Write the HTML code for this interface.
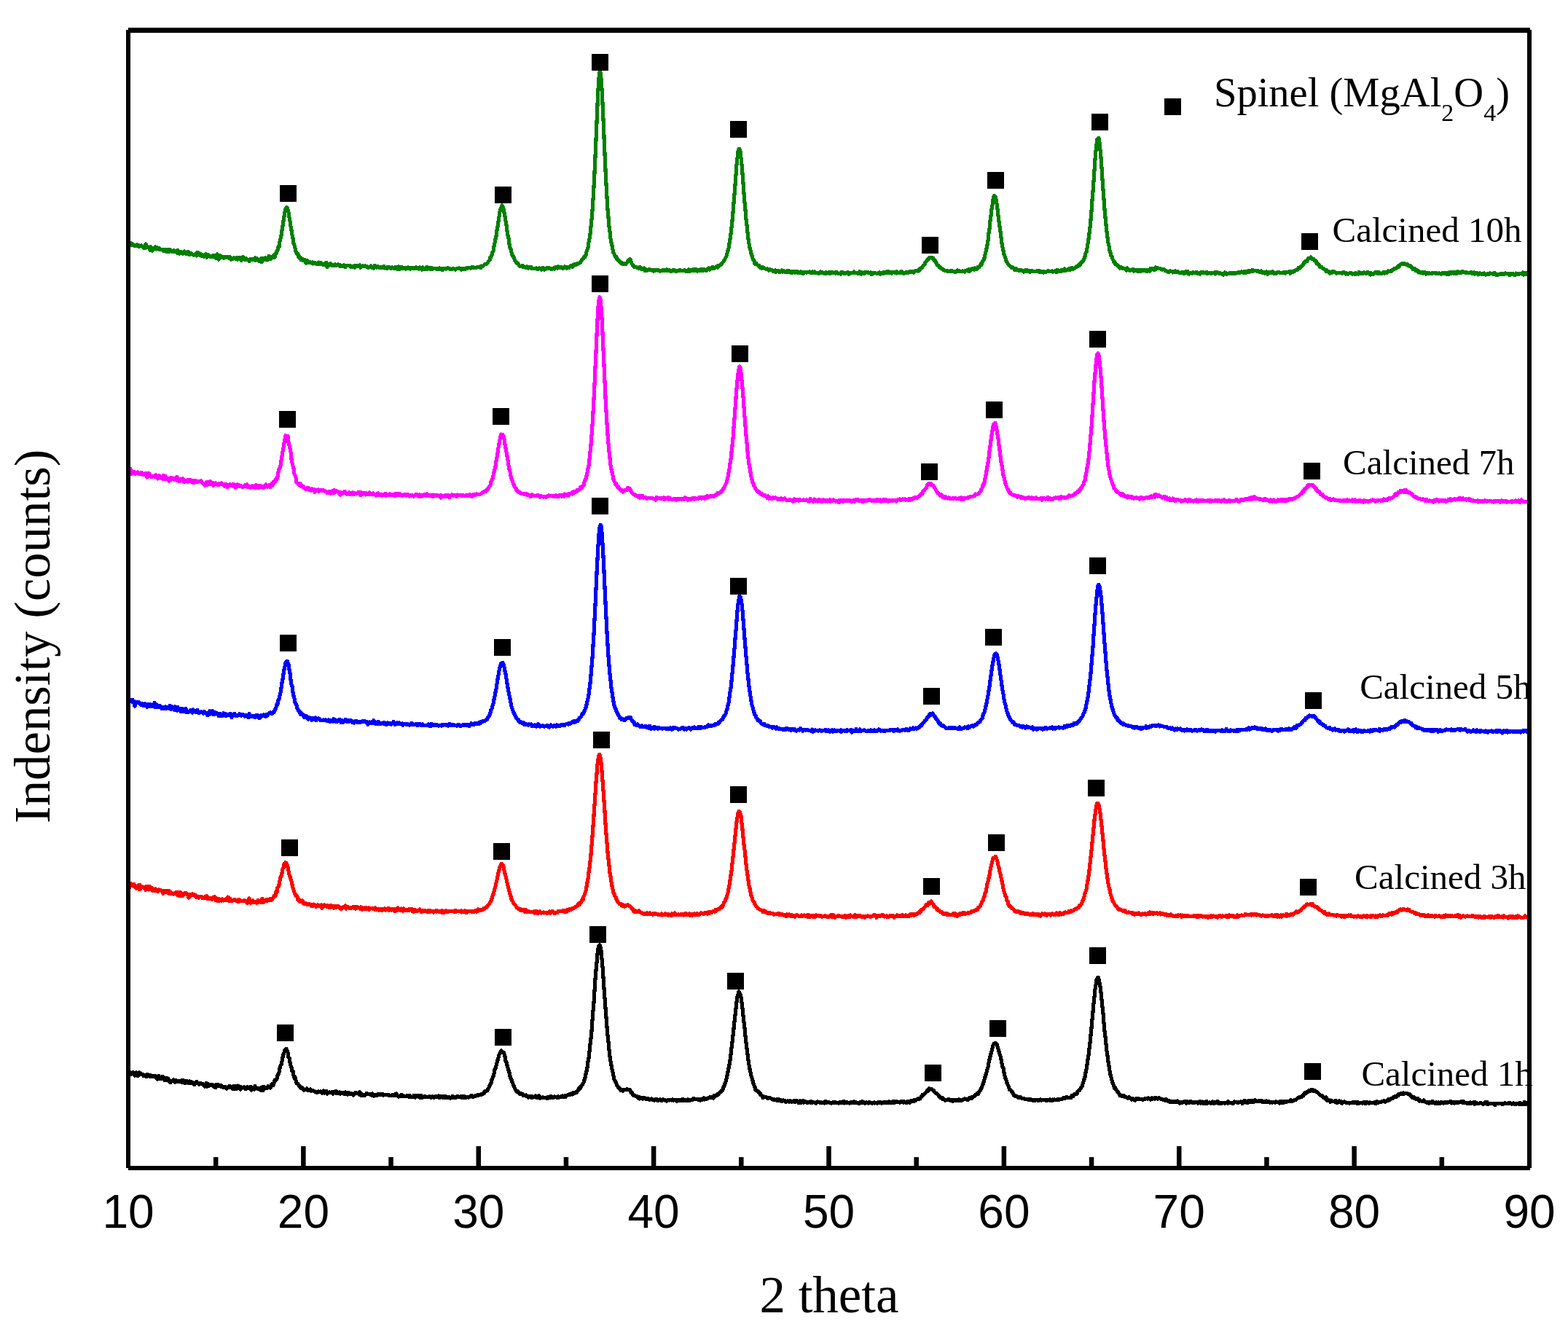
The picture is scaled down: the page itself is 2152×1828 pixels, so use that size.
<!DOCTYPE html><html><head><meta charset="utf-8"><title>XRD patterns</title><style>html,body{margin:0;padding:0;background:#fff;width:2152px;height:1828px;overflow:hidden;}svg{display:block;}.tn{font-family:"Liberation Serif","Times New Roman",serif;fill:#000;}.ar{font-family:"Liberation Sans",Arial,sans-serif;fill:#000;}</style></head><body>
<svg width="2152" height="1828" viewBox="0 0 2152 1828">
<rect width="2152" height="1828" fill="#fff"/>
<path d="M176.0 335.2L177.0 336.2L178.0 335.6L179.0 333.2L180.0 336.9L181.0 336.4L182.0 335.0L183.0 337.0L184.0 336.9L185.0 336.9L186.0 336.7L187.0 337.7L188.0 335.9L189.0 337.0L190.0 336.6L191.0 338.6L192.0 337.9L193.0 337.5L194.0 336.9L195.0 337.9L196.0 338.5L197.0 338.3L198.0 340.9L199.0 340.7L200.0 334.9L201.0 336.4L202.0 339.3L203.0 339.1L204.0 340.3L205.0 340.4L206.0 343.6L207.0 338.7L208.0 340.0L209.0 344.0L210.0 342.0L211.0 342.1L212.0 340.5L213.0 338.8L214.0 341.9L215.0 341.9L216.0 340.0L217.0 341.0L218.0 342.1L219.0 340.9L220.0 342.4L221.0 342.8L222.0 342.9L223.0 342.2L224.0 344.1L225.0 344.7L226.0 344.0L227.0 342.3L228.0 344.9L229.0 343.1L230.0 345.4L231.0 342.6L232.0 345.8L233.0 344.5L234.0 342.7L235.0 344.3L236.0 345.0L237.0 345.5L238.0 343.7L239.0 343.7L240.0 345.8L241.0 344.9L242.0 346.1L243.0 347.1L244.0 343.5L245.0 346.6L246.0 348.2L247.0 346.0L248.0 345.3L249.0 347.8L250.0 347.2L251.0 348.3L252.0 346.6L253.0 345.0L254.0 347.2L255.0 346.8L256.0 348.8L257.0 348.0L258.0 345.4L259.0 346.2L260.0 349.4L261.0 349.2L262.0 347.4L263.0 348.5L264.0 349.3L265.0 349.4L266.0 350.1L267.0 349.3L268.0 348.9L269.0 348.8L270.0 350.9L271.0 346.1L272.0 349.4L273.0 349.7L274.0 347.7L275.0 350.4L276.0 349.1L277.0 351.4L278.0 350.1L279.0 351.3L280.0 352.2L281.0 351.1L282.0 349.4L283.0 348.6L284.0 353.4L285.0 350.9L286.0 350.1L287.0 351.4L288.0 351.1L289.0 352.7L290.0 351.6L291.0 351.7L292.0 350.7L293.0 352.5L294.0 350.5L295.0 353.0L296.0 354.3L297.0 350.1L298.0 348.9L299.0 353.4L300.0 356.2L301.0 351.3L302.0 351.0L303.0 353.7L304.0 351.8L305.0 352.4L306.0 352.7L307.0 354.0L308.0 352.8L309.0 353.8L310.0 353.3L311.0 352.5L312.0 353.3L313.0 352.5L314.0 353.9L315.0 352.4L316.0 352.6L317.0 356.2L318.0 354.2L319.0 354.3L320.0 355.1L321.0 353.9L322.0 354.3L323.0 355.2L324.0 355.1L325.0 353.2L326.0 356.0L327.0 354.2L328.0 353.6L329.0 353.9L330.0 354.7L331.0 357.5L332.0 353.7L333.0 355.6L334.0 352.6L335.0 355.5L336.0 356.8L337.0 355.3L338.0 354.9L339.0 356.1L340.0 356.8L341.0 356.8L342.0 358.5L343.0 356.2L344.0 355.2L345.0 355.9L346.0 356.0L347.0 356.3L348.0 356.1L349.0 356.4L350.0 354.0L351.0 357.3L352.0 355.5L353.0 354.7L354.0 357.1L355.0 358.0L356.0 356.9L357.0 356.4L358.0 355.0L359.0 359.9L360.0 357.2L361.0 354.6L362.0 354.9L363.0 356.0L364.0 353.8L365.0 355.9L366.0 354.9L367.0 356.9L368.0 356.4L369.0 351.4L370.0 354.7L371.0 352.3L372.0 355.4L373.0 353.7L374.0 353.6L375.0 350.9L376.0 353.8L377.0 353.0L378.0 347.8L379.0 348.0L380.0 344.7L381.0 343.1L382.0 338.7L383.0 339.1L384.0 331.5L385.0 327.6L386.0 323.2L387.0 315.8L388.0 310.0L389.0 303.0L390.0 297.3L391.0 290.4L392.0 287.1L393.0 285.0L394.0 284.9L395.0 287.6L396.0 291.5L397.0 298.4L398.0 303.5L399.0 310.3L400.0 316.2L401.0 322.5L402.0 327.1L403.0 334.2L404.0 336.5L405.0 340.6L406.0 345.1L407.0 347.7L408.0 348.9L409.0 348.6L410.0 353.0L411.0 354.0L412.0 353.0L413.0 356.4L414.0 355.4L415.0 355.4L416.0 357.4L417.0 357.5L418.0 358.4L419.0 356.6L420.0 361.0L421.0 358.5L422.0 357.6L423.0 360.4L424.0 359.5L425.0 360.6L426.0 360.0L427.0 360.5L428.0 361.0L429.0 360.1L430.0 361.9L431.0 360.7L432.0 360.4L433.0 361.6L434.0 362.2L435.0 361.5L436.0 360.9L437.0 362.8L438.0 360.1L439.0 361.1L440.0 362.4L441.0 360.9L442.0 362.6L443.0 362.6L444.0 363.8L445.0 361.8L446.0 362.2L447.0 363.4L448.0 360.3L449.0 366.7L450.0 362.5L451.0 362.5L452.0 364.4L453.0 363.5L454.0 361.6L455.0 364.4L456.0 364.7L457.0 363.3L458.0 363.5L459.0 364.5L460.0 363.0L461.0 364.5L462.0 364.3L463.0 363.4L464.0 362.7L465.0 364.1L466.0 363.4L467.0 365.5L468.0 364.6L469.0 365.4L470.0 364.7L471.0 364.9L472.0 363.9L473.0 365.5L474.0 366.7L475.0 364.5L476.0 364.3L477.0 364.8L478.0 364.5L479.0 364.3L480.0 365.3L481.0 364.9L482.0 366.8L483.0 365.3L484.0 365.7L485.0 366.4L486.0 365.1L487.0 367.0L488.0 364.8L489.0 364.7L490.0 365.2L491.0 365.5L492.0 364.2L493.0 365.7L494.0 364.0L495.0 367.3L496.0 365.8L497.0 365.2L498.0 365.0L499.0 365.6L500.0 365.8L501.0 365.0L502.0 365.2L503.0 366.0L504.0 365.7L505.0 367.2L506.0 367.4L507.0 366.3L508.0 366.8L509.0 365.0L510.0 367.1L511.0 366.4L512.0 367.0L513.0 368.2L514.0 364.3L515.0 366.9L516.0 365.5L517.0 367.3L518.0 365.4L519.0 366.3L520.0 367.0L521.0 367.4L522.0 366.9L523.0 366.1L524.0 366.4L525.0 367.8L526.0 367.0L527.0 365.4L528.0 367.9L529.0 367.5L530.0 368.0L531.0 366.8L532.0 368.0L533.0 366.2L534.0 367.8L535.0 366.8L536.0 368.0L537.0 368.3L538.0 366.7L539.0 367.4L540.0 367.5L541.0 368.6L542.0 368.2L543.0 366.4L544.0 368.0L545.0 368.3L546.0 369.6L547.0 366.0L548.0 367.2L549.0 368.9L550.0 366.4L551.0 366.6L552.0 368.2L553.0 368.7L554.0 367.2L555.0 368.3L556.0 368.0L557.0 369.3L558.0 367.9L559.0 368.8L560.0 367.1L561.0 367.8L562.0 367.9L563.0 369.1L564.0 368.6L565.0 367.4L566.0 368.7L567.0 368.8L568.0 368.0L569.0 367.9L570.0 368.0L571.0 366.7L572.0 368.4L573.0 368.5L574.0 367.5L575.0 368.9L576.0 367.1L577.0 367.8L578.0 367.9L579.0 370.1L580.0 367.0L581.0 368.9L582.0 369.2L583.0 368.8L584.0 369.5L585.0 367.6L586.0 366.5L587.0 369.1L588.0 367.5L589.0 368.2L590.0 367.5L591.0 369.4L592.0 369.3L593.0 367.9L594.0 369.3L595.0 368.7L596.0 368.5L597.0 368.7L598.0 368.4L599.0 369.1L600.0 368.9L601.0 368.3L602.0 369.5L603.0 368.1L604.0 368.9L605.0 369.0L606.0 369.9L607.0 368.3L608.0 370.1L609.0 368.8L610.0 368.5L611.0 368.1L612.0 369.2L613.0 368.7L614.0 367.8L615.0 367.8L616.0 368.2L617.0 368.1L618.0 369.6L619.0 369.8L620.0 369.4L621.0 368.9L622.0 368.3L623.0 368.7L624.0 369.3L625.0 370.3L626.0 369.3L627.0 368.3L628.0 368.6L629.0 368.1L630.0 367.9L631.0 368.3L632.0 368.6L633.0 369.9L634.0 368.4L635.0 369.4L636.0 369.7L637.0 368.3L638.0 369.5L639.0 368.7L640.0 367.8L641.0 368.3L642.0 368.0L643.0 367.8L644.0 367.7L645.0 367.9L646.0 368.1L647.0 367.0L648.0 367.5L649.0 366.3L650.0 367.5L651.0 367.7L652.0 367.2L653.0 367.1L654.0 367.2L655.0 366.1L656.0 366.2L657.0 366.6L658.0 366.7L659.0 366.0L660.0 367.4L661.0 365.1L662.0 365.6L663.0 365.4L664.0 363.9L665.0 362.9L666.0 362.1L667.0 362.4L668.0 362.4L669.0 360.8L670.0 359.6L671.0 357.9L672.0 357.0L673.0 353.1L674.0 352.7L675.0 349.9L676.0 345.7L677.0 344.7L678.0 337.9L679.0 333.4L680.0 328.0L681.0 323.9L682.0 316.2L683.0 310.8L684.0 304.2L685.0 297.6L686.0 290.7L687.0 286.7L688.0 285.4L689.0 282.0L690.0 283.3L691.0 286.6L692.0 291.7L693.0 296.9L694.0 303.5L695.0 308.8L696.0 316.8L697.0 322.8L698.0 327.1L699.0 334.8L700.0 340.2L701.0 342.1L702.0 346.4L703.0 350.6L704.0 351.2L705.0 353.1L706.0 355.6L707.0 357.7L708.0 359.1L709.0 361.1L710.0 361.8L711.0 361.5L712.0 363.5L713.0 365.1L714.0 365.1L715.0 365.4L716.0 365.0L717.0 366.1L718.0 364.9L719.0 366.5L720.0 366.1L721.0 367.3L722.0 367.0L723.0 366.0L724.0 367.1L725.0 368.1L726.0 366.5L727.0 367.0L728.0 367.0L729.0 366.6L730.0 368.5L731.0 368.9L732.0 368.6L733.0 368.2L734.0 368.1L735.0 368.4L736.0 367.7L737.0 369.0L738.0 369.1L739.0 369.1L740.0 368.0L741.0 368.5L742.0 368.4L743.0 369.9L744.0 368.7L745.0 367.2L746.0 368.9L747.0 370.0L748.0 369.1L749.0 369.3L750.0 368.6L751.0 367.1L752.0 367.2L753.0 367.6L754.0 368.5L755.0 368.8L756.0 369.0L757.0 368.2L758.0 369.2L759.0 368.2L760.0 367.9L761.0 369.0L762.0 367.6L763.0 366.2L764.0 367.4L765.0 368.2L766.0 365.8L767.0 367.7L768.0 367.7L769.0 366.8L770.0 366.6L771.0 367.3L772.0 367.1L773.0 368.4L774.0 367.6L775.0 366.0L776.0 366.4L777.0 367.4L778.0 368.1L779.0 366.8L780.0 366.5L781.0 367.5L782.0 365.8L783.0 365.4L784.0 364.3L785.0 364.7L786.0 366.4L787.0 363.4L788.0 364.1L789.0 362.6L790.0 363.3L791.0 363.4L792.0 362.0L793.0 362.2L794.0 361.6L795.0 360.7L796.0 360.9L797.0 359.3L798.0 357.6L799.0 356.2L800.0 354.9L801.0 354.5L802.0 352.3L803.0 352.7L804.0 349.9L805.0 345.7L806.0 342.4L807.0 340.1L808.0 332.6L809.0 327.8L810.0 321.7L811.0 311.4L812.0 301.1L813.0 288.4L814.0 274.1L815.0 256.3L816.0 236.8L817.0 215.2L818.0 191.4L819.0 168.3L820.0 143.8L821.0 123.0L822.0 107.4L823.0 99.0L824.0 99.4L825.0 108.3L826.0 122.2L827.0 141.3L828.0 163.6L829.0 187.8L830.0 211.3L831.0 233.1L832.0 252.5L833.0 271.0L834.0 287.5L835.0 298.2L836.0 310.6L837.0 318.3L838.0 327.5L839.0 332.9L840.0 336.8L841.0 342.5L842.0 347.1L843.0 348.5L844.0 351.6L845.0 352.5L846.0 352.6L847.0 356.0L848.0 356.5L849.0 356.8L850.0 359.4L851.0 359.9L852.0 360.0L853.0 361.7L854.0 360.9L855.0 362.4L856.0 361.5L857.0 362.6L858.0 361.2L859.0 362.6L860.0 360.8L861.0 360.4L862.0 357.4L863.0 356.8L864.0 357.6L865.0 355.7L866.0 358.4L867.0 361.7L868.0 363.1L869.0 365.0L870.0 365.2L871.0 366.8L872.0 366.5L873.0 366.5L874.0 366.6L875.0 367.8L876.0 368.0L877.0 368.2L878.0 366.2L879.0 367.5L880.0 368.8L881.0 369.5L882.0 369.0L883.0 368.9L884.0 368.0L885.0 371.3L886.0 369.1L887.0 371.3L888.0 371.3L889.0 370.4L890.0 369.8L891.0 370.4L892.0 369.6L893.0 370.7L894.0 370.6L895.0 371.0L896.0 371.4L897.0 372.0L898.0 370.5L899.0 371.6L900.0 370.3L901.0 370.3L902.0 370.5L903.0 370.3L904.0 371.8L905.0 371.8L906.0 372.1L907.0 371.2L908.0 371.4L909.0 370.8L910.0 370.4L911.0 371.6L912.0 371.5L913.0 370.5L914.0 371.8L915.0 370.1L916.0 371.3L917.0 371.0L918.0 371.1L919.0 370.7L920.0 372.2L921.0 371.9L922.0 372.4L923.0 371.6L924.0 370.6L925.0 371.3L926.0 370.7L927.0 371.9L928.0 372.5L929.0 371.8L930.0 371.1L931.0 371.3L932.0 371.8L933.0 370.5L934.0 371.7L935.0 371.7L936.0 371.2L937.0 371.3L938.0 371.7L939.0 370.9L940.0 370.9L941.0 372.1L942.0 371.7L943.0 372.8L944.0 370.7L945.0 370.1L946.0 372.2L947.0 372.1L948.0 370.8L949.0 370.3L950.0 371.3L951.0 370.0L952.0 371.0L953.0 369.6L954.0 371.0L955.0 369.5L956.0 370.9L957.0 372.2L958.0 370.8L959.0 371.5L960.0 370.3L961.0 370.1L962.0 369.5L963.0 371.4L964.0 370.5L965.0 371.6L966.0 369.4L967.0 370.0L968.0 370.1L969.0 371.0L970.0 371.2L971.0 369.2L972.0 368.6L973.0 368.0L974.0 370.1L975.0 368.9L976.0 368.2L977.0 368.4L978.0 366.3L979.0 366.7L980.0 368.4L981.0 367.6L982.0 367.1L983.0 365.8L984.0 366.6L985.0 367.0L986.0 364.3L987.0 364.6L988.0 363.6L989.0 363.5L990.0 362.4L991.0 361.4L992.0 359.7L993.0 359.1L994.0 357.2L995.0 355.7L996.0 353.7L997.0 351.7L998.0 347.6L999.0 344.1L1000.0 340.7L1001.0 334.4L1002.0 328.0L1003.0 321.4L1004.0 312.4L1005.0 302.5L1006.0 291.6L1007.0 278.5L1008.0 266.8L1009.0 254.1L1010.0 240.2L1011.0 226.2L1012.0 216.9L1013.0 208.2L1014.0 204.4L1015.0 204.5L1016.0 207.3L1017.0 216.6L1018.0 225.8L1019.0 238.6L1020.0 251.6L1021.0 265.4L1022.0 278.3L1023.0 288.4L1024.0 300.7L1025.0 309.1L1026.0 319.2L1027.0 327.7L1028.0 334.4L1029.0 340.2L1030.0 343.6L1031.0 348.0L1032.0 351.1L1033.0 354.6L1034.0 357.1L1035.0 357.5L1036.0 362.2L1037.0 360.7L1038.0 361.5L1039.0 363.3L1040.0 364.3L1041.0 364.9L1042.0 364.6L1043.0 366.9L1044.0 366.3L1045.0 368.0L1046.0 368.3L1047.0 366.7L1048.0 367.3L1049.0 367.7L1050.0 368.9L1051.0 369.1L1052.0 369.5L1053.0 369.0L1054.0 370.2L1055.0 371.1L1056.0 369.3L1057.0 370.3L1058.0 370.9L1059.0 370.8L1060.0 370.9L1061.0 372.5L1062.0 372.3L1063.0 372.1L1064.0 371.0L1065.0 373.4L1066.0 372.1L1067.0 371.5L1068.0 371.8L1069.0 371.8L1070.0 373.8L1071.0 372.5L1072.0 372.5L1073.0 370.9L1074.0 373.1L1075.0 371.8L1076.0 371.9L1077.0 373.2L1078.0 372.2L1079.0 373.5L1080.0 373.8L1081.0 371.7L1082.0 373.0L1083.0 372.0L1084.0 373.1L1085.0 373.9L1086.0 372.3L1087.0 374.7L1088.0 373.1L1089.0 372.5L1090.0 373.4L1091.0 374.1L1092.0 372.5L1093.0 373.6L1094.0 372.6L1095.0 374.5L1096.0 373.8L1097.0 373.4L1098.0 374.5L1099.0 372.8L1100.0 373.5L1101.0 375.2L1102.0 373.8L1103.0 374.9L1104.0 374.0L1105.0 373.4L1106.0 373.8L1107.0 374.0L1108.0 373.7L1109.0 373.4L1110.0 373.5L1111.0 372.9L1112.0 374.2L1113.0 374.4L1114.0 374.7L1115.0 372.8L1116.0 374.8L1117.0 374.2L1118.0 373.1L1119.0 374.3L1120.0 374.8L1121.0 374.6L1122.0 374.8L1123.0 375.0L1124.0 375.0L1125.0 374.3L1126.0 372.8L1127.0 373.8L1128.0 374.6L1129.0 374.0L1130.0 374.9L1131.0 375.0L1132.0 374.4L1133.0 375.8L1134.0 373.7L1135.0 375.1L1136.0 374.1L1137.0 373.9L1138.0 374.9L1139.0 374.0L1140.0 375.1L1141.0 373.6L1142.0 374.5L1143.0 373.9L1144.0 374.3L1145.0 374.2L1146.0 373.7L1147.0 375.0L1148.0 373.6L1149.0 373.8L1150.0 375.2L1151.0 375.3L1152.0 375.1L1153.0 374.8L1154.0 376.3L1155.0 373.7L1156.0 374.0L1157.0 373.9L1158.0 375.3L1159.0 374.8L1160.0 375.5L1161.0 375.4L1162.0 374.5L1163.0 374.0L1164.0 373.9L1165.0 376.3L1166.0 375.4L1167.0 375.1L1168.0 374.4L1169.0 374.5L1170.0 374.4L1171.0 374.4L1172.0 372.9L1173.0 374.6L1174.0 374.4L1175.0 374.9L1176.0 374.8L1177.0 375.3L1178.0 374.7L1179.0 375.3L1180.0 372.7L1181.0 373.8L1182.0 376.0L1183.0 373.8L1184.0 374.5L1185.0 375.2L1186.0 374.0L1187.0 375.2L1188.0 373.6L1189.0 373.2L1190.0 373.7L1191.0 373.4L1192.0 374.6L1193.0 374.4L1194.0 374.9L1195.0 373.9L1196.0 376.5L1197.0 374.6L1198.0 374.6L1199.0 375.0L1200.0 374.4L1201.0 374.1L1202.0 374.7L1203.0 375.3L1204.0 375.1L1205.0 375.3L1206.0 374.2L1207.0 374.0L1208.0 376.1L1209.0 374.4L1210.0 374.9L1211.0 375.1L1212.0 375.6L1213.0 373.5L1214.0 374.2L1215.0 374.2L1216.0 374.3L1217.0 372.7L1218.0 374.4L1219.0 372.3L1220.0 374.7L1221.0 374.8L1222.0 374.9L1223.0 373.5L1224.0 375.1L1225.0 373.7L1226.0 373.4L1227.0 373.6L1228.0 373.7L1229.0 374.4L1230.0 374.9L1231.0 372.7L1232.0 373.8L1233.0 374.9L1234.0 374.3L1235.0 374.5L1236.0 373.0L1237.0 374.8L1238.0 372.8L1239.0 374.1L1240.0 375.0L1241.0 375.3L1242.0 374.2L1243.0 374.4L1244.0 373.3L1245.0 373.3L1246.0 374.5L1247.0 373.5L1248.0 373.3L1249.0 372.3L1250.0 373.3L1251.0 373.6L1252.0 372.4L1253.0 372.5L1254.0 373.9L1255.0 372.6L1256.0 372.0L1257.0 371.1L1258.0 371.2L1259.0 371.1L1260.0 371.9L1261.0 369.9L1262.0 371.1L1263.0 368.4L1264.0 368.0L1265.0 368.0L1266.0 366.2L1267.0 364.6L1268.0 363.8L1269.0 362.9L1270.0 359.8L1271.0 359.4L1272.0 358.0L1273.0 356.4L1274.0 355.9L1275.0 353.9L1276.0 353.2L1277.0 353.1L1278.0 353.6L1279.0 353.2L1280.0 355.2L1281.0 354.4L1282.0 357.3L1283.0 357.1L1284.0 359.0L1285.0 360.9L1286.0 363.6L1287.0 364.0L1288.0 364.3L1289.0 366.7L1290.0 366.6L1291.0 367.0L1292.0 368.8L1293.0 369.2L1294.0 370.4L1295.0 369.8L1296.0 370.9L1297.0 371.4L1298.0 371.4L1299.0 371.4L1300.0 371.1L1301.0 372.5L1302.0 372.1L1303.0 372.4L1304.0 371.9L1305.0 372.2L1306.0 371.5L1307.0 372.4L1308.0 372.9L1309.0 372.5L1310.0 373.0L1311.0 372.6L1312.0 373.4L1313.0 372.2L1314.0 371.1L1315.0 372.7L1316.0 372.2L1317.0 371.6L1318.0 372.7L1319.0 372.4L1320.0 372.5L1321.0 371.8L1322.0 372.1L1323.0 372.1L1324.0 373.1L1325.0 371.2L1326.0 371.6L1327.0 371.8L1328.0 370.1L1329.0 370.0L1330.0 372.7L1331.0 369.5L1332.0 371.1L1333.0 369.8L1334.0 369.6L1335.0 368.5L1336.0 369.0L1337.0 370.0L1338.0 368.0L1339.0 369.1L1340.0 368.4L1341.0 369.2L1342.0 366.7L1343.0 367.4L1344.0 366.3L1345.0 364.5L1346.0 362.4L1347.0 363.5L1348.0 359.7L1349.0 358.4L1350.0 357.0L1351.0 354.3L1352.0 349.4L1353.0 345.8L1354.0 340.8L1355.0 336.1L1356.0 330.6L1357.0 320.0L1358.0 314.0L1359.0 302.7L1360.0 296.1L1361.0 286.8L1362.0 281.6L1363.0 274.2L1364.0 269.7L1365.0 268.6L1366.0 269.8L1367.0 274.0L1368.0 279.4L1369.0 287.1L1370.0 295.8L1371.0 303.6L1372.0 310.6L1373.0 318.3L1374.0 326.3L1375.0 334.4L1376.0 339.2L1377.0 344.0L1378.0 348.9L1379.0 351.4L1380.0 354.6L1381.0 358.4L1382.0 359.8L1383.0 361.4L1384.0 363.4L1385.0 363.9L1386.0 364.8L1387.0 365.7L1388.0 367.2L1389.0 367.4L1390.0 367.0L1391.0 368.1L1392.0 369.2L1393.0 370.5L1394.0 368.6L1395.0 370.0L1396.0 369.8L1397.0 370.8L1398.0 370.8L1399.0 371.7L1400.0 371.2L1401.0 370.6L1402.0 370.7L1403.0 371.6L1404.0 371.7L1405.0 373.3L1406.0 372.9L1407.0 370.8L1408.0 372.1L1409.0 370.9L1410.0 370.7L1411.0 372.6L1412.0 372.5L1413.0 371.4L1414.0 373.4L1415.0 371.5L1416.0 371.4L1417.0 372.8L1418.0 372.5L1419.0 372.3L1420.0 372.4L1421.0 372.6L1422.0 372.4L1423.0 372.4L1424.0 371.1L1425.0 371.5L1426.0 373.0L1427.0 372.0L1428.0 373.0L1429.0 373.5L1430.0 372.3L1431.0 372.8L1432.0 374.1L1433.0 373.1L1434.0 373.9L1435.0 373.7L1436.0 373.1L1437.0 372.4L1438.0 371.8L1439.0 371.6L1440.0 372.7L1441.0 372.7L1442.0 372.2L1443.0 372.9L1444.0 371.8L1445.0 373.0L1446.0 372.2L1447.0 372.1L1448.0 372.0L1449.0 371.9L1450.0 373.8L1451.0 370.6L1452.0 371.9L1453.0 372.6L1454.0 372.1L1455.0 371.3L1456.0 372.7L1457.0 370.5L1458.0 370.2L1459.0 371.5L1460.0 369.8L1461.0 369.0L1462.0 371.3L1463.0 371.0L1464.0 370.8L1465.0 369.7L1466.0 370.0L1467.0 369.0L1468.0 370.8L1469.0 369.8L1470.0 369.5L1471.0 367.2L1472.0 368.9L1473.0 369.1L1474.0 368.5L1475.0 367.8L1476.0 366.7L1477.0 366.0L1478.0 366.2L1479.0 365.4L1480.0 364.6L1481.0 363.5L1482.0 364.1L1483.0 361.0L1484.0 360.8L1485.0 359.1L1486.0 358.8L1487.0 357.3L1488.0 355.0L1489.0 352.1L1490.0 347.4L1491.0 346.2L1492.0 340.5L1493.0 334.6L1494.0 328.3L1495.0 320.3L1496.0 312.0L1497.0 301.6L1498.0 289.4L1499.0 274.9L1500.0 262.7L1501.0 248.4L1502.0 233.6L1503.0 218.9L1504.0 207.0L1505.0 197.7L1506.0 190.6L1507.0 190.1L1508.0 189.7L1509.0 196.1L1510.0 205.5L1511.0 215.9L1512.0 230.2L1513.0 246.1L1514.0 260.4L1515.0 273.4L1516.0 287.6L1517.0 298.4L1518.0 308.4L1519.0 318.1L1520.0 325.8L1521.0 333.3L1522.0 337.3L1523.0 344.0L1524.0 346.9L1525.0 351.2L1526.0 352.1L1527.0 355.3L1528.0 357.6L1529.0 359.8L1530.0 359.6L1531.0 362.9L1532.0 363.0L1533.0 363.2L1534.0 365.3L1535.0 365.1L1536.0 366.5L1537.0 368.0L1538.0 367.3L1539.0 366.8L1540.0 367.3L1541.0 368.5L1542.0 368.6L1543.0 368.1L1544.0 368.5L1545.0 369.8L1546.0 371.3L1547.0 367.8L1548.0 370.6L1549.0 370.1L1550.0 371.0L1551.0 371.2L1552.0 370.8L1553.0 370.1L1554.0 370.0L1555.0 369.7L1556.0 372.2L1557.0 371.2L1558.0 371.0L1559.0 371.3L1560.0 370.6L1561.0 371.9L1562.0 372.7L1563.0 372.6L1564.0 370.6L1565.0 372.8L1566.0 371.1L1567.0 370.3L1568.0 370.7L1569.0 370.9L1570.0 371.5L1571.0 370.6L1572.0 370.1L1573.0 370.9L1574.0 372.4L1575.0 370.2L1576.0 370.8L1577.0 370.3L1578.0 372.0L1579.0 368.3L1580.0 370.3L1581.0 368.2L1582.0 368.4L1583.0 368.6L1584.0 370.8L1585.0 367.7L1586.0 366.7L1587.0 369.0L1588.0 367.4L1589.0 367.9L1590.0 368.2L1591.0 368.5L1592.0 368.5L1593.0 369.1L1594.0 369.5L1595.0 370.2L1596.0 369.6L1597.0 369.7L1598.0 369.8L1599.0 371.4L1600.0 371.2L1601.0 372.0L1602.0 372.2L1603.0 373.3L1604.0 372.5L1605.0 373.1L1606.0 371.8L1607.0 372.1L1608.0 372.8L1609.0 372.3L1610.0 373.9L1611.0 372.5L1612.0 373.6L1613.0 371.8L1614.0 372.9L1615.0 373.6L1616.0 373.7L1617.0 372.6L1618.0 374.1L1619.0 374.8L1620.0 374.6L1621.0 373.7L1622.0 373.7L1623.0 373.3L1624.0 374.7L1625.0 375.4L1626.0 373.9L1627.0 373.1L1628.0 374.5L1629.0 374.9L1630.0 372.4L1631.0 374.6L1632.0 376.1L1633.0 375.1L1634.0 374.9L1635.0 374.8L1636.0 375.3L1637.0 373.9L1638.0 374.0L1639.0 374.9L1640.0 374.1L1641.0 374.8L1642.0 373.2L1643.0 375.2L1644.0 375.3L1645.0 374.7L1646.0 374.8L1647.0 375.9L1648.0 373.9L1649.0 374.1L1650.0 373.9L1651.0 374.4L1652.0 374.0L1653.0 374.8L1654.0 374.3L1655.0 373.7L1656.0 373.6L1657.0 375.7L1658.0 374.8L1659.0 374.7L1660.0 374.9L1661.0 374.8L1662.0 375.4L1663.0 375.3L1664.0 374.4L1665.0 374.2L1666.0 374.1L1667.0 373.9L1668.0 375.9L1669.0 374.2L1670.0 373.4L1671.0 374.3L1672.0 374.3L1673.0 375.1L1674.0 374.2L1675.0 375.3L1676.0 375.2L1677.0 375.8L1678.0 376.5L1679.0 377.0L1680.0 375.9L1681.0 374.0L1682.0 374.6L1683.0 375.1L1684.0 376.4L1685.0 375.4L1686.0 375.8L1687.0 374.7L1688.0 375.3L1689.0 375.4L1690.0 374.5L1691.0 375.4L1692.0 375.6L1693.0 374.6L1694.0 375.5L1695.0 375.9L1696.0 374.7L1697.0 374.6L1698.0 374.3L1699.0 374.0L1700.0 374.5L1701.0 374.0L1702.0 374.0L1703.0 373.5L1704.0 372.8L1705.0 373.1L1706.0 373.9L1707.0 372.7L1708.0 372.9L1709.0 374.4L1710.0 373.8L1711.0 372.3L1712.0 373.0L1713.0 371.9L1714.0 373.4L1715.0 371.6L1716.0 371.9L1717.0 372.7L1718.0 371.0L1719.0 372.5L1720.0 370.9L1721.0 371.7L1722.0 371.4L1723.0 371.6L1724.0 371.9L1725.0 371.9L1726.0 371.4L1727.0 373.0L1728.0 373.0L1729.0 373.7L1730.0 373.9L1731.0 372.1L1732.0 374.2L1733.0 374.4L1734.0 373.2L1735.0 374.5L1736.0 375.0L1737.0 373.6L1738.0 373.0L1739.0 373.9L1740.0 376.3L1741.0 374.5L1742.0 373.4L1743.0 374.2L1744.0 373.7L1745.0 374.2L1746.0 374.6L1747.0 372.6L1748.0 374.8L1749.0 375.6L1750.0 374.4L1751.0 374.2L1752.0 375.3L1753.0 373.6L1754.0 373.6L1755.0 373.4L1756.0 374.3L1757.0 374.7L1758.0 374.3L1759.0 374.8L1760.0 374.9L1761.0 374.6L1762.0 373.6L1763.0 374.0L1764.0 375.0L1765.0 373.2L1766.0 373.8L1767.0 373.5L1768.0 373.6L1769.0 372.8L1770.0 372.5L1771.0 375.3L1772.0 373.9L1773.0 372.4L1774.0 372.7L1775.0 373.0L1776.0 371.9L1777.0 372.3L1778.0 371.0L1779.0 370.8L1780.0 370.5L1781.0 369.6L1782.0 367.5L1783.0 368.6L1784.0 368.0L1785.0 367.3L1786.0 365.3L1787.0 365.2L1788.0 364.1L1789.0 361.4L1790.0 359.9L1791.0 360.7L1792.0 358.4L1793.0 358.7L1794.0 358.5L1795.0 355.5L1796.0 354.6L1797.0 354.5L1798.0 354.6L1799.0 353.1L1800.0 355.1L1801.0 355.2L1802.0 355.5L1803.0 355.4L1804.0 357.4L1805.0 358.4L1806.0 358.0L1807.0 361.6L1808.0 361.0L1809.0 362.7L1810.0 363.2L1811.0 365.0L1812.0 366.6L1813.0 366.1L1814.0 366.4L1815.0 368.1L1816.0 368.2L1817.0 369.3L1818.0 370.3L1819.0 370.9L1820.0 372.4L1821.0 371.1L1822.0 372.5L1823.0 372.1L1824.0 373.8L1825.0 375.0L1826.0 373.5L1827.0 374.7L1828.0 373.2L1829.0 372.6L1830.0 373.0L1831.0 372.9L1832.0 373.4L1833.0 374.1L1834.0 375.2L1835.0 374.9L1836.0 374.8L1837.0 374.2L1838.0 374.1L1839.0 374.7L1840.0 374.8L1841.0 374.9L1842.0 375.1L1843.0 374.7L1844.0 373.4L1845.0 374.1L1846.0 374.3L1847.0 376.2L1848.0 374.7L1849.0 375.5L1850.0 376.1L1851.0 375.3L1852.0 374.8L1853.0 374.9L1854.0 374.4L1855.0 375.4L1856.0 376.0L1857.0 375.6L1858.0 375.8L1859.0 375.7L1860.0 376.7L1861.0 374.7L1862.0 375.3L1863.0 375.7L1864.0 376.2L1865.0 373.4L1866.0 374.8L1867.0 375.1L1868.0 374.5L1869.0 375.9L1870.0 375.4L1871.0 374.9L1872.0 374.0L1873.0 374.2L1874.0 374.5L1875.0 375.5L1876.0 374.3L1877.0 373.6L1878.0 374.1L1879.0 374.7L1880.0 376.4L1881.0 377.0L1882.0 374.7L1883.0 375.8L1884.0 376.1L1885.0 376.0L1886.0 374.9L1887.0 374.0L1888.0 374.6L1889.0 373.5L1890.0 375.0L1891.0 375.4L1892.0 373.4L1893.0 374.7L1894.0 374.9L1895.0 375.5L1896.0 375.5L1897.0 375.0L1898.0 373.8L1899.0 373.9L1900.0 374.9L1901.0 373.4L1902.0 373.7L1903.0 374.7L1904.0 373.4L1905.0 372.0L1906.0 372.5L1907.0 372.9L1908.0 371.9L1909.0 372.5L1910.0 372.2L1911.0 370.3L1912.0 369.9L1913.0 369.6L1914.0 368.2L1915.0 368.7L1916.0 367.6L1917.0 367.6L1918.0 365.9L1919.0 364.9L1920.0 366.3L1921.0 363.6L1922.0 363.1L1923.0 362.5L1924.0 362.4L1925.0 361.6L1926.0 362.0L1927.0 361.5L1928.0 361.8L1929.0 362.5L1930.0 363.1L1931.0 363.4L1932.0 363.0L1933.0 364.4L1934.0 364.7L1935.0 365.4L1936.0 364.8L1937.0 367.3L1938.0 367.4L1939.0 369.5L1940.0 369.3L1941.0 368.6L1942.0 369.0L1943.0 371.5L1944.0 370.4L1945.0 372.1L1946.0 371.7L1947.0 373.9L1948.0 372.7L1949.0 374.1L1950.0 374.2L1951.0 373.1L1952.0 373.5L1953.0 375.0L1954.0 374.1L1955.0 373.6L1956.0 375.2L1957.0 376.4L1958.0 374.5L1959.0 375.7L1960.0 374.6L1961.0 375.8L1962.0 374.7L1963.0 375.9L1964.0 375.4L1965.0 374.9L1966.0 375.2L1967.0 374.7L1968.0 374.3L1969.0 374.4L1970.0 375.2L1971.0 374.4L1972.0 375.6L1973.0 375.7L1974.0 375.6L1975.0 374.9L1976.0 375.3L1977.0 375.3L1978.0 376.3L1979.0 374.7L1980.0 375.0L1981.0 375.1L1982.0 375.1L1983.0 374.6L1984.0 374.7L1985.0 375.9L1986.0 374.6L1987.0 375.7L1988.0 376.5L1989.0 375.9L1990.0 373.5L1991.0 375.3L1992.0 375.0L1993.0 375.0L1994.0 373.2L1995.0 374.9L1996.0 373.4L1997.0 375.1L1998.0 374.8L1999.0 375.8L2000.0 373.5L2001.0 372.6L2002.0 374.4L2003.0 374.2L2004.0 373.3L2005.0 374.6L2006.0 374.1L2007.0 372.6L2008.0 373.4L2009.0 373.4L2010.0 373.7L2011.0 374.1L2012.0 373.5L2013.0 374.0L2014.0 374.7L2015.0 374.4L2016.0 374.3L2017.0 374.4L2018.0 374.7L2019.0 373.4L2020.0 375.1L2021.0 374.3L2022.0 375.2L2023.0 374.1L2024.0 376.0L2025.0 375.6L2026.0 374.4L2027.0 375.7L2028.0 375.0L2029.0 376.9L2030.0 376.0L2031.0 375.1L2032.0 375.9L2033.0 375.7L2034.0 376.6L2035.0 376.0L2036.0 376.2L2037.0 375.0L2038.0 376.4L2039.0 377.4L2040.0 376.3L2041.0 375.8L2042.0 376.0L2043.0 375.2L2044.0 376.0L2045.0 375.1L2046.0 375.9L2047.0 375.6L2048.0 375.3L2049.0 376.4L2050.0 374.8L2051.0 375.9L2052.0 374.9L2053.0 377.3L2054.0 377.4L2055.0 376.6L2056.0 377.4L2057.0 376.4L2058.0 376.4L2059.0 375.7L2060.0 375.3L2061.0 376.1L2062.0 375.6L2063.0 375.7L2064.0 376.5L2065.0 375.9L2066.0 374.8L2067.0 375.8L2068.0 375.4L2069.0 375.8L2070.0 375.2L2071.0 376.9L2072.0 377.4L2073.0 375.2L2074.0 376.5L2075.0 376.5L2076.0 375.2L2077.0 376.1L2078.0 377.1L2079.0 376.7L2080.0 377.2L2081.0 375.1L2082.0 375.5L2083.0 376.2L2084.0 376.3L2085.0 376.0L2086.0 375.7L2087.0 375.7L2088.0 375.6L2089.0 376.4L2090.0 374.0L2091.0 377.2L2092.0 375.6L2093.0 375.0L2094.0 376.4L2095.0 375.0L2096.0 376.3L2097.0 375.7L2098.0 376.5L2099.0 376.6" fill="none" stroke="#008000" stroke-width="5.2" stroke-linejoin="round" shape-rendering="crispEdges"/>
<path d="M176.0 647.2L177.0 646.2L178.0 646.6L179.0 643.5L180.0 650.5L181.0 649.7L182.0 647.5L183.0 649.4L184.0 648.8L185.0 647.7L186.0 650.3L187.0 648.5L188.0 648.6L189.0 648.1L190.0 650.2L191.0 649.5L192.0 650.8L193.0 649.1L194.0 650.4L195.0 649.0L196.0 651.9L197.0 651.1L198.0 651.5L199.0 651.8L200.0 649.7L201.0 652.7L202.0 654.9L203.0 649.2L204.0 649.2L205.0 649.8L206.0 653.7L207.0 652.7L208.0 654.4L209.0 654.0L210.0 653.3L211.0 653.6L212.0 653.0L213.0 654.8L214.0 651.8L215.0 653.1L216.0 654.3L217.0 656.9L218.0 653.1L219.0 652.7L220.0 653.7L221.0 656.2L222.0 654.5L223.0 657.1L224.0 652.3L225.0 657.1L226.0 657.1L227.0 653.4L228.0 656.0L229.0 657.8L230.0 656.2L231.0 657.7L232.0 660.0L233.0 656.9L234.0 656.2L235.0 655.6L236.0 657.9L237.0 656.8L238.0 656.9L239.0 657.2L240.0 658.5L241.0 656.0L242.0 655.4L243.0 654.2L244.0 659.8L245.0 658.3L246.0 660.6L247.0 658.4L248.0 657.4L249.0 659.4L250.0 658.7L251.0 657.1L252.0 657.8L253.0 661.9L254.0 659.9L255.0 660.1L256.0 659.2L257.0 658.7L258.0 661.2L259.0 659.8L260.0 659.0L261.0 660.0L262.0 659.0L263.0 660.8L264.0 662.3L265.0 659.5L266.0 662.9L267.0 660.0L268.0 661.3L269.0 660.0L270.0 661.0L271.0 661.5L272.0 660.9L273.0 660.6L274.0 660.8L275.0 660.7L276.0 659.7L277.0 661.7L278.0 662.8L279.0 663.7L280.0 663.4L281.0 666.1L282.0 663.1L283.0 662.1L284.0 665.6L285.0 661.5L286.0 664.5L287.0 661.9L288.0 663.9L289.0 660.6L290.0 664.8L291.0 663.4L292.0 662.4L293.0 666.3L294.0 665.1L295.0 664.1L296.0 663.1L297.0 664.2L298.0 664.2L299.0 665.5L300.0 665.7L301.0 663.7L302.0 664.0L303.0 664.1L304.0 663.1L305.0 664.2L306.0 665.0L307.0 666.2L308.0 667.2L309.0 664.3L310.0 666.3L311.0 665.0L312.0 668.6L313.0 665.7L314.0 666.6L315.0 664.7L316.0 665.0L317.0 666.4L318.0 665.7L319.0 666.8L320.0 664.3L321.0 667.4L322.0 665.3L323.0 669.0L324.0 666.3L325.0 668.3L326.0 665.0L327.0 667.5L328.0 665.8L329.0 666.4L330.0 667.2L331.0 666.8L332.0 667.7L333.0 668.4L334.0 668.3L335.0 667.4L336.0 665.7L337.0 666.5L338.0 667.4L339.0 664.9L340.0 668.8L341.0 667.5L342.0 667.5L343.0 669.2L344.0 668.9L345.0 668.3L346.0 666.7L347.0 668.5L348.0 668.5L349.0 666.9L350.0 669.5L351.0 668.8L352.0 665.6L353.0 668.3L354.0 666.5L355.0 669.6L356.0 669.2L357.0 666.6L358.0 666.9L359.0 668.1L360.0 667.6L361.0 669.8L362.0 668.7L363.0 667.3L364.0 668.3L365.0 664.8L366.0 667.7L367.0 668.2L368.0 666.6L369.0 665.7L370.0 667.0L371.0 668.4L372.0 665.8L373.0 663.6L374.0 666.2L375.0 661.2L376.0 663.3L377.0 660.7L378.0 661.2L379.0 657.2L380.0 657.8L381.0 653.9L382.0 648.2L383.0 644.2L384.0 642.0L385.0 639.1L386.0 632.2L387.0 626.2L388.0 619.6L389.0 614.5L390.0 608.1L391.0 602.9L392.0 597.6L393.0 598.6L394.0 599.2L395.0 598.5L396.0 607.2L397.0 610.8L398.0 615.6L399.0 620.3L400.0 629.7L401.0 635.5L402.0 639.5L403.0 642.9L404.0 650.6L405.0 652.2L406.0 655.4L407.0 662.0L408.0 663.3L409.0 663.7L410.0 663.5L411.0 666.0L412.0 663.5L413.0 667.2L414.0 666.9L415.0 666.9L416.0 667.1L417.0 670.0L418.0 669.9L419.0 670.4L420.0 671.6L421.0 669.9L422.0 669.7L423.0 669.3L424.0 671.3L425.0 672.8L426.0 671.9L427.0 673.0L428.0 671.1L429.0 672.1L430.0 671.9L431.0 671.5L432.0 675.3L433.0 674.3L434.0 672.5L435.0 672.6L436.0 673.6L437.0 672.1L438.0 674.4L439.0 672.5L440.0 673.7L441.0 673.0L442.0 673.7L443.0 672.9L444.0 672.7L445.0 673.5L446.0 673.9L447.0 674.4L448.0 674.9L449.0 676.6L450.0 675.9L451.0 674.8L452.0 675.9L453.0 674.4L454.0 676.9L455.0 676.0L456.0 673.9L457.0 676.3L458.0 676.5L459.0 672.6L460.0 674.8L461.0 675.2L462.0 673.7L463.0 674.7L464.0 674.9L465.0 676.5L466.0 676.4L467.0 679.0L468.0 675.7L469.0 677.5L470.0 676.3L471.0 676.6L472.0 675.1L473.0 674.3L474.0 675.6L475.0 677.3L476.0 678.3L477.0 677.3L478.0 677.2L479.0 675.8L480.0 678.4L481.0 678.2L482.0 676.3L483.0 676.8L484.0 675.9L485.0 678.5L486.0 677.5L487.0 677.0L488.0 677.6L489.0 677.6L490.0 676.8L491.0 676.0L492.0 676.0L493.0 675.5L494.0 677.9L495.0 679.7L496.0 675.7L497.0 677.7L498.0 678.0L499.0 676.6L500.0 677.8L501.0 676.5L502.0 678.9L503.0 677.1L504.0 677.9L505.0 678.5L506.0 677.4L507.0 676.1L508.0 677.4L509.0 678.8L510.0 677.9L511.0 678.3L512.0 677.0L513.0 678.3L514.0 678.9L515.0 678.2L516.0 680.1L517.0 678.1L518.0 677.3L519.0 676.7L520.0 679.5L521.0 678.4L522.0 679.4L523.0 678.9L524.0 680.1L525.0 679.8L526.0 678.2L527.0 678.9L528.0 679.7L529.0 677.5L530.0 680.1L531.0 679.9L532.0 679.7L533.0 678.6L534.0 679.1L535.0 677.8L536.0 679.0L537.0 678.4L538.0 679.0L539.0 678.5L540.0 679.3L541.0 680.2L542.0 677.8L543.0 680.0L544.0 677.2L545.0 677.1L546.0 679.1L547.0 679.2L548.0 679.7L549.0 677.7L550.0 679.3L551.0 679.5L552.0 680.5L553.0 679.3L554.0 679.9L555.0 678.5L556.0 679.3L557.0 679.1L558.0 680.2L559.0 678.6L560.0 678.8L561.0 680.1L562.0 681.3L563.0 680.0L564.0 680.0L565.0 679.4L566.0 680.7L567.0 680.2L568.0 681.3L569.0 680.1L570.0 679.0L571.0 679.3L572.0 679.0L573.0 678.8L574.0 681.0L575.0 680.7L576.0 678.9L577.0 681.6L578.0 680.2L579.0 679.2L580.0 680.4L581.0 680.0L582.0 679.4L583.0 678.4L584.0 680.2L585.0 680.4L586.0 677.9L587.0 680.7L588.0 680.7L589.0 679.8L590.0 680.3L591.0 680.0L592.0 679.5L593.0 680.0L594.0 681.5L595.0 679.1L596.0 680.5L597.0 680.5L598.0 679.8L599.0 680.0L600.0 679.2L601.0 679.7L602.0 680.4L603.0 680.7L604.0 679.7L605.0 683.0L606.0 680.0L607.0 680.6L608.0 680.3L609.0 680.1L610.0 681.5L611.0 680.1L612.0 681.6L613.0 681.4L614.0 679.6L615.0 681.3L616.0 680.0L617.0 682.7L618.0 680.2L619.0 679.7L620.0 678.9L621.0 679.4L622.0 680.0L623.0 679.7L624.0 679.5L625.0 679.9L626.0 680.3L627.0 681.6L628.0 679.1L629.0 679.9L630.0 679.6L631.0 679.2L632.0 679.3L633.0 679.6L634.0 680.8L635.0 680.1L636.0 679.8L637.0 680.6L638.0 680.3L639.0 679.9L640.0 680.3L641.0 679.3L642.0 680.4L643.0 680.2L644.0 679.4L645.0 678.8L646.0 680.8L647.0 679.6L648.0 681.7L649.0 678.8L650.0 679.8L651.0 678.7L652.0 679.1L653.0 679.4L654.0 678.0L655.0 678.4L656.0 678.4L657.0 678.1L658.0 678.2L659.0 678.3L660.0 677.8L661.0 677.1L662.0 676.3L663.0 675.3L664.0 675.1L665.0 674.7L666.0 674.9L667.0 673.4L668.0 671.9L669.0 672.2L670.0 669.9L671.0 668.5L672.0 667.2L673.0 665.6L674.0 661.0L675.0 659.2L676.0 656.9L677.0 652.8L678.0 648.2L679.0 643.7L680.0 639.9L681.0 632.9L682.0 627.7L683.0 621.6L684.0 614.5L685.0 609.3L686.0 603.5L687.0 599.2L688.0 596.1L689.0 596.7L690.0 596.5L691.0 598.9L692.0 602.5L693.0 609.8L694.0 614.8L695.0 620.3L696.0 626.1L697.0 631.5L698.0 638.6L699.0 643.9L700.0 647.4L701.0 653.7L702.0 657.2L703.0 659.2L704.0 662.4L705.0 665.0L706.0 667.6L707.0 669.2L708.0 669.6L709.0 673.2L710.0 673.4L711.0 675.0L712.0 675.8L713.0 675.4L714.0 676.4L715.0 677.2L716.0 677.6L717.0 677.3L718.0 677.3L719.0 678.2L720.0 677.8L721.0 678.3L722.0 677.4L723.0 679.2L724.0 678.5L725.0 679.1L726.0 679.6L727.0 680.0L728.0 681.4L729.0 680.2L730.0 679.1L731.0 680.4L732.0 680.0L733.0 680.8L734.0 680.1L735.0 680.1L736.0 680.4L737.0 680.3L738.0 679.5L739.0 680.4L740.0 681.0L741.0 681.9L742.0 680.8L743.0 680.8L744.0 681.5L745.0 681.5L746.0 682.4L747.0 681.6L748.0 681.2L749.0 682.2L750.0 682.3L751.0 680.8L752.0 681.3L753.0 679.9L754.0 680.9L755.0 680.5L756.0 680.9L757.0 680.7L758.0 680.9L759.0 680.9L760.0 681.3L761.0 681.1L762.0 680.4L763.0 679.8L764.0 681.7L765.0 681.7L766.0 680.3L767.0 680.9L768.0 679.3L769.0 679.1L770.0 680.0L771.0 681.2L772.0 679.2L773.0 679.2L774.0 680.9L775.0 678.1L776.0 679.9L777.0 679.6L778.0 678.8L779.0 678.9L780.0 680.5L781.0 677.5L782.0 677.8L783.0 677.6L784.0 676.9L785.0 676.1L786.0 677.9L787.0 676.5L788.0 674.6L789.0 674.9L790.0 675.2L791.0 674.7L792.0 672.7L793.0 673.0L794.0 672.5L795.0 671.8L796.0 670.9L797.0 668.2L798.0 669.8L799.0 667.3L800.0 667.0L801.0 666.0L802.0 661.7L803.0 658.6L804.0 657.3L805.0 653.1L806.0 648.7L807.0 643.2L808.0 639.1L809.0 630.1L810.0 620.4L811.0 610.5L812.0 597.3L813.0 583.6L814.0 566.4L815.0 547.0L816.0 527.5L817.0 504.3L818.0 482.4L819.0 460.3L820.0 438.6L821.0 421.7L822.0 411.3L823.0 407.7L824.0 410.4L825.0 420.8L826.0 436.7L827.0 457.0L828.0 479.4L829.0 501.2L830.0 523.7L831.0 545.1L832.0 563.7L833.0 581.4L834.0 596.7L835.0 609.2L836.0 619.8L837.0 628.9L838.0 638.4L839.0 644.1L840.0 647.8L841.0 652.3L842.0 657.9L843.0 660.6L844.0 662.0L845.0 664.9L846.0 664.7L847.0 667.3L848.0 669.2L849.0 668.4L850.0 670.2L851.0 672.2L852.0 673.2L853.0 672.5L854.0 673.7L855.0 675.0L856.0 673.6L857.0 672.7L858.0 673.2L859.0 672.2L860.0 672.6L861.0 670.7L862.0 669.4L863.0 671.8L864.0 670.3L865.0 672.3L866.0 674.0L867.0 675.7L868.0 676.7L869.0 678.2L870.0 678.7L871.0 678.4L872.0 679.9L873.0 680.4L874.0 680.7L875.0 681.3L876.0 681.0L877.0 682.6L878.0 683.0L879.0 680.4L880.0 682.2L881.0 681.8L882.0 680.6L883.0 683.0L884.0 682.3L885.0 682.6L886.0 682.5L887.0 683.9L888.0 684.1L889.0 683.5L890.0 683.9L891.0 683.4L892.0 683.7L893.0 683.1L894.0 683.7L895.0 683.2L896.0 684.1L897.0 684.5L898.0 684.2L899.0 684.9L900.0 686.1L901.0 682.5L902.0 684.2L903.0 683.8L904.0 683.9L905.0 683.3L906.0 684.4L907.0 684.2L908.0 683.9L909.0 684.3L910.0 684.0L911.0 682.8L912.0 685.3L913.0 684.3L914.0 683.9L915.0 684.8L916.0 684.1L917.0 683.0L918.0 685.3L919.0 683.4L920.0 684.5L921.0 684.8L922.0 685.8L923.0 685.6L924.0 684.9L925.0 684.2L926.0 684.5L927.0 685.6L928.0 686.1L929.0 685.2L930.0 684.3L931.0 685.6L932.0 684.5L933.0 684.5L934.0 684.6L935.0 685.2L936.0 685.0L937.0 685.5L938.0 685.7L939.0 685.1L940.0 683.0L941.0 683.4L942.0 684.8L943.0 684.6L944.0 686.2L945.0 684.6L946.0 684.5L947.0 685.2L948.0 685.3L949.0 684.3L950.0 684.8L951.0 683.5L952.0 683.6L953.0 685.2L954.0 683.2L955.0 684.9L956.0 684.6L957.0 684.6L958.0 684.6L959.0 684.3L960.0 682.2L961.0 683.0L962.0 683.2L963.0 684.2L964.0 682.6L965.0 682.8L966.0 682.9L967.0 684.0L968.0 681.8L969.0 681.7L970.0 683.1L971.0 680.8L972.0 682.5L973.0 681.7L974.0 680.7L975.0 681.3L976.0 680.6L977.0 681.2L978.0 681.1L979.0 681.6L980.0 680.1L981.0 679.9L982.0 678.9L983.0 678.9L984.0 679.2L985.0 676.5L986.0 677.8L987.0 676.3L988.0 676.0L989.0 675.4L990.0 674.9L991.0 673.3L992.0 671.6L993.0 670.8L994.0 668.9L995.0 666.7L996.0 664.7L997.0 662.4L998.0 658.5L999.0 654.5L1000.0 648.6L1001.0 643.8L1002.0 635.9L1003.0 630.1L1004.0 620.1L1005.0 611.7L1006.0 601.8L1007.0 587.0L1008.0 575.1L1009.0 560.7L1010.0 546.2L1011.0 532.8L1012.0 522.1L1013.0 513.4L1014.0 506.5L1015.0 502.9L1016.0 505.0L1017.0 511.3L1018.0 521.4L1019.0 531.9L1020.0 544.8L1021.0 559.1L1022.0 571.8L1023.0 585.1L1024.0 597.4L1025.0 607.6L1026.0 619.5L1027.0 628.5L1028.0 636.8L1029.0 642.0L1030.0 648.2L1031.0 654.4L1032.0 658.1L1033.0 662.4L1034.0 663.6L1035.0 666.9L1036.0 668.3L1037.0 670.8L1038.0 671.7L1039.0 673.7L1040.0 675.2L1041.0 675.9L1042.0 674.9L1043.0 677.7L1044.0 678.0L1045.0 677.5L1046.0 678.2L1047.0 679.4L1048.0 680.3L1049.0 679.9L1050.0 679.4L1051.0 681.2L1052.0 681.5L1053.0 683.5L1054.0 681.0L1055.0 684.1L1056.0 683.8L1057.0 682.9L1058.0 684.2L1059.0 683.2L1060.0 684.1L1061.0 682.9L1062.0 683.7L1063.0 683.1L1064.0 682.8L1065.0 683.9L1066.0 683.8L1067.0 684.8L1068.0 685.5L1069.0 684.5L1070.0 684.8L1071.0 685.0L1072.0 683.7L1073.0 685.2L1074.0 685.1L1075.0 685.2L1076.0 684.4L1077.0 683.9L1078.0 685.2L1079.0 685.7L1080.0 686.6L1081.0 686.5L1082.0 686.8L1083.0 686.0L1084.0 686.7L1085.0 685.7L1086.0 686.4L1087.0 686.6L1088.0 688.0L1089.0 686.2L1090.0 685.1L1091.0 687.2L1092.0 685.6L1093.0 686.2L1094.0 686.0L1095.0 685.6L1096.0 687.3L1097.0 686.8L1098.0 685.9L1099.0 686.5L1100.0 686.1L1101.0 686.9L1102.0 686.2L1103.0 685.9L1104.0 686.1L1105.0 686.2L1106.0 686.8L1107.0 685.9L1108.0 686.6L1109.0 687.0L1110.0 688.4L1111.0 687.3L1112.0 684.5L1113.0 686.4L1114.0 686.5L1115.0 687.0L1116.0 688.0L1117.0 687.4L1118.0 685.1L1119.0 687.1L1120.0 686.9L1121.0 687.2L1122.0 687.9L1123.0 686.1L1124.0 687.7L1125.0 685.7L1126.0 687.0L1127.0 687.2L1128.0 688.7L1129.0 686.4L1130.0 685.7L1131.0 687.5L1132.0 686.5L1133.0 688.2L1134.0 686.5L1135.0 686.4L1136.0 688.0L1137.0 687.1L1138.0 687.8L1139.0 686.0L1140.0 688.3L1141.0 686.6L1142.0 687.7L1143.0 686.3L1144.0 685.9L1145.0 686.9L1146.0 687.2L1147.0 688.3L1148.0 687.4L1149.0 687.7L1150.0 687.6L1151.0 689.5L1152.0 686.5L1153.0 688.1L1154.0 687.0L1155.0 687.3L1156.0 686.7L1157.0 688.0L1158.0 686.2L1159.0 686.2L1160.0 687.0L1161.0 686.3L1162.0 687.7L1163.0 687.8L1164.0 686.6L1165.0 687.7L1166.0 686.7L1167.0 687.1L1168.0 687.2L1169.0 688.6L1170.0 687.2L1171.0 686.5L1172.0 686.5L1173.0 688.0L1174.0 685.9L1175.0 686.8L1176.0 686.9L1177.0 685.3L1178.0 686.8L1179.0 687.9L1180.0 687.3L1181.0 686.5L1182.0 687.6L1183.0 687.5L1184.0 688.6L1185.0 686.6L1186.0 686.8L1187.0 687.1L1188.0 687.0L1189.0 687.2L1190.0 687.0L1191.0 686.6L1192.0 685.9L1193.0 686.7L1194.0 686.0L1195.0 686.3L1196.0 686.6L1197.0 687.4L1198.0 687.7L1199.0 686.3L1200.0 687.2L1201.0 687.6L1202.0 687.0L1203.0 685.8L1204.0 685.4L1205.0 687.6L1206.0 687.6L1207.0 687.2L1208.0 686.1L1209.0 688.0L1210.0 687.8L1211.0 686.9L1212.0 686.7L1213.0 685.4L1214.0 687.4L1215.0 685.6L1216.0 687.3L1217.0 687.4L1218.0 686.9L1219.0 688.0L1220.0 686.5L1221.0 687.2L1222.0 687.3L1223.0 686.9L1224.0 686.4L1225.0 687.6L1226.0 686.9L1227.0 686.4L1228.0 686.4L1229.0 686.6L1230.0 688.2L1231.0 686.6L1232.0 686.3L1233.0 685.6L1234.0 685.5L1235.0 684.9L1236.0 686.5L1237.0 686.3L1238.0 685.4L1239.0 685.0L1240.0 685.8L1241.0 685.6L1242.0 685.0L1243.0 686.1L1244.0 685.9L1245.0 685.7L1246.0 686.2L1247.0 685.1L1248.0 686.5L1249.0 684.6L1250.0 685.6L1251.0 685.5L1252.0 684.7L1253.0 684.9L1254.0 683.5L1255.0 683.0L1256.0 683.7L1257.0 682.9L1258.0 683.5L1259.0 682.6L1260.0 682.4L1261.0 681.5L1262.0 680.6L1263.0 679.7L1264.0 678.3L1265.0 677.1L1266.0 677.8L1267.0 673.6L1268.0 673.3L1269.0 672.7L1270.0 670.7L1271.0 669.9L1272.0 667.8L1273.0 665.2L1274.0 664.8L1275.0 663.3L1276.0 664.7L1277.0 665.1L1278.0 664.1L1279.0 665.6L1280.0 666.0L1281.0 666.5L1282.0 668.6L1283.0 669.3L1284.0 671.5L1285.0 673.6L1286.0 675.3L1287.0 677.0L1288.0 677.0L1289.0 678.5L1290.0 679.5L1291.0 680.5L1292.0 678.6L1293.0 680.8L1294.0 682.5L1295.0 681.5L1296.0 682.9L1297.0 683.7L1298.0 681.9L1299.0 683.4L1300.0 683.9L1301.0 683.9L1302.0 682.8L1303.0 684.3L1304.0 683.7L1305.0 684.8L1306.0 684.6L1307.0 683.9L1308.0 684.4L1309.0 683.8L1310.0 683.8L1311.0 683.1L1312.0 684.1L1313.0 684.9L1314.0 684.3L1315.0 684.2L1316.0 683.7L1317.0 683.7L1318.0 684.6L1319.0 682.9L1320.0 685.5L1321.0 683.8L1322.0 685.4L1323.0 684.5L1324.0 683.2L1325.0 683.9L1326.0 683.4L1327.0 683.4L1328.0 683.5L1329.0 682.3L1330.0 682.1L1331.0 682.0L1332.0 681.1L1333.0 681.7L1334.0 681.7L1335.0 681.4L1336.0 681.1L1337.0 680.2L1338.0 680.7L1339.0 678.1L1340.0 678.8L1341.0 678.2L1342.0 678.4L1343.0 677.4L1344.0 676.5L1345.0 674.7L1346.0 674.0L1347.0 670.9L1348.0 669.7L1349.0 665.6L1350.0 665.7L1351.0 662.2L1352.0 656.7L1353.0 651.9L1354.0 645.8L1355.0 640.3L1356.0 635.0L1357.0 627.7L1358.0 619.1L1359.0 611.9L1360.0 603.9L1361.0 597.3L1362.0 590.9L1363.0 585.1L1364.0 582.1L1365.0 580.9L1366.0 580.3L1367.0 585.1L1368.0 589.7L1369.0 596.5L1370.0 601.7L1371.0 611.3L1372.0 618.0L1373.0 626.2L1374.0 634.1L1375.0 638.7L1376.0 644.9L1377.0 651.9L1378.0 655.0L1379.0 659.2L1380.0 663.8L1381.0 666.2L1382.0 669.4L1383.0 671.2L1384.0 672.7L1385.0 674.9L1386.0 677.1L1387.0 676.4L1388.0 678.4L1389.0 678.9L1390.0 678.8L1391.0 679.7L1392.0 679.1L1393.0 679.8L1394.0 680.9L1395.0 681.0L1396.0 682.3L1397.0 680.6L1398.0 681.6L1399.0 681.6L1400.0 682.2L1401.0 683.4L1402.0 681.8L1403.0 683.5L1404.0 682.6L1405.0 682.9L1406.0 684.0L1407.0 683.2L1408.0 684.0L1409.0 683.7L1410.0 683.6L1411.0 683.5L1412.0 682.6L1413.0 683.4L1414.0 684.2L1415.0 684.2L1416.0 683.0L1417.0 684.9L1418.0 684.7L1419.0 683.3L1420.0 683.5L1421.0 684.7L1422.0 683.1L1423.0 683.8L1424.0 684.4L1425.0 684.3L1426.0 684.4L1427.0 684.8L1428.0 683.9L1429.0 684.1L1430.0 686.0L1431.0 683.4L1432.0 684.1L1433.0 684.5L1434.0 684.0L1435.0 685.3L1436.0 684.5L1437.0 684.9L1438.0 682.4L1439.0 685.2L1440.0 685.1L1441.0 683.7L1442.0 685.2L1443.0 684.4L1444.0 684.8L1445.0 685.4L1446.0 684.1L1447.0 683.2L1448.0 683.9L1449.0 682.8L1450.0 683.1L1451.0 683.1L1452.0 683.0L1453.0 684.3L1454.0 684.0L1455.0 682.6L1456.0 684.0L1457.0 681.7L1458.0 682.4L1459.0 682.6L1460.0 683.4L1461.0 682.9L1462.0 682.5L1463.0 683.0L1464.0 682.3L1465.0 682.6L1466.0 680.7L1467.0 679.8L1468.0 680.5L1469.0 681.1L1470.0 680.4L1471.0 680.5L1472.0 680.0L1473.0 679.4L1474.0 679.2L1475.0 677.5L1476.0 678.3L1477.0 676.1L1478.0 676.1L1479.0 674.4L1480.0 675.0L1481.0 672.5L1482.0 673.7L1483.0 670.4L1484.0 670.2L1485.0 668.2L1486.0 665.7L1487.0 665.0L1488.0 661.0L1489.0 659.1L1490.0 653.3L1491.0 648.7L1492.0 642.2L1493.0 637.4L1494.0 629.8L1495.0 620.3L1496.0 609.6L1497.0 597.3L1498.0 586.7L1499.0 571.4L1500.0 554.4L1501.0 540.2L1502.0 523.3L1503.0 512.5L1504.0 501.0L1505.0 491.9L1506.0 485.9L1507.0 484.7L1508.0 487.4L1509.0 495.8L1510.0 504.8L1511.0 517.5L1512.0 531.3L1513.0 546.3L1514.0 562.1L1515.0 577.1L1516.0 589.6L1517.0 601.9L1518.0 612.2L1519.0 622.0L1520.0 630.8L1521.0 639.7L1522.0 645.6L1523.0 651.5L1524.0 655.6L1525.0 658.7L1526.0 661.3L1527.0 664.6L1528.0 666.0L1529.0 670.5L1530.0 670.8L1531.0 671.7L1532.0 674.7L1533.0 673.9L1534.0 675.6L1535.0 675.8L1536.0 677.0L1537.0 677.1L1538.0 678.3L1539.0 679.6L1540.0 678.0L1541.0 677.8L1542.0 680.9L1543.0 680.4L1544.0 681.3L1545.0 680.7L1546.0 682.4L1547.0 682.9L1548.0 680.9L1549.0 682.5L1550.0 681.8L1551.0 681.2L1552.0 682.4L1553.0 683.2L1554.0 681.9L1555.0 682.1L1556.0 684.1L1557.0 683.4L1558.0 683.7L1559.0 682.7L1560.0 683.1L1561.0 683.8L1562.0 683.9L1563.0 683.9L1564.0 685.0L1565.0 683.9L1566.0 682.6L1567.0 683.1L1568.0 683.7L1569.0 684.6L1570.0 683.1L1571.0 683.2L1572.0 683.3L1573.0 682.7L1574.0 682.4L1575.0 682.7L1576.0 683.4L1577.0 682.8L1578.0 682.0L1579.0 682.2L1580.0 680.7L1581.0 682.2L1582.0 681.7L1583.0 681.2L1584.0 679.5L1585.0 682.1L1586.0 678.3L1587.0 679.7L1588.0 679.7L1589.0 681.0L1590.0 679.5L1591.0 681.0L1592.0 680.9L1593.0 681.1L1594.0 682.2L1595.0 683.0L1596.0 682.5L1597.0 682.4L1598.0 681.2L1599.0 684.3L1600.0 683.3L1601.0 682.4L1602.0 684.2L1603.0 685.5L1604.0 684.5L1605.0 683.9L1606.0 686.7L1607.0 685.7L1608.0 685.7L1609.0 686.3L1610.0 684.1L1611.0 685.8L1612.0 685.8L1613.0 687.8L1614.0 685.7L1615.0 685.8L1616.0 685.2L1617.0 685.7L1618.0 686.3L1619.0 686.7L1620.0 686.4L1621.0 688.1L1622.0 687.0L1623.0 687.2L1624.0 687.7L1625.0 687.2L1626.0 686.4L1627.0 685.6L1628.0 687.1L1629.0 686.2L1630.0 687.9L1631.0 686.3L1632.0 685.2L1633.0 687.0L1634.0 687.8L1635.0 686.9L1636.0 687.2L1637.0 687.2L1638.0 688.4L1639.0 687.3L1640.0 687.1L1641.0 686.6L1642.0 685.9L1643.0 688.2L1644.0 688.0L1645.0 686.4L1646.0 687.6L1647.0 687.4L1648.0 686.9L1649.0 687.0L1650.0 687.8L1651.0 686.3L1652.0 686.9L1653.0 687.2L1654.0 687.3L1655.0 687.1L1656.0 687.5L1657.0 687.7L1658.0 686.6L1659.0 687.4L1660.0 686.9L1661.0 688.5L1662.0 686.3L1663.0 687.2L1664.0 687.9L1665.0 687.1L1666.0 687.1L1667.0 686.9L1668.0 687.6L1669.0 686.5L1670.0 687.3L1671.0 687.3L1672.0 686.3L1673.0 687.6L1674.0 687.0L1675.0 687.6L1676.0 688.0L1677.0 687.6L1678.0 686.5L1679.0 687.6L1680.0 686.1L1681.0 686.8L1682.0 688.6L1683.0 687.3L1684.0 688.5L1685.0 687.2L1686.0 687.3L1687.0 686.4L1688.0 688.0L1689.0 687.1L1690.0 687.7L1691.0 687.5L1692.0 687.6L1693.0 687.4L1694.0 687.1L1695.0 687.1L1696.0 686.5L1697.0 685.3L1698.0 687.2L1699.0 688.4L1700.0 687.5L1701.0 688.4L1702.0 686.9L1703.0 685.6L1704.0 685.5L1705.0 686.6L1706.0 686.2L1707.0 685.6L1708.0 686.1L1709.0 684.7L1710.0 685.5L1711.0 684.7L1712.0 684.8L1713.0 685.3L1714.0 684.1L1715.0 685.1L1716.0 684.9L1717.0 683.1L1718.0 685.4L1719.0 682.6L1720.0 683.4L1721.0 684.1L1722.0 681.8L1723.0 684.5L1724.0 684.7L1725.0 683.9L1726.0 684.4L1727.0 684.5L1728.0 684.4L1729.0 685.6L1730.0 684.7L1731.0 685.2L1732.0 685.7L1733.0 686.2L1734.0 686.6L1735.0 684.8L1736.0 684.5L1737.0 686.1L1738.0 686.3L1739.0 685.6L1740.0 686.7L1741.0 687.1L1742.0 687.0L1743.0 688.0L1744.0 686.0L1745.0 686.8L1746.0 688.3L1747.0 687.4L1748.0 686.0L1749.0 687.0L1750.0 687.8L1751.0 688.5L1752.0 687.4L1753.0 687.8L1754.0 686.0L1755.0 686.6L1756.0 687.7L1757.0 686.0L1758.0 686.7L1759.0 685.3L1760.0 687.8L1761.0 686.5L1762.0 687.0L1763.0 685.3L1764.0 685.4L1765.0 687.7L1766.0 685.9L1767.0 685.7L1768.0 686.3L1769.0 686.2L1770.0 684.2L1771.0 684.7L1772.0 685.3L1773.0 685.0L1774.0 685.0L1775.0 684.1L1776.0 683.9L1777.0 683.9L1778.0 682.7L1779.0 682.1L1780.0 681.8L1781.0 681.6L1782.0 680.8L1783.0 679.8L1784.0 679.1L1785.0 678.3L1786.0 677.6L1787.0 676.6L1788.0 674.2L1789.0 674.8L1790.0 671.6L1791.0 672.1L1792.0 669.9L1793.0 669.8L1794.0 669.1L1795.0 665.9L1796.0 667.0L1797.0 666.2L1798.0 665.3L1799.0 665.8L1800.0 665.2L1801.0 666.0L1802.0 665.7L1803.0 667.8L1804.0 668.5L1805.0 669.7L1806.0 669.7L1807.0 672.8L1808.0 674.0L1809.0 673.7L1810.0 674.6L1811.0 675.7L1812.0 677.6L1813.0 678.9L1814.0 678.5L1815.0 678.3L1816.0 681.0L1817.0 681.4L1818.0 682.2L1819.0 683.0L1820.0 682.3L1821.0 683.7L1822.0 683.8L1823.0 684.7L1824.0 685.7L1825.0 685.1L1826.0 684.7L1827.0 686.5L1828.0 686.3L1829.0 685.7L1830.0 684.7L1831.0 685.5L1832.0 686.4L1833.0 686.8L1834.0 686.1L1835.0 686.9L1836.0 686.2L1837.0 686.5L1838.0 687.2L1839.0 686.7L1840.0 687.1L1841.0 687.7L1842.0 687.9L1843.0 686.7L1844.0 687.0L1845.0 686.2L1846.0 686.2L1847.0 687.5L1848.0 686.9L1849.0 685.9L1850.0 687.7L1851.0 686.7L1852.0 687.1L1853.0 687.7L1854.0 687.7L1855.0 687.4L1856.0 686.0L1857.0 687.9L1858.0 687.0L1859.0 686.4L1860.0 685.8L1861.0 688.5L1862.0 687.6L1863.0 687.6L1864.0 688.0L1865.0 687.5L1866.0 686.4L1867.0 688.0L1868.0 688.3L1869.0 687.9L1870.0 688.7L1871.0 689.0L1872.0 686.9L1873.0 687.2L1874.0 688.2L1875.0 687.6L1876.0 687.6L1877.0 688.2L1878.0 688.0L1879.0 687.1L1880.0 687.5L1881.0 686.9L1882.0 687.2L1883.0 686.5L1884.0 685.9L1885.0 686.9L1886.0 686.8L1887.0 687.9L1888.0 688.4L1889.0 687.2L1890.0 687.5L1891.0 686.6L1892.0 686.3L1893.0 686.7L1894.0 686.6L1895.0 687.0L1896.0 686.7L1897.0 687.8L1898.0 686.3L1899.0 685.0L1900.0 686.2L1901.0 685.4L1902.0 685.9L1903.0 686.4L1904.0 684.8L1905.0 684.9L1906.0 685.0L1907.0 683.6L1908.0 684.1L1909.0 683.9L1910.0 683.6L1911.0 683.3L1912.0 682.3L1913.0 681.6L1914.0 679.6L1915.0 678.0L1916.0 678.6L1917.0 679.6L1918.0 677.9L1919.0 675.4L1920.0 676.1L1921.0 676.0L1922.0 673.7L1923.0 675.0L1924.0 673.2L1925.0 674.5L1926.0 673.6L1927.0 675.8L1928.0 672.6L1929.0 674.0L1930.0 673.0L1931.0 675.3L1932.0 675.1L1933.0 676.3L1934.0 676.3L1935.0 676.0L1936.0 677.1L1937.0 677.4L1938.0 678.3L1939.0 679.9L1940.0 681.3L1941.0 681.7L1942.0 682.1L1943.0 681.9L1944.0 683.2L1945.0 682.7L1946.0 683.9L1947.0 684.8L1948.0 684.4L1949.0 684.5L1950.0 684.8L1951.0 685.9L1952.0 685.4L1953.0 684.8L1954.0 685.8L1955.0 685.5L1956.0 687.5L1957.0 686.5L1958.0 685.5L1959.0 686.9L1960.0 687.4L1961.0 687.2L1962.0 686.7L1963.0 687.2L1964.0 687.3L1965.0 687.9L1966.0 687.5L1967.0 688.9L1968.0 687.1L1969.0 688.4L1970.0 687.3L1971.0 686.0L1972.0 686.4L1973.0 686.0L1974.0 686.0L1975.0 688.2L1976.0 686.8L1977.0 687.7L1978.0 686.6L1979.0 687.2L1980.0 686.4L1981.0 687.8L1982.0 686.9L1983.0 686.7L1984.0 686.8L1985.0 688.4L1986.0 687.1L1987.0 687.2L1988.0 685.5L1989.0 685.9L1990.0 686.4L1991.0 684.6L1992.0 686.9L1993.0 685.9L1994.0 685.5L1995.0 685.2L1996.0 685.0L1997.0 684.6L1998.0 685.9L1999.0 685.2L2000.0 685.6L2001.0 684.3L2002.0 683.9L2003.0 685.5L2004.0 683.6L2005.0 684.1L2006.0 685.2L2007.0 685.6L2008.0 683.9L2009.0 684.8L2010.0 685.2L2011.0 685.3L2012.0 684.9L2013.0 686.3L2014.0 685.6L2015.0 685.9L2016.0 684.6L2017.0 686.4L2018.0 685.2L2019.0 687.3L2020.0 687.3L2021.0 686.6L2022.0 687.3L2023.0 687.3L2024.0 687.2L2025.0 687.7L2026.0 687.4L2027.0 687.2L2028.0 687.0L2029.0 688.9L2030.0 687.9L2031.0 687.7L2032.0 688.3L2033.0 687.5L2034.0 687.6L2035.0 688.4L2036.0 688.7L2037.0 688.4L2038.0 686.8L2039.0 688.0L2040.0 688.0L2041.0 688.3L2042.0 687.4L2043.0 687.2L2044.0 687.9L2045.0 687.4L2046.0 687.3L2047.0 688.0L2048.0 688.8L2049.0 688.2L2050.0 688.9L2051.0 687.3L2052.0 688.6L2053.0 688.1L2054.0 687.4L2055.0 687.8L2056.0 687.5L2057.0 687.9L2058.0 687.5L2059.0 689.0L2060.0 687.8L2061.0 687.0L2062.0 688.0L2063.0 688.4L2064.0 687.9L2065.0 688.7L2066.0 687.4L2067.0 687.5L2068.0 689.3L2069.0 688.1L2070.0 688.5L2071.0 688.5L2072.0 688.5L2073.0 688.1L2074.0 688.0L2075.0 688.9L2076.0 687.7L2077.0 688.2L2078.0 688.6L2079.0 687.8L2080.0 687.0L2081.0 688.4L2082.0 688.9L2083.0 688.3L2084.0 686.8L2085.0 688.5L2086.0 689.5L2087.0 686.9L2088.0 686.1L2089.0 687.9L2090.0 688.1L2091.0 688.6L2092.0 688.6L2093.0 688.1L2094.0 688.4L2095.0 688.3L2096.0 688.1L2097.0 688.0L2098.0 687.9L2099.0 688.5" fill="none" stroke="#ff00ff" stroke-width="5.2" stroke-linejoin="round" shape-rendering="crispEdges"/>
<path d="M176.0 965.4L177.0 958.3L178.0 963.3L179.0 961.9L180.0 962.3L181.0 962.9L182.0 960.2L183.0 963.2L184.0 962.4L185.0 969.3L186.0 964.6L187.0 963.8L188.0 964.2L189.0 963.7L190.0 963.3L191.0 964.6L192.0 966.1L193.0 965.2L194.0 967.3L195.0 965.6L196.0 966.2L197.0 968.8L198.0 967.4L199.0 965.9L200.0 966.5L201.0 967.9L202.0 970.3L203.0 966.9L204.0 967.2L205.0 969.3L206.0 966.5L207.0 967.6L208.0 969.6L209.0 969.3L210.0 968.7L211.0 969.8L212.0 964.4L213.0 970.7L214.0 967.7L215.0 966.8L216.0 970.0L217.0 970.8L218.0 969.2L219.0 968.3L220.0 970.2L221.0 970.3L222.0 972.7L223.0 971.8L224.0 971.1L225.0 972.7L226.0 970.8L227.0 969.8L228.0 972.3L229.0 972.4L230.0 971.3L231.0 970.6L232.0 972.3L233.0 968.3L234.0 973.3L235.0 973.1L236.0 970.0L237.0 972.8L238.0 971.3L239.0 974.1L240.0 970.0L241.0 971.8L242.0 974.4L243.0 975.2L244.0 970.3L245.0 973.0L246.0 974.4L247.0 973.1L248.0 976.5L249.0 972.5L250.0 974.9L251.0 972.9L252.0 976.7L253.0 974.7L254.0 974.3L255.0 972.4L256.0 977.6L257.0 976.4L258.0 976.5L259.0 977.2L260.0 976.1L261.0 974.8L262.0 974.6L263.0 974.8L264.0 978.1L265.0 974.0L266.0 975.4L267.0 975.9L268.0 976.8L269.0 977.5L270.0 974.9L271.0 974.3L272.0 976.9L273.0 978.8L274.0 978.3L275.0 977.6L276.0 976.9L277.0 977.9L278.0 977.2L279.0 978.9L280.0 976.6L281.0 978.1L282.0 977.8L283.0 978.9L284.0 978.5L285.0 981.9L286.0 980.5L287.0 980.6L288.0 975.6L289.0 978.2L290.0 977.9L291.0 979.6L292.0 975.7L293.0 980.7L294.0 980.6L295.0 977.4L296.0 977.9L297.0 978.3L298.0 979.5L299.0 980.5L300.0 982.5L301.0 979.5L302.0 980.9L303.0 980.1L304.0 982.5L305.0 981.1L306.0 982.1L307.0 978.7L308.0 980.1L309.0 979.3L310.0 982.6L311.0 981.5L312.0 980.2L313.0 980.1L314.0 981.4L315.0 979.9L316.0 979.6L317.0 981.7L318.0 984.5L319.0 980.8L320.0 980.4L321.0 979.7L322.0 979.5L323.0 982.1L324.0 982.6L325.0 981.5L326.0 982.0L327.0 981.8L328.0 981.9L329.0 979.7L330.0 981.2L331.0 982.0L332.0 980.8L333.0 981.3L334.0 980.9L335.0 981.6L336.0 983.2L337.0 981.6L338.0 982.0L339.0 983.3L340.0 983.1L341.0 984.5L342.0 979.5L343.0 983.4L344.0 981.7L345.0 982.5L346.0 983.5L347.0 983.8L348.0 983.7L349.0 982.6L350.0 984.5L351.0 982.0L352.0 982.2L353.0 983.4L354.0 981.6L355.0 985.1L356.0 983.5L357.0 985.0L358.0 982.1L359.0 981.5L360.0 982.2L361.0 982.8L362.0 981.0L363.0 982.1L364.0 981.4L365.0 983.3L366.0 980.2L367.0 982.2L368.0 979.7L369.0 979.0L370.0 979.0L371.0 978.0L372.0 979.2L373.0 979.7L374.0 977.9L375.0 977.6L376.0 977.8L377.0 974.8L378.0 973.1L379.0 970.6L380.0 966.6L381.0 966.8L382.0 960.4L383.0 959.6L384.0 954.4L385.0 950.8L386.0 943.8L387.0 936.9L388.0 932.1L389.0 924.7L390.0 919.2L391.0 914.3L392.0 910.2L393.0 908.0L394.0 907.2L395.0 910.1L396.0 911.5L397.0 919.2L398.0 923.9L399.0 933.1L400.0 939.7L401.0 941.8L402.0 950.0L403.0 954.8L404.0 958.3L405.0 964.1L406.0 966.4L407.0 967.7L408.0 972.0L409.0 974.2L410.0 976.2L411.0 976.0L412.0 979.4L413.0 980.5L414.0 979.1L415.0 980.4L416.0 981.7L417.0 981.6L418.0 984.9L419.0 983.4L420.0 982.4L421.0 983.0L422.0 984.1L423.0 987.2L424.0 984.5L425.0 985.1L426.0 985.8L427.0 985.4L428.0 988.3L429.0 985.2L430.0 986.9L431.0 986.3L432.0 987.0L433.0 985.1L434.0 988.6L435.0 986.6L436.0 986.9L437.0 985.9L438.0 986.2L439.0 987.8L440.0 988.4L441.0 988.3L442.0 988.9L443.0 988.4L444.0 987.7L445.0 988.7L446.0 988.5L447.0 987.8L448.0 988.9L449.0 989.6L450.0 988.5L451.0 987.9L452.0 989.2L453.0 990.6L454.0 988.3L455.0 988.5L456.0 988.5L457.0 990.1L458.0 986.7L459.0 989.2L460.0 990.2L461.0 988.1L462.0 990.7L463.0 989.7L464.0 988.5L465.0 989.4L466.0 987.6L467.0 988.7L468.0 991.4L469.0 988.5L470.0 991.5L471.0 989.5L472.0 990.7L473.0 989.7L474.0 987.3L475.0 989.2L476.0 990.0L477.0 988.6L478.0 988.5L479.0 990.4L480.0 989.3L481.0 988.3L482.0 989.4L483.0 991.1L484.0 989.7L485.0 991.3L486.0 992.0L487.0 990.4L488.0 989.3L489.0 989.1L490.0 990.5L491.0 991.5L492.0 990.9L493.0 991.3L494.0 990.3L495.0 991.1L496.0 990.4L497.0 990.6L498.0 989.6L499.0 989.4L500.0 990.6L501.0 990.0L502.0 990.2L503.0 991.9L504.0 991.1L505.0 994.3L506.0 992.3L507.0 990.7L508.0 992.2L509.0 991.9L510.0 990.8L511.0 992.7L512.0 990.8L513.0 988.6L514.0 992.5L515.0 991.2L516.0 993.3L517.0 991.2L518.0 990.7L519.0 993.5L520.0 990.9L521.0 992.3L522.0 993.5L523.0 992.3L524.0 992.1L525.0 992.3L526.0 993.1L527.0 991.5L528.0 993.0L529.0 993.0L530.0 994.7L531.0 992.2L532.0 991.7L533.0 993.3L534.0 992.3L535.0 993.0L536.0 992.9L537.0 993.9L538.0 992.2L539.0 992.8L540.0 990.5L541.0 992.1L542.0 994.5L543.0 992.4L544.0 992.4L545.0 992.0L546.0 993.7L547.0 993.4L548.0 992.1L549.0 993.9L550.0 993.6L551.0 994.1L552.0 992.8L553.0 995.1L554.0 993.9L555.0 993.4L556.0 993.1L557.0 993.4L558.0 994.5L559.0 993.5L560.0 994.7L561.0 994.3L562.0 995.1L563.0 994.6L564.0 993.8L565.0 992.2L566.0 994.2L567.0 994.7L568.0 994.2L569.0 994.6L570.0 993.7L571.0 993.8L572.0 993.4L573.0 995.5L574.0 994.4L575.0 993.9L576.0 993.2L577.0 994.2L578.0 995.7L579.0 994.9L580.0 993.8L581.0 995.8L582.0 995.8L583.0 995.4L584.0 995.3L585.0 995.6L586.0 995.1L587.0 995.4L588.0 994.1L589.0 996.1L590.0 995.0L591.0 996.6L592.0 993.1L593.0 995.5L594.0 995.7L595.0 994.6L596.0 995.3L597.0 995.6L598.0 995.5L599.0 994.6L600.0 994.9L601.0 995.9L602.0 996.2L603.0 995.2L604.0 995.2L605.0 995.3L606.0 996.0L607.0 994.3L608.0 994.1L609.0 995.3L610.0 994.3L611.0 994.8L612.0 995.3L613.0 995.7L614.0 994.4L615.0 995.9L616.0 993.9L617.0 995.8L618.0 994.0L619.0 994.3L620.0 995.8L621.0 995.0L622.0 994.7L623.0 995.0L624.0 995.7L625.0 995.3L626.0 995.3L627.0 996.1L628.0 994.7L629.0 994.9L630.0 994.8L631.0 996.1L632.0 996.0L633.0 996.2L634.0 995.1L635.0 995.0L636.0 995.7L637.0 994.7L638.0 995.6L639.0 995.5L640.0 994.4L641.0 994.8L642.0 994.7L643.0 996.0L644.0 996.6L645.0 994.5L646.0 994.5L647.0 992.6L648.0 994.4L649.0 994.1L650.0 993.2L651.0 994.4L652.0 992.5L653.0 993.4L654.0 993.4L655.0 992.2L656.0 993.5L657.0 993.4L658.0 991.3L659.0 991.0L660.0 992.2L661.0 991.3L662.0 990.0L663.0 990.2L664.0 989.8L665.0 989.1L666.0 989.0L667.0 987.8L668.0 987.8L669.0 986.2L670.0 984.3L671.0 982.9L672.0 981.0L673.0 978.2L674.0 974.1L675.0 972.6L676.0 968.5L677.0 965.6L678.0 960.1L679.0 955.5L680.0 950.1L681.0 945.5L682.0 938.5L683.0 932.2L684.0 926.7L685.0 920.6L686.0 916.3L687.0 912.3L688.0 910.1L689.0 910.4L690.0 909.4L691.0 912.1L692.0 915.6L693.0 921.0L694.0 925.1L695.0 931.3L696.0 937.8L697.0 944.2L698.0 949.4L699.0 954.4L700.0 959.1L701.0 964.6L702.0 969.4L703.0 972.2L704.0 975.2L705.0 978.2L706.0 979.6L707.0 982.1L708.0 983.9L709.0 985.8L710.0 986.9L711.0 987.1L712.0 989.8L713.0 991.0L714.0 990.3L715.0 991.4L716.0 991.8L717.0 992.7L718.0 991.4L719.0 994.1L720.0 992.9L721.0 994.5L722.0 993.8L723.0 993.7L724.0 994.2L725.0 995.1L726.0 994.0L727.0 994.6L728.0 994.6L729.0 993.9L730.0 996.3L731.0 995.8L732.0 995.5L733.0 996.5L734.0 995.0L735.0 995.8L736.0 997.2L737.0 996.7L738.0 994.4L739.0 993.6L740.0 995.4L741.0 997.0L742.0 995.9L743.0 996.1L744.0 996.8L745.0 995.7L746.0 996.5L747.0 997.0L748.0 996.8L749.0 996.7L750.0 996.0L751.0 996.8L752.0 996.1L753.0 997.4L754.0 998.3L755.0 995.8L756.0 994.7L757.0 996.0L758.0 996.5L759.0 997.0L760.0 997.0L761.0 995.5L762.0 995.5L763.0 996.9L764.0 995.1L765.0 996.7L766.0 995.6L767.0 996.2L768.0 996.1L769.0 996.0L770.0 996.0L771.0 994.5L772.0 995.3L773.0 994.9L774.0 995.0L775.0 995.5L776.0 994.2L777.0 993.7L778.0 993.4L779.0 993.5L780.0 994.1L781.0 992.6L782.0 993.8L783.0 992.9L784.0 992.1L785.0 990.9L786.0 991.7L787.0 991.6L788.0 989.3L789.0 991.1L790.0 990.8L791.0 989.3L792.0 988.7L793.0 989.5L794.0 987.8L795.0 985.3L796.0 985.0L797.0 983.9L798.0 982.7L799.0 979.6L800.0 980.4L801.0 977.6L802.0 976.1L803.0 973.4L804.0 971.3L805.0 967.0L806.0 962.4L807.0 958.5L808.0 953.2L809.0 944.8L810.0 937.7L811.0 926.9L812.0 914.7L813.0 902.9L814.0 885.9L815.0 870.2L816.0 850.2L817.0 830.7L818.0 808.2L819.0 787.0L820.0 767.7L821.0 748.5L822.0 733.5L823.0 723.3L824.0 720.3L825.0 721.9L826.0 731.2L827.0 746.2L828.0 763.8L829.0 784.3L830.0 806.1L831.0 827.4L832.0 847.7L833.0 868.1L834.0 885.0L835.0 900.6L836.0 913.4L837.0 924.9L838.0 934.3L839.0 943.8L840.0 949.8L841.0 957.1L842.0 963.2L843.0 968.1L844.0 971.1L845.0 972.8L846.0 976.3L847.0 977.4L848.0 980.5L849.0 981.3L850.0 983.4L851.0 985.8L852.0 985.6L853.0 987.5L854.0 986.6L855.0 986.7L856.0 988.3L857.0 988.7L858.0 986.8L859.0 986.9L860.0 985.2L861.0 985.4L862.0 985.5L863.0 984.3L864.0 984.1L865.0 984.1L866.0 986.6L867.0 988.3L868.0 989.7L869.0 990.8L870.0 991.0L871.0 994.3L872.0 993.8L873.0 994.4L874.0 995.6L875.0 993.9L876.0 995.8L877.0 996.1L878.0 996.7L879.0 997.7L880.0 997.2L881.0 995.7L882.0 997.0L883.0 997.6L884.0 997.7L885.0 996.8L886.0 996.6L887.0 998.4L888.0 998.4L889.0 998.2L890.0 997.0L891.0 999.8L892.0 996.4L893.0 998.3L894.0 1000.3L895.0 998.7L896.0 999.0L897.0 998.1L898.0 1000.0L899.0 998.1L900.0 999.3L901.0 999.3L902.0 998.5L903.0 1000.0L904.0 998.3L905.0 998.9L906.0 999.4L907.0 999.2L908.0 999.9L909.0 1000.3L910.0 999.4L911.0 999.2L912.0 999.3L913.0 999.4L914.0 1000.3L915.0 999.6L916.0 1000.1L917.0 999.7L918.0 999.2L919.0 1000.5L920.0 999.1L921.0 999.9L922.0 1001.0L923.0 999.1L924.0 999.9L925.0 998.8L926.0 999.6L927.0 998.8L928.0 999.7L929.0 999.6L930.0 1000.1L931.0 1001.1L932.0 1000.2L933.0 1000.4L934.0 999.9L935.0 999.8L936.0 999.3L937.0 998.6L938.0 1000.0L939.0 1001.1L940.0 1000.2L941.0 999.4L942.0 1001.1L943.0 999.5L944.0 999.3L945.0 998.8L946.0 999.0L947.0 999.5L948.0 1001.1L949.0 999.4L950.0 998.8L951.0 999.0L952.0 999.3L953.0 998.1L954.0 999.4L955.0 999.8L956.0 999.4L957.0 999.6L958.0 998.1L959.0 997.7L960.0 999.8L961.0 999.6L962.0 997.5L963.0 998.7L964.0 998.5L965.0 998.7L966.0 998.4L967.0 997.7L968.0 998.0L969.0 997.9L970.0 997.5L971.0 996.0L972.0 994.9L973.0 996.4L974.0 995.5L975.0 996.7L976.0 996.8L977.0 996.1L978.0 995.3L979.0 995.3L980.0 995.8L981.0 994.0L982.0 994.8L983.0 994.2L984.0 993.3L985.0 993.6L986.0 991.4L987.0 991.9L988.0 989.8L989.0 989.0L990.0 987.8L991.0 987.8L992.0 985.4L993.0 984.7L994.0 982.0L995.0 981.5L996.0 979.6L997.0 975.5L998.0 973.1L999.0 968.2L1000.0 964.5L1001.0 957.3L1002.0 949.5L1003.0 944.3L1004.0 934.5L1005.0 924.2L1006.0 913.8L1007.0 901.5L1008.0 890.2L1009.0 876.5L1010.0 865.3L1011.0 851.9L1012.0 838.6L1013.0 828.9L1014.0 822.5L1015.0 817.6L1016.0 818.8L1017.0 822.2L1018.0 828.4L1019.0 837.9L1020.0 850.0L1021.0 863.3L1022.0 876.3L1023.0 888.2L1024.0 901.3L1025.0 911.9L1026.0 923.6L1027.0 932.4L1028.0 942.4L1029.0 948.7L1030.0 955.6L1031.0 962.1L1032.0 967.6L1033.0 970.3L1034.0 974.6L1035.0 978.2L1036.0 980.8L1037.0 982.2L1038.0 984.8L1039.0 986.1L1040.0 988.7L1041.0 989.3L1042.0 988.9L1043.0 989.1L1044.0 991.7L1045.0 993.2L1046.0 993.1L1047.0 994.3L1048.0 993.8L1049.0 993.6L1050.0 995.7L1051.0 995.6L1052.0 996.4L1053.0 995.2L1054.0 996.7L1055.0 996.5L1056.0 997.8L1057.0 997.1L1058.0 997.3L1059.0 997.5L1060.0 999.1L1061.0 998.4L1062.0 998.0L1063.0 998.0L1064.0 998.2L1065.0 1000.2L1066.0 997.9L1067.0 998.8L1068.0 1000.1L1069.0 1000.6L1070.0 999.7L1071.0 1000.5L1072.0 1000.6L1073.0 1000.9L1074.0 1000.3L1075.0 1001.6L1076.0 1000.6L1077.0 1001.7L1078.0 999.8L1079.0 1001.4L1080.0 999.9L1081.0 999.8L1082.0 1001.3L1083.0 1000.4L1084.0 1001.4L1085.0 1000.4L1086.0 1002.4L1087.0 1001.3L1088.0 1000.5L1089.0 1001.5L1090.0 1002.1L1091.0 1000.9L1092.0 1001.9L1093.0 1003.1L1094.0 1002.3L1095.0 1001.7L1096.0 1001.3L1097.0 1002.2L1098.0 1000.7L1099.0 999.6L1100.0 1001.4L1101.0 1001.1L1102.0 1003.3L1103.0 1002.1L1104.0 1001.3L1105.0 1001.2L1106.0 1002.4L1107.0 1001.5L1108.0 1001.7L1109.0 1002.1L1110.0 1002.3L1111.0 1002.3L1112.0 1002.3L1113.0 1003.2L1114.0 1003.6L1115.0 1001.1L1116.0 1004.3L1117.0 1002.4L1118.0 1003.3L1119.0 1001.8L1120.0 1002.6L1121.0 1002.6L1122.0 1002.5L1123.0 1003.1L1124.0 1002.9L1125.0 1001.7L1126.0 1002.4L1127.0 1003.1L1128.0 1003.1L1129.0 1002.3L1130.0 1002.4L1131.0 1002.5L1132.0 1001.8L1133.0 1001.6L1134.0 1003.8L1135.0 1002.3L1136.0 1002.7L1137.0 1002.1L1138.0 1003.6L1139.0 1004.0L1140.0 1002.5L1141.0 1003.1L1142.0 1002.1L1143.0 1004.0L1144.0 1003.4L1145.0 1002.1L1146.0 1003.7L1147.0 1003.0L1148.0 1003.1L1149.0 1003.0L1150.0 1002.3L1151.0 1002.4L1152.0 1003.2L1153.0 1002.7L1154.0 1002.1L1155.0 1004.3L1156.0 1002.6L1157.0 1002.4L1158.0 1002.3L1159.0 1003.3L1160.0 1003.5L1161.0 1003.0L1162.0 1003.5L1163.0 1001.7L1164.0 1002.5L1165.0 1002.5L1166.0 1002.8L1167.0 1003.2L1168.0 1001.3L1169.0 1005.2L1170.0 1002.2L1171.0 1003.1L1172.0 1003.4L1173.0 1003.5L1174.0 1003.0L1175.0 1000.6L1176.0 1002.0L1177.0 1003.4L1178.0 1002.1L1179.0 1002.0L1180.0 1001.0L1181.0 1003.7L1182.0 1003.2L1183.0 1002.1L1184.0 1002.7L1185.0 1002.7L1186.0 1001.9L1187.0 1002.6L1188.0 1003.0L1189.0 1003.2L1190.0 1003.7L1191.0 1002.8L1192.0 1002.4L1193.0 1003.0L1194.0 1002.3L1195.0 1001.8L1196.0 1003.6L1197.0 1002.4L1198.0 1002.8L1199.0 1003.2L1200.0 1001.9L1201.0 1003.2L1202.0 1003.0L1203.0 1002.6L1204.0 1003.0L1205.0 1002.1L1206.0 1001.0L1207.0 1002.4L1208.0 1001.9L1209.0 1003.3L1210.0 1002.8L1211.0 1002.2L1212.0 1002.6L1213.0 1003.6L1214.0 1003.4L1215.0 1002.8L1216.0 1002.8L1217.0 1002.3L1218.0 1002.4L1219.0 1002.9L1220.0 1002.4L1221.0 1002.7L1222.0 1001.6L1223.0 1001.1L1224.0 1001.1L1225.0 1002.0L1226.0 1003.3L1227.0 1003.2L1228.0 1001.5L1229.0 1001.1L1230.0 1002.8L1231.0 1002.5L1232.0 1001.1L1233.0 1002.9L1234.0 1002.2L1235.0 1003.0L1236.0 1002.2L1237.0 1002.6L1238.0 1002.1L1239.0 1001.1L1240.0 1001.6L1241.0 1001.2L1242.0 1002.3L1243.0 1000.9L1244.0 1000.4L1245.0 1002.0L1246.0 1002.3L1247.0 1002.4L1248.0 1002.0L1249.0 1000.0L1250.0 1000.5L1251.0 1000.4L1252.0 1000.7L1253.0 998.9L1254.0 1000.3L1255.0 1000.3L1256.0 999.1L1257.0 999.6L1258.0 1000.1L1259.0 998.8L1260.0 999.1L1261.0 998.5L1262.0 997.4L1263.0 996.6L1264.0 995.3L1265.0 995.5L1266.0 993.2L1267.0 991.9L1268.0 991.7L1269.0 989.3L1270.0 988.8L1271.0 987.8L1272.0 985.6L1273.0 984.2L1274.0 983.5L1275.0 982.3L1276.0 979.6L1277.0 979.3L1278.0 981.0L1279.0 980.4L1280.0 979.1L1281.0 980.4L1282.0 982.5L1283.0 982.9L1284.0 985.4L1285.0 986.5L1286.0 988.2L1287.0 988.3L1288.0 990.9L1289.0 993.1L1290.0 992.2L1291.0 994.8L1292.0 995.4L1293.0 996.0L1294.0 996.1L1295.0 995.9L1296.0 996.7L1297.0 998.3L1298.0 998.9L1299.0 999.4L1300.0 999.4L1301.0 999.6L1302.0 998.8L1303.0 998.3L1304.0 999.5L1305.0 999.8L1306.0 999.6L1307.0 998.4L1308.0 999.2L1309.0 998.5L1310.0 999.8L1311.0 998.9L1312.0 999.5L1313.0 999.9L1314.0 999.7L1315.0 1000.6L1316.0 998.7L1317.0 997.8L1318.0 1000.1L1319.0 1000.4L1320.0 1000.3L1321.0 999.4L1322.0 999.5L1323.0 999.0L1324.0 997.8L1325.0 998.3L1326.0 998.9L1327.0 997.9L1328.0 999.6L1329.0 996.9L1330.0 997.5L1331.0 998.4L1332.0 996.9L1333.0 996.2L1334.0 995.7L1335.0 995.9L1336.0 997.2L1337.0 996.0L1338.0 995.6L1339.0 994.3L1340.0 994.8L1341.0 993.5L1342.0 992.0L1343.0 991.5L1344.0 991.0L1345.0 990.5L1346.0 988.2L1347.0 987.0L1348.0 986.2L1349.0 981.9L1350.0 978.9L1351.0 977.5L1352.0 973.6L1353.0 969.2L1354.0 965.0L1355.0 959.5L1356.0 954.5L1357.0 947.8L1358.0 942.1L1359.0 933.7L1360.0 926.8L1361.0 920.5L1362.0 913.3L1363.0 908.2L1364.0 902.7L1365.0 898.8L1366.0 897.5L1367.0 896.8L1368.0 897.7L1369.0 901.3L1370.0 906.3L1371.0 912.2L1372.0 919.1L1373.0 926.6L1374.0 933.3L1375.0 941.1L1376.0 947.3L1377.0 952.4L1378.0 959.5L1379.0 964.3L1380.0 967.7L1381.0 972.4L1382.0 976.6L1383.0 979.1L1384.0 982.3L1385.0 984.2L1386.0 986.4L1387.0 987.4L1388.0 989.3L1389.0 990.0L1390.0 991.8L1391.0 991.0L1392.0 993.3L1393.0 994.6L1394.0 994.7L1395.0 994.8L1396.0 995.7L1397.0 995.1L1398.0 995.4L1399.0 996.1L1400.0 996.6L1401.0 997.7L1402.0 996.5L1403.0 998.2L1404.0 996.5L1405.0 997.3L1406.0 998.0L1407.0 999.0L1408.0 997.9L1409.0 996.9L1410.0 998.9L1411.0 998.7L1412.0 998.0L1413.0 998.1L1414.0 998.5L1415.0 999.2L1416.0 999.7L1417.0 998.1L1418.0 1001.0L1419.0 999.3L1420.0 999.1L1421.0 1000.0L1422.0 999.6L1423.0 1001.3L1424.0 1000.4L1425.0 999.3L1426.0 999.3L1427.0 999.3L1428.0 999.4L1429.0 1000.2L1430.0 999.2L1431.0 1000.9L1432.0 999.6L1433.0 999.5L1434.0 1000.4L1435.0 998.2L1436.0 998.9L1437.0 1000.0L1438.0 999.6L1439.0 999.5L1440.0 999.8L1441.0 999.0L1442.0 999.3L1443.0 998.4L1444.0 997.9L1445.0 1000.2L1446.0 998.5L1447.0 998.6L1448.0 1000.1L1449.0 999.8L1450.0 998.5L1451.0 998.5L1452.0 998.7L1453.0 997.9L1454.0 999.0L1455.0 998.6L1456.0 998.4L1457.0 998.8L1458.0 998.6L1459.0 999.3L1460.0 998.9L1461.0 996.3L1462.0 998.1L1463.0 996.4L1464.0 995.9L1465.0 997.3L1466.0 996.0L1467.0 996.0L1468.0 996.8L1469.0 995.2L1470.0 994.7L1471.0 995.2L1472.0 995.5L1473.0 994.6L1474.0 992.6L1475.0 992.8L1476.0 992.6L1477.0 993.6L1478.0 992.1L1479.0 991.4L1480.0 990.8L1481.0 988.8L1482.0 988.4L1483.0 987.2L1484.0 984.8L1485.0 984.0L1486.0 982.6L1487.0 979.3L1488.0 978.2L1489.0 975.2L1490.0 971.9L1491.0 966.3L1492.0 962.1L1493.0 957.3L1494.0 950.1L1495.0 941.1L1496.0 933.0L1497.0 923.8L1498.0 911.5L1499.0 899.5L1500.0 887.8L1501.0 871.9L1502.0 857.5L1503.0 842.8L1504.0 829.9L1505.0 820.2L1506.0 810.3L1507.0 804.0L1508.0 802.3L1509.0 804.8L1510.0 810.6L1511.0 817.7L1512.0 829.5L1513.0 841.0L1514.0 855.1L1515.0 869.1L1516.0 883.0L1517.0 895.5L1518.0 908.2L1519.0 920.1L1520.0 929.0L1521.0 939.3L1522.0 947.6L1523.0 955.0L1524.0 960.2L1525.0 965.3L1526.0 969.9L1527.0 973.0L1528.0 976.5L1529.0 979.6L1530.0 981.8L1531.0 982.7L1532.0 984.9L1533.0 985.0L1534.0 988.4L1535.0 988.5L1536.0 990.0L1537.0 989.8L1538.0 991.3L1539.0 992.4L1540.0 993.4L1541.0 992.2L1542.0 994.4L1543.0 994.1L1544.0 994.1L1545.0 995.4L1546.0 995.2L1547.0 995.5L1548.0 995.5L1549.0 996.5L1550.0 996.6L1551.0 996.7L1552.0 996.4L1553.0 996.9L1554.0 997.8L1555.0 998.6L1556.0 997.8L1557.0 999.0L1558.0 998.1L1559.0 997.4L1560.0 998.8L1561.0 997.7L1562.0 998.8L1563.0 999.4L1564.0 998.4L1565.0 998.6L1566.0 1000.5L1567.0 998.9L1568.0 998.9L1569.0 999.2L1570.0 998.5L1571.0 998.5L1572.0 998.7L1573.0 996.6L1574.0 999.3L1575.0 997.3L1576.0 997.1L1577.0 998.1L1578.0 997.5L1579.0 996.4L1580.0 997.2L1581.0 996.0L1582.0 996.1L1583.0 995.2L1584.0 995.5L1585.0 996.2L1586.0 995.9L1587.0 995.9L1588.0 996.2L1589.0 995.5L1590.0 995.0L1591.0 995.3L1592.0 996.9L1593.0 995.9L1594.0 996.3L1595.0 996.2L1596.0 996.8L1597.0 997.2L1598.0 997.2L1599.0 997.4L1600.0 997.3L1601.0 997.5L1602.0 998.8L1603.0 999.3L1604.0 999.7L1605.0 999.4L1606.0 998.9L1607.0 1000.3L1608.0 1000.5L1609.0 999.1L1610.0 1001.0L1611.0 1001.0L1612.0 1002.0L1613.0 1000.0L1614.0 1000.0L1615.0 1001.7L1616.0 999.9L1617.0 1000.8L1618.0 1000.6L1619.0 1000.7L1620.0 1000.1L1621.0 1001.4L1622.0 1002.4L1623.0 1002.0L1624.0 1002.1L1625.0 1001.5L1626.0 1002.9L1627.0 1002.3L1628.0 1002.7L1629.0 1000.8L1630.0 1002.3L1631.0 1001.2L1632.0 1002.3L1633.0 1002.2L1634.0 1001.3L1635.0 1002.3L1636.0 1003.0L1637.0 1002.6L1638.0 1002.7L1639.0 1001.6L1640.0 1001.7L1641.0 1001.4L1642.0 1002.4L1643.0 1003.2L1644.0 1002.7L1645.0 1002.3L1646.0 1001.5L1647.0 1002.7L1648.0 1002.2L1649.0 1001.0L1650.0 1001.1L1651.0 1002.2L1652.0 1001.8L1653.0 1003.7L1654.0 1002.5L1655.0 1001.7L1656.0 1002.1L1657.0 1003.7L1658.0 1001.8L1659.0 1003.1L1660.0 1002.9L1661.0 1003.6L1662.0 1002.9L1663.0 1002.3L1664.0 1003.0L1665.0 1002.6L1666.0 1003.3L1667.0 1002.5L1668.0 1004.1L1669.0 1002.5L1670.0 1002.9L1671.0 1002.1L1672.0 1002.7L1673.0 1002.6L1674.0 1002.7L1675.0 1003.3L1676.0 1002.2L1677.0 1002.0L1678.0 1003.4L1679.0 1002.4L1680.0 1002.1L1681.0 1003.5L1682.0 1003.2L1683.0 1000.6L1684.0 1002.3L1685.0 1003.2L1686.0 1003.2L1687.0 1002.2L1688.0 1003.7L1689.0 1001.9L1690.0 1002.3L1691.0 1002.6L1692.0 1002.4L1693.0 1003.0L1694.0 1003.2L1695.0 1002.3L1696.0 1003.4L1697.0 1001.7L1698.0 1002.0L1699.0 1003.4L1700.0 1002.1L1701.0 1002.8L1702.0 1001.6L1703.0 1001.6L1704.0 1001.6L1705.0 1001.7L1706.0 1001.2L1707.0 1001.3L1708.0 1001.6L1709.0 1001.9L1710.0 1000.9L1711.0 1001.1L1712.0 1001.1L1713.0 999.4L1714.0 998.8L1715.0 1001.0L1716.0 1000.6L1717.0 999.5L1718.0 999.6L1719.0 998.5L1720.0 998.1L1721.0 999.3L1722.0 997.9L1723.0 999.7L1724.0 998.6L1725.0 999.4L1726.0 1000.7L1727.0 1000.8L1728.0 999.4L1729.0 1000.5L1730.0 999.1L1731.0 999.6L1732.0 1000.5L1733.0 1001.5L1734.0 1000.2L1735.0 1001.2L1736.0 1001.0L1737.0 1000.1L1738.0 1001.1L1739.0 1002.5L1740.0 1001.4L1741.0 1001.9L1742.0 1002.3L1743.0 1001.2L1744.0 1002.7L1745.0 1003.0L1746.0 1003.1L1747.0 1002.9L1748.0 1001.6L1749.0 1001.5L1750.0 1001.4L1751.0 1001.3L1752.0 1001.4L1753.0 1002.7L1754.0 1003.1L1755.0 1001.5L1756.0 1002.6L1757.0 1001.0L1758.0 1001.6L1759.0 1001.1L1760.0 1000.6L1761.0 1001.8L1762.0 1001.7L1763.0 1001.3L1764.0 1001.1L1765.0 1000.7L1766.0 1001.3L1767.0 1000.8L1768.0 1001.3L1769.0 1000.1L1770.0 1001.0L1771.0 1001.0L1772.0 1001.3L1773.0 1001.0L1774.0 1000.0L1775.0 999.1L1776.0 997.9L1777.0 998.9L1778.0 999.5L1779.0 999.2L1780.0 995.5L1781.0 996.3L1782.0 995.9L1783.0 994.7L1784.0 994.8L1785.0 993.9L1786.0 992.5L1787.0 991.9L1788.0 989.8L1789.0 989.2L1790.0 988.2L1791.0 988.4L1792.0 985.4L1793.0 985.4L1794.0 985.2L1795.0 983.6L1796.0 983.5L1797.0 981.8L1798.0 982.1L1799.0 982.2L1800.0 983.2L1801.0 982.2L1802.0 983.1L1803.0 982.6L1804.0 983.3L1805.0 985.2L1806.0 985.4L1807.0 987.1L1808.0 987.6L1809.0 989.7L1810.0 991.0L1811.0 989.7L1812.0 992.7L1813.0 992.7L1814.0 993.6L1815.0 994.1L1816.0 995.5L1817.0 994.9L1818.0 995.9L1819.0 996.5L1820.0 997.9L1821.0 998.9L1822.0 999.3L1823.0 999.4L1824.0 999.1L1825.0 998.5L1826.0 1000.5L1827.0 1000.5L1828.0 1000.9L1829.0 1002.0L1830.0 1000.9L1831.0 1001.1L1832.0 999.7L1833.0 1002.0L1834.0 1001.6L1835.0 1001.2L1836.0 1002.2L1837.0 1001.2L1838.0 1001.6L1839.0 1003.6L1840.0 1002.7L1841.0 1002.9L1842.0 1002.9L1843.0 1002.8L1844.0 1002.6L1845.0 1004.2L1846.0 1002.4L1847.0 1003.1L1848.0 1002.4L1849.0 1002.3L1850.0 1000.8L1851.0 1001.2L1852.0 1003.8L1853.0 1003.8L1854.0 1002.4L1855.0 1002.7L1856.0 1003.2L1857.0 1002.0L1858.0 1004.1L1859.0 1002.0L1860.0 1002.3L1861.0 1000.8L1862.0 1004.0L1863.0 1002.9L1864.0 1004.1L1865.0 1002.1L1866.0 1003.1L1867.0 1002.9L1868.0 1003.0L1869.0 1004.4L1870.0 1004.6L1871.0 1003.9L1872.0 1002.6L1873.0 1003.6L1874.0 1003.9L1875.0 1003.3L1876.0 1003.3L1877.0 1003.2L1878.0 1002.2L1879.0 1003.0L1880.0 1004.0L1881.0 1002.0L1882.0 1002.8L1883.0 1003.4L1884.0 1001.7L1885.0 1002.6L1886.0 1001.4L1887.0 1002.2L1888.0 1001.5L1889.0 1001.9L1890.0 1002.1L1891.0 1002.2L1892.0 1002.2L1893.0 1000.5L1894.0 1003.4L1895.0 1001.9L1896.0 1001.2L1897.0 1001.5L1898.0 1002.0L1899.0 1000.9L1900.0 1001.2L1901.0 1001.0L1902.0 1001.5L1903.0 1000.3L1904.0 1001.0L1905.0 1000.6L1906.0 1000.0L1907.0 1000.7L1908.0 999.4L1909.0 998.1L1910.0 998.7L1911.0 998.1L1912.0 997.5L1913.0 997.2L1914.0 998.2L1915.0 996.0L1916.0 995.5L1917.0 994.3L1918.0 994.8L1919.0 993.1L1920.0 991.9L1921.0 990.9L1922.0 991.6L1923.0 991.3L1924.0 989.1L1925.0 989.4L1926.0 990.1L1927.0 990.3L1928.0 988.5L1929.0 989.3L1930.0 990.5L1931.0 989.7L1932.0 990.2L1933.0 990.6L1934.0 990.6L1935.0 992.2L1936.0 993.1L1937.0 992.4L1938.0 994.2L1939.0 995.7L1940.0 995.6L1941.0 996.8L1942.0 996.3L1943.0 998.3L1944.0 997.2L1945.0 999.7L1946.0 998.4L1947.0 998.7L1948.0 998.9L1949.0 999.7L1950.0 999.9L1951.0 1000.1L1952.0 1000.6L1953.0 1001.6L1954.0 1002.0L1955.0 1001.3L1956.0 1002.6L1957.0 1001.1L1958.0 1001.2L1959.0 1001.2L1960.0 1002.6L1961.0 1001.1L1962.0 1001.3L1963.0 1003.4L1964.0 1003.8L1965.0 1003.6L1966.0 1001.5L1967.0 1002.7L1968.0 1003.3L1969.0 1002.8L1970.0 1001.5L1971.0 1002.5L1972.0 1001.5L1973.0 1001.8L1974.0 1004.4L1975.0 1003.3L1976.0 1001.6L1977.0 1001.6L1978.0 1003.0L1979.0 1002.2L1980.0 1003.0L1981.0 1002.1L1982.0 1002.4L1983.0 1002.6L1984.0 1001.6L1985.0 1000.8L1986.0 1001.3L1987.0 1001.6L1988.0 1001.8L1989.0 1001.8L1990.0 1001.7L1991.0 1002.0L1992.0 1000.9L1993.0 1002.5L1994.0 1002.8L1995.0 1001.5L1996.0 1001.3L1997.0 1002.0L1998.0 1001.5L1999.0 1001.1L2000.0 1000.9L2001.0 1000.5L2002.0 1000.2L2003.0 1001.6L2004.0 1002.1L2005.0 1000.5L2006.0 1001.3L2007.0 1001.7L2008.0 1001.3L2009.0 1001.2L2010.0 1001.6L2011.0 1000.6L2012.0 1002.1L2013.0 1002.1L2014.0 1004.0L2015.0 1003.3L2016.0 1002.4L2017.0 1002.8L2018.0 1004.1L2019.0 1004.2L2020.0 1003.2L2021.0 1003.0L2022.0 1002.1L2023.0 1003.0L2024.0 1003.2L2025.0 1002.8L2026.0 1004.7L2027.0 1002.0L2028.0 1003.4L2029.0 1003.8L2030.0 1003.9L2031.0 1004.8L2032.0 1002.5L2033.0 1003.0L2034.0 1003.7L2035.0 1003.7L2036.0 1003.4L2037.0 1003.1L2038.0 1004.5L2039.0 1002.9L2040.0 1003.3L2041.0 1004.8L2042.0 1005.0L2043.0 1004.4L2044.0 1003.1L2045.0 1003.1L2046.0 1003.1L2047.0 1002.9L2048.0 1003.5L2049.0 1004.8L2050.0 1004.0L2051.0 1003.2L2052.0 1003.2L2053.0 1002.9L2054.0 1004.7L2055.0 1002.3L2056.0 1004.0L2057.0 1002.8L2058.0 1003.0L2059.0 1002.7L2060.0 1004.6L2061.0 1003.8L2062.0 1005.9L2063.0 1003.1L2064.0 1003.0L2065.0 1004.3L2066.0 1004.3L2067.0 1003.7L2068.0 1002.4L2069.0 1005.0L2070.0 1004.3L2071.0 1004.2L2072.0 1003.4L2073.0 1004.4L2074.0 1003.5L2075.0 1003.9L2076.0 1003.7L2077.0 1004.8L2078.0 1003.5L2079.0 1003.6L2080.0 1004.7L2081.0 1004.0L2082.0 1003.9L2083.0 1003.7L2084.0 1004.6L2085.0 1003.4L2086.0 1004.2L2087.0 1005.4L2088.0 1004.2L2089.0 1003.3L2090.0 1003.0L2091.0 1004.0L2092.0 1003.0L2093.0 1002.7L2094.0 1003.3L2095.0 1003.0L2096.0 1004.5L2097.0 1002.8L2098.0 1005.1L2099.0 1003.3" fill="none" stroke="#0000ff" stroke-width="5.2" stroke-linejoin="round" shape-rendering="crispEdges"/>
<path d="M176.0 1213.4L177.0 1214.4L178.0 1217.5L179.0 1216.1L180.0 1212.6L181.0 1215.4L182.0 1214.6L183.0 1216.1L184.0 1213.4L185.0 1216.6L186.0 1216.8L187.0 1219.1L188.0 1217.3L189.0 1217.8L190.0 1214.8L191.0 1220.9L192.0 1214.5L193.0 1219.5L194.0 1217.4L195.0 1216.7L196.0 1217.2L197.0 1217.4L198.0 1219.2L199.0 1218.6L200.0 1221.4L201.0 1216.3L202.0 1219.3L203.0 1218.1L204.0 1220.9L205.0 1216.5L206.0 1219.5L207.0 1220.6L208.0 1218.1L209.0 1222.2L210.0 1221.1L211.0 1222.5L212.0 1222.6L213.0 1219.8L214.0 1220.2L215.0 1221.3L216.0 1223.0L217.0 1223.3L218.0 1221.0L219.0 1221.4L220.0 1221.2L221.0 1221.7L222.0 1222.5L223.0 1222.8L224.0 1226.4L225.0 1222.5L226.0 1223.0L227.0 1224.4L228.0 1222.3L229.0 1223.4L230.0 1224.2L231.0 1225.5L232.0 1222.4L233.0 1226.7L234.0 1224.2L235.0 1225.2L236.0 1226.4L237.0 1226.3L238.0 1227.0L239.0 1225.8L240.0 1225.7L241.0 1226.3L242.0 1224.5L243.0 1228.0L244.0 1225.1L245.0 1224.6L246.0 1229.7L247.0 1226.6L248.0 1225.1L249.0 1229.9L250.0 1226.7L251.0 1229.0L252.0 1226.3L253.0 1227.3L254.0 1225.3L255.0 1225.1L256.0 1226.6L257.0 1228.1L258.0 1229.5L259.0 1232.1L260.0 1227.1L261.0 1230.3L262.0 1228.0L263.0 1228.8L264.0 1227.0L265.0 1227.1L266.0 1228.3L267.0 1227.8L268.0 1229.7L269.0 1228.8L270.0 1231.8L271.0 1230.3L272.0 1230.5L273.0 1232.0L274.0 1231.3L275.0 1230.6L276.0 1230.6L277.0 1230.7L278.0 1232.6L279.0 1232.3L280.0 1231.8L281.0 1232.5L282.0 1230.7L283.0 1232.3L284.0 1229.7L285.0 1233.8L286.0 1232.1L287.0 1232.3L288.0 1233.1L289.0 1232.3L290.0 1232.1L291.0 1234.2L292.0 1232.8L293.0 1231.5L294.0 1233.5L295.0 1230.6L296.0 1235.4L297.0 1233.0L298.0 1233.4L299.0 1236.6L300.0 1236.5L301.0 1233.8L302.0 1234.6L303.0 1235.3L304.0 1236.3L305.0 1233.8L306.0 1234.3L307.0 1235.9L308.0 1234.7L309.0 1235.5L310.0 1235.4L311.0 1233.0L312.0 1233.5L313.0 1231.1L314.0 1234.5L315.0 1236.8L316.0 1233.5L317.0 1236.8L318.0 1236.6L319.0 1235.2L320.0 1235.4L321.0 1235.6L322.0 1234.4L323.0 1235.3L324.0 1235.7L325.0 1236.6L326.0 1237.0L327.0 1234.9L328.0 1237.1L329.0 1235.0L330.0 1235.9L331.0 1236.7L332.0 1236.3L333.0 1236.2L334.0 1236.8L335.0 1235.7L336.0 1235.7L337.0 1236.3L338.0 1237.9L339.0 1236.6L340.0 1239.3L341.0 1237.1L342.0 1232.9L343.0 1236.3L344.0 1239.1L345.0 1237.0L346.0 1236.4L347.0 1235.9L348.0 1238.8L349.0 1238.4L350.0 1238.0L351.0 1237.7L352.0 1239.0L353.0 1238.2L354.0 1235.5L355.0 1238.1L356.0 1237.3L357.0 1236.9L358.0 1238.0L359.0 1237.0L360.0 1233.1L361.0 1238.8L362.0 1238.0L363.0 1236.4L364.0 1236.0L365.0 1236.6L366.0 1234.5L367.0 1236.3L368.0 1235.4L369.0 1234.9L370.0 1233.8L371.0 1233.7L372.0 1235.4L373.0 1235.1L374.0 1233.2L375.0 1231.6L376.0 1229.4L377.0 1230.0L378.0 1229.5L379.0 1223.4L380.0 1224.6L381.0 1217.7L382.0 1217.0L383.0 1214.4L384.0 1208.4L385.0 1204.1L386.0 1201.9L387.0 1198.4L388.0 1192.5L389.0 1190.9L390.0 1185.2L391.0 1186.4L392.0 1183.7L393.0 1184.5L394.0 1187.0L395.0 1189.8L396.0 1195.5L397.0 1200.3L398.0 1202.8L399.0 1206.3L400.0 1209.4L401.0 1213.8L402.0 1218.4L403.0 1221.4L404.0 1224.3L405.0 1226.9L406.0 1229.6L407.0 1229.2L408.0 1231.1L409.0 1235.0L410.0 1235.7L411.0 1235.0L412.0 1237.9L413.0 1236.2L414.0 1237.3L415.0 1235.9L416.0 1239.5L417.0 1238.9L418.0 1240.5L419.0 1240.4L420.0 1240.0L421.0 1240.3L422.0 1241.7L423.0 1240.4L424.0 1240.6L425.0 1241.0L426.0 1242.1L427.0 1242.4L428.0 1243.7L429.0 1241.5L430.0 1243.2L431.0 1241.1L432.0 1242.7L433.0 1242.3L434.0 1244.3L435.0 1243.1L436.0 1242.0L437.0 1243.3L438.0 1243.1L439.0 1242.5L440.0 1242.6L441.0 1241.9L442.0 1246.3L443.0 1243.3L444.0 1244.4L445.0 1242.0L446.0 1242.2L447.0 1243.3L448.0 1243.4L449.0 1244.6L450.0 1242.6L451.0 1244.4L452.0 1245.6L453.0 1242.9L454.0 1245.0L455.0 1243.0L456.0 1244.5L457.0 1244.6L458.0 1246.2L459.0 1243.6L460.0 1244.6L461.0 1245.6L462.0 1243.2L463.0 1244.6L464.0 1243.7L465.0 1244.0L466.0 1245.5L467.0 1245.6L468.0 1247.7L469.0 1246.5L470.0 1246.4L471.0 1244.9L472.0 1244.8L473.0 1245.3L474.0 1242.8L475.0 1247.1L476.0 1244.6L477.0 1244.3L478.0 1245.0L479.0 1246.4L480.0 1246.9L481.0 1245.2L482.0 1246.1L483.0 1245.7L484.0 1244.7L485.0 1246.0L486.0 1245.9L487.0 1244.3L488.0 1247.1L489.0 1244.4L490.0 1246.3L491.0 1245.0L492.0 1245.3L493.0 1245.5L494.0 1247.0L495.0 1245.0L496.0 1246.2L497.0 1248.1L498.0 1245.8L499.0 1246.5L500.0 1247.3L501.0 1246.0L502.0 1247.2L503.0 1246.1L504.0 1247.5L505.0 1246.9L506.0 1245.9L507.0 1248.4L508.0 1246.9L509.0 1246.8L510.0 1246.2L511.0 1246.7L512.0 1247.1L513.0 1247.4L514.0 1248.4L515.0 1246.0L516.0 1247.0L517.0 1248.6L518.0 1247.7L519.0 1247.9L520.0 1249.2L521.0 1248.0L522.0 1248.1L523.0 1247.7L524.0 1249.5L525.0 1248.9L526.0 1247.2L527.0 1248.5L528.0 1246.8L529.0 1249.1L530.0 1248.7L531.0 1247.9L532.0 1247.8L533.0 1246.5L534.0 1249.0L535.0 1248.2L536.0 1248.0L537.0 1249.1L538.0 1247.8L539.0 1247.9L540.0 1247.9L541.0 1247.3L542.0 1250.9L543.0 1248.5L544.0 1248.4L545.0 1249.6L546.0 1245.8L547.0 1248.8L548.0 1248.9L549.0 1248.0L550.0 1249.4L551.0 1247.1L552.0 1249.0L553.0 1249.9L554.0 1247.0L555.0 1247.8L556.0 1249.0L557.0 1249.2L558.0 1248.6L559.0 1249.6L560.0 1249.5L561.0 1248.1L562.0 1249.3L563.0 1248.2L564.0 1247.5L565.0 1247.3L566.0 1250.4L567.0 1249.4L568.0 1251.3L569.0 1248.3L570.0 1249.3L571.0 1250.0L572.0 1249.6L573.0 1250.2L574.0 1249.9L575.0 1249.3L576.0 1247.8L577.0 1249.1L578.0 1251.5L579.0 1250.7L580.0 1251.3L581.0 1249.6L582.0 1250.0L583.0 1249.4L584.0 1250.5L585.0 1250.3L586.0 1250.7L587.0 1251.8L588.0 1249.6L589.0 1251.0L590.0 1249.2L591.0 1251.4L592.0 1250.1L593.0 1250.5L594.0 1250.7L595.0 1252.0L596.0 1250.6L597.0 1250.2L598.0 1249.7L599.0 1250.9L600.0 1250.0L601.0 1250.3L602.0 1250.7L603.0 1251.4L604.0 1250.2L605.0 1251.4L606.0 1252.3L607.0 1249.7L608.0 1252.0L609.0 1252.7L610.0 1250.5L611.0 1251.5L612.0 1249.9L613.0 1251.3L614.0 1250.8L615.0 1251.3L616.0 1250.3L617.0 1250.4L618.0 1250.7L619.0 1250.5L620.0 1250.6L621.0 1250.9L622.0 1250.2L623.0 1251.0L624.0 1251.5L625.0 1249.3L626.0 1251.3L627.0 1250.5L628.0 1250.2L629.0 1250.1L630.0 1250.4L631.0 1250.5L632.0 1251.4L633.0 1250.1L634.0 1251.9L635.0 1250.4L636.0 1251.6L637.0 1251.8L638.0 1250.0L639.0 1251.8L640.0 1252.6L641.0 1250.6L642.0 1251.3L643.0 1250.7L644.0 1250.8L645.0 1250.6L646.0 1250.3L647.0 1251.2L648.0 1251.2L649.0 1250.5L650.0 1251.5L651.0 1251.1L652.0 1250.7L653.0 1249.5L654.0 1251.3L655.0 1250.8L656.0 1248.0L657.0 1248.6L658.0 1248.9L659.0 1249.7L660.0 1249.7L661.0 1248.2L662.0 1248.3L663.0 1248.3L664.0 1246.4L665.0 1247.2L666.0 1246.0L667.0 1245.7L668.0 1244.7L669.0 1242.8L670.0 1241.8L671.0 1241.3L672.0 1239.7L673.0 1237.6L674.0 1236.5L675.0 1232.9L676.0 1229.5L677.0 1227.0L678.0 1223.6L679.0 1219.8L680.0 1216.5L681.0 1211.6L682.0 1207.4L683.0 1202.5L684.0 1197.4L685.0 1194.2L686.0 1189.8L687.0 1187.7L688.0 1185.4L689.0 1186.2L690.0 1187.1L691.0 1190.0L692.0 1194.5L693.0 1198.9L694.0 1202.4L695.0 1206.2L696.0 1211.5L697.0 1215.5L698.0 1219.2L699.0 1223.5L700.0 1226.9L701.0 1229.9L702.0 1234.3L703.0 1235.4L704.0 1237.6L705.0 1240.4L706.0 1241.0L707.0 1242.1L708.0 1243.5L709.0 1245.5L710.0 1246.3L711.0 1247.0L712.0 1247.0L713.0 1247.2L714.0 1249.1L715.0 1247.7L716.0 1249.0L717.0 1248.5L718.0 1249.4L719.0 1249.9L720.0 1251.2L721.0 1248.3L722.0 1251.7L723.0 1250.1L724.0 1251.2L725.0 1251.7L726.0 1250.7L727.0 1251.3L728.0 1251.8L729.0 1251.5L730.0 1251.1L731.0 1251.9L732.0 1251.9L733.0 1250.8L734.0 1253.0L735.0 1252.2L736.0 1250.2L737.0 1251.5L738.0 1253.4L739.0 1253.4L740.0 1252.4L741.0 1251.0L742.0 1252.1L743.0 1253.1L744.0 1252.6L745.0 1252.1L746.0 1251.8L747.0 1252.9L748.0 1252.1L749.0 1252.5L750.0 1252.6L751.0 1253.5L752.0 1252.4L753.0 1252.4L754.0 1250.8L755.0 1253.0L756.0 1252.8L757.0 1252.1L758.0 1250.3L759.0 1251.5L760.0 1252.0L761.0 1253.4L762.0 1252.2L763.0 1252.3L764.0 1252.2L765.0 1252.5L766.0 1250.6L767.0 1250.7L768.0 1250.3L769.0 1250.8L770.0 1250.7L771.0 1250.9L772.0 1249.9L773.0 1250.5L774.0 1249.7L775.0 1251.7L776.0 1249.5L777.0 1251.6L778.0 1250.7L779.0 1248.3L780.0 1249.7L781.0 1249.1L782.0 1247.2L783.0 1248.5L784.0 1247.6L785.0 1247.5L786.0 1246.2L787.0 1246.3L788.0 1246.2L789.0 1245.2L790.0 1244.3L791.0 1244.0L792.0 1242.7L793.0 1242.9L794.0 1239.8L795.0 1241.9L796.0 1239.7L797.0 1238.7L798.0 1237.6L799.0 1234.3L800.0 1235.0L801.0 1230.2L802.0 1228.7L803.0 1225.4L804.0 1222.5L805.0 1217.1L806.0 1211.0L807.0 1206.3L808.0 1197.3L809.0 1191.1L810.0 1181.8L811.0 1173.1L812.0 1160.3L813.0 1147.6L814.0 1133.8L815.0 1119.3L816.0 1104.5L817.0 1090.2L818.0 1074.1L819.0 1061.4L820.0 1049.1L821.0 1041.6L822.0 1037.0L823.0 1035.3L824.0 1039.3L825.0 1047.2L826.0 1058.2L827.0 1071.2L828.0 1084.7L829.0 1099.1L830.0 1113.7L831.0 1130.2L832.0 1144.5L833.0 1156.7L834.0 1169.4L835.0 1178.5L836.0 1188.0L837.0 1197.8L838.0 1203.1L839.0 1210.6L840.0 1215.9L841.0 1220.3L842.0 1225.4L843.0 1226.8L844.0 1229.9L845.0 1231.1L846.0 1233.9L847.0 1236.0L848.0 1237.6L849.0 1239.0L850.0 1240.4L851.0 1240.6L852.0 1240.3L853.0 1242.5L854.0 1243.0L855.0 1242.0L856.0 1242.3L857.0 1244.1L858.0 1243.3L859.0 1243.0L860.0 1242.4L861.0 1241.9L862.0 1241.6L863.0 1243.0L864.0 1243.2L865.0 1244.1L866.0 1245.5L867.0 1246.6L868.0 1248.3L869.0 1247.8L870.0 1251.1L871.0 1249.1L872.0 1250.1L873.0 1251.6L874.0 1250.6L875.0 1251.2L876.0 1251.8L877.0 1249.8L878.0 1251.9L879.0 1251.7L880.0 1252.4L881.0 1253.2L882.0 1253.4L883.0 1254.2L884.0 1254.3L885.0 1254.1L886.0 1253.4L887.0 1254.3L888.0 1252.9L889.0 1253.7L890.0 1254.9L891.0 1254.5L892.0 1253.0L893.0 1253.7L894.0 1254.9L895.0 1254.7L896.0 1255.1L897.0 1253.1L898.0 1253.5L899.0 1254.3L900.0 1253.8L901.0 1254.6L902.0 1254.7L903.0 1255.0L904.0 1254.7L905.0 1255.2L906.0 1255.4L907.0 1255.0L908.0 1254.0L909.0 1255.9L910.0 1255.2L911.0 1255.4L912.0 1255.2L913.0 1253.9L914.0 1255.6L915.0 1254.7L916.0 1254.2L917.0 1256.2L918.0 1255.0L919.0 1255.4L920.0 1255.9L921.0 1256.5L922.0 1253.9L923.0 1254.7L924.0 1255.8L925.0 1254.8L926.0 1252.8L927.0 1255.4L928.0 1255.5L929.0 1255.9L930.0 1255.5L931.0 1255.0L932.0 1255.5L933.0 1255.3L934.0 1254.9L935.0 1255.5L936.0 1255.6L937.0 1254.5L938.0 1256.0L939.0 1255.9L940.0 1255.8L941.0 1253.2L942.0 1255.3L943.0 1255.1L944.0 1254.4L945.0 1255.6L946.0 1254.0L947.0 1256.0L948.0 1255.3L949.0 1254.6L950.0 1256.0L951.0 1255.3L952.0 1255.1L953.0 1253.8L954.0 1255.2L955.0 1255.8L956.0 1255.5L957.0 1253.6L958.0 1255.6L959.0 1255.6L960.0 1255.0L961.0 1254.0L962.0 1253.0L963.0 1253.4L964.0 1253.5L965.0 1254.1L966.0 1254.2L967.0 1253.1L968.0 1252.2L969.0 1253.0L970.0 1252.2L971.0 1254.0L972.0 1251.9L973.0 1253.0L974.0 1253.1L975.0 1251.5L976.0 1252.7L977.0 1251.6L978.0 1250.8L979.0 1250.4L980.0 1250.9L981.0 1251.2L982.0 1248.6L983.0 1250.1L984.0 1249.0L985.0 1248.0L986.0 1247.9L987.0 1247.4L988.0 1246.6L989.0 1246.4L990.0 1244.1L991.0 1245.2L992.0 1243.1L993.0 1240.4L994.0 1237.7L995.0 1237.0L996.0 1234.2L997.0 1232.2L998.0 1228.7L999.0 1225.6L1000.0 1219.5L1001.0 1214.8L1002.0 1207.8L1003.0 1201.0L1004.0 1194.8L1005.0 1185.2L1006.0 1176.1L1007.0 1166.3L1008.0 1156.9L1009.0 1147.2L1010.0 1137.1L1011.0 1127.7L1012.0 1121.7L1013.0 1115.8L1014.0 1113.5L1015.0 1114.1L1016.0 1116.9L1017.0 1120.1L1018.0 1130.4L1019.0 1138.3L1020.0 1148.6L1021.0 1159.0L1022.0 1166.3L1023.0 1176.1L1024.0 1185.7L1025.0 1194.6L1026.0 1201.2L1027.0 1208.1L1028.0 1215.3L1029.0 1219.1L1030.0 1224.6L1031.0 1229.2L1032.0 1231.7L1033.0 1235.4L1034.0 1237.2L1035.0 1238.2L1036.0 1240.8L1037.0 1242.6L1038.0 1243.8L1039.0 1245.2L1040.0 1246.4L1041.0 1247.2L1042.0 1247.9L1043.0 1248.1L1044.0 1248.8L1045.0 1249.3L1046.0 1249.6L1047.0 1251.5L1048.0 1249.4L1049.0 1251.4L1050.0 1250.3L1051.0 1251.4L1052.0 1252.8L1053.0 1252.2L1054.0 1253.8L1055.0 1252.2L1056.0 1252.9L1057.0 1252.9L1058.0 1253.6L1059.0 1253.5L1060.0 1253.6L1061.0 1254.1L1062.0 1255.0L1063.0 1254.4L1064.0 1254.5L1065.0 1254.4L1066.0 1254.2L1067.0 1253.7L1068.0 1254.1L1069.0 1255.0L1070.0 1253.7L1071.0 1255.7L1072.0 1255.0L1073.0 1254.6L1074.0 1255.0L1075.0 1256.0L1076.0 1255.9L1077.0 1255.8L1078.0 1257.0L1079.0 1257.6L1080.0 1254.9L1081.0 1256.6L1082.0 1255.4L1083.0 1255.0L1084.0 1255.7L1085.0 1256.9L1086.0 1256.0L1087.0 1255.9L1088.0 1257.4L1089.0 1256.8L1090.0 1256.4L1091.0 1257.9L1092.0 1256.9L1093.0 1256.0L1094.0 1255.8L1095.0 1256.3L1096.0 1256.8L1097.0 1257.4L1098.0 1257.4L1099.0 1256.9L1100.0 1255.9L1101.0 1257.6L1102.0 1257.0L1103.0 1256.1L1104.0 1256.0L1105.0 1257.1L1106.0 1257.2L1107.0 1257.6L1108.0 1256.1L1109.0 1258.5L1110.0 1255.7L1111.0 1257.0L1112.0 1258.1L1113.0 1257.9L1114.0 1256.4L1115.0 1257.6L1116.0 1258.1L1117.0 1257.7L1118.0 1256.4L1119.0 1258.4L1120.0 1256.0L1121.0 1257.2L1122.0 1256.4L1123.0 1256.9L1124.0 1257.0L1125.0 1257.6L1126.0 1256.3L1127.0 1257.4L1128.0 1258.3L1129.0 1257.3L1130.0 1257.7L1131.0 1257.6L1132.0 1256.8L1133.0 1257.0L1134.0 1257.4L1135.0 1257.7L1136.0 1258.9L1137.0 1258.6L1138.0 1257.0L1139.0 1257.0L1140.0 1256.6L1141.0 1255.6L1142.0 1258.4L1143.0 1257.8L1144.0 1255.9L1145.0 1257.4L1146.0 1259.2L1147.0 1257.8L1148.0 1257.8L1149.0 1257.6L1150.0 1256.9L1151.0 1256.6L1152.0 1256.8L1153.0 1257.6L1154.0 1257.3L1155.0 1258.0L1156.0 1258.8L1157.0 1257.9L1158.0 1258.1L1159.0 1257.2L1160.0 1256.5L1161.0 1259.1L1162.0 1258.1L1163.0 1258.4L1164.0 1257.2L1165.0 1256.2L1166.0 1258.5L1167.0 1255.9L1168.0 1257.4L1169.0 1257.1L1170.0 1257.7L1171.0 1258.1L1172.0 1258.2L1173.0 1255.9L1174.0 1258.3L1175.0 1256.1L1176.0 1258.0L1177.0 1257.2L1178.0 1256.7L1179.0 1257.1L1180.0 1256.5L1181.0 1257.5L1182.0 1258.2L1183.0 1258.1L1184.0 1257.6L1185.0 1258.4L1186.0 1257.9L1187.0 1259.2L1188.0 1257.9L1189.0 1257.1L1190.0 1257.3L1191.0 1256.9L1192.0 1257.3L1193.0 1257.4L1194.0 1258.0L1195.0 1258.1L1196.0 1257.5L1197.0 1257.8L1198.0 1256.9L1199.0 1257.0L1200.0 1255.6L1201.0 1256.9L1202.0 1257.1L1203.0 1259.4L1204.0 1256.4L1205.0 1257.5L1206.0 1257.2L1207.0 1256.2L1208.0 1257.6L1209.0 1257.4L1210.0 1256.3L1211.0 1255.6L1212.0 1257.3L1213.0 1256.3L1214.0 1257.9L1215.0 1257.1L1216.0 1257.7L1217.0 1257.1L1218.0 1258.5L1219.0 1257.8L1220.0 1258.4L1221.0 1257.3L1222.0 1256.5L1223.0 1256.1L1224.0 1256.8L1225.0 1257.4L1226.0 1256.7L1227.0 1259.0L1228.0 1257.1L1229.0 1257.4L1230.0 1257.1L1231.0 1256.1L1232.0 1257.8L1233.0 1257.5L1234.0 1257.6L1235.0 1256.2L1236.0 1256.9L1237.0 1256.8L1238.0 1257.7L1239.0 1255.7L1240.0 1257.2L1241.0 1257.6L1242.0 1256.3L1243.0 1255.9L1244.0 1257.5L1245.0 1256.6L1246.0 1257.2L1247.0 1256.8L1248.0 1257.0L1249.0 1255.9L1250.0 1254.3L1251.0 1256.2L1252.0 1255.1L1253.0 1255.9L1254.0 1254.8L1255.0 1256.2L1256.0 1254.5L1257.0 1255.0L1258.0 1254.8L1259.0 1253.5L1260.0 1253.3L1261.0 1252.4L1262.0 1251.1L1263.0 1252.2L1264.0 1249.6L1265.0 1248.2L1266.0 1248.0L1267.0 1247.5L1268.0 1246.4L1269.0 1244.9L1270.0 1243.7L1271.0 1241.3L1272.0 1242.4L1273.0 1242.4L1274.0 1239.7L1275.0 1238.4L1276.0 1240.1L1277.0 1239.4L1278.0 1236.8L1279.0 1239.8L1280.0 1240.0L1281.0 1241.1L1282.0 1244.5L1283.0 1244.8L1284.0 1245.0L1285.0 1246.2L1286.0 1248.4L1287.0 1247.3L1288.0 1249.7L1289.0 1249.4L1290.0 1251.3L1291.0 1251.5L1292.0 1251.3L1293.0 1253.3L1294.0 1253.3L1295.0 1254.7L1296.0 1253.3L1297.0 1254.0L1298.0 1253.6L1299.0 1255.3L1300.0 1253.9L1301.0 1254.6L1302.0 1255.7L1303.0 1255.2L1304.0 1255.1L1305.0 1255.1L1306.0 1255.2L1307.0 1255.5L1308.0 1254.7L1309.0 1253.4L1310.0 1256.0L1311.0 1254.1L1312.0 1256.3L1313.0 1255.1L1314.0 1257.3L1315.0 1255.7L1316.0 1255.0L1317.0 1255.4L1318.0 1253.5L1319.0 1254.6L1320.0 1254.1L1321.0 1254.3L1322.0 1252.6L1323.0 1252.4L1324.0 1254.5L1325.0 1253.8L1326.0 1253.3L1327.0 1253.4L1328.0 1252.8L1329.0 1252.7L1330.0 1253.4L1331.0 1252.4L1332.0 1252.9L1333.0 1251.5L1334.0 1250.3L1335.0 1250.8L1336.0 1250.8L1337.0 1249.6L1338.0 1249.6L1339.0 1248.9L1340.0 1249.3L1341.0 1248.5L1342.0 1247.8L1343.0 1245.2L1344.0 1244.9L1345.0 1244.2L1346.0 1241.7L1347.0 1239.7L1348.0 1237.0L1349.0 1235.9L1350.0 1232.7L1351.0 1230.3L1352.0 1226.0L1353.0 1224.1L1354.0 1218.4L1355.0 1213.2L1356.0 1209.7L1357.0 1205.1L1358.0 1200.8L1359.0 1194.6L1360.0 1189.8L1361.0 1185.7L1362.0 1181.8L1363.0 1177.5L1364.0 1177.6L1365.0 1177.0L1366.0 1175.6L1367.0 1176.7L1368.0 1179.7L1369.0 1182.3L1370.0 1187.4L1371.0 1190.7L1372.0 1196.3L1373.0 1199.7L1374.0 1204.4L1375.0 1209.0L1376.0 1213.6L1377.0 1219.3L1378.0 1223.6L1379.0 1226.7L1380.0 1230.0L1381.0 1231.1L1382.0 1236.3L1383.0 1236.8L1384.0 1240.9L1385.0 1243.6L1386.0 1243.3L1387.0 1245.1L1388.0 1246.3L1389.0 1245.8L1390.0 1246.9L1391.0 1248.0L1392.0 1249.3L1393.0 1250.5L1394.0 1250.4L1395.0 1251.6L1396.0 1250.8L1397.0 1250.4L1398.0 1251.9L1399.0 1252.1L1400.0 1251.3L1401.0 1253.5L1402.0 1252.1L1403.0 1252.5L1404.0 1253.4L1405.0 1252.6L1406.0 1254.1L1407.0 1254.0L1408.0 1254.2L1409.0 1254.0L1410.0 1253.7L1411.0 1253.6L1412.0 1254.5L1413.0 1255.4L1414.0 1255.1L1415.0 1254.8L1416.0 1255.4L1417.0 1255.7L1418.0 1253.7L1419.0 1254.7L1420.0 1255.8L1421.0 1254.4L1422.0 1254.5L1423.0 1255.4L1424.0 1254.8L1425.0 1255.9L1426.0 1254.8L1427.0 1255.5L1428.0 1257.0L1429.0 1255.9L1430.0 1254.0L1431.0 1254.2L1432.0 1254.3L1433.0 1255.0L1434.0 1254.0L1435.0 1255.5L1436.0 1256.3L1437.0 1256.2L1438.0 1254.4L1439.0 1254.7L1440.0 1254.7L1441.0 1254.2L1442.0 1256.1L1443.0 1254.3L1444.0 1253.9L1445.0 1255.0L1446.0 1254.9L1447.0 1255.7L1448.0 1255.7L1449.0 1254.3L1450.0 1252.7L1451.0 1254.8L1452.0 1254.8L1453.0 1255.5L1454.0 1252.8L1455.0 1253.0L1456.0 1254.9L1457.0 1254.9L1458.0 1254.5L1459.0 1253.3L1460.0 1254.2L1461.0 1252.6L1462.0 1251.9L1463.0 1252.6L1464.0 1252.5L1465.0 1252.8L1466.0 1252.8L1467.0 1250.4L1468.0 1251.6L1469.0 1251.5L1470.0 1249.8L1471.0 1250.3L1472.0 1250.1L1473.0 1250.0L1474.0 1248.5L1475.0 1248.2L1476.0 1247.3L1477.0 1247.8L1478.0 1246.6L1479.0 1245.6L1480.0 1245.7L1481.0 1244.1L1482.0 1242.2L1483.0 1242.6L1484.0 1241.0L1485.0 1238.8L1486.0 1235.6L1487.0 1234.7L1488.0 1230.6L1489.0 1226.2L1490.0 1223.6L1491.0 1220.5L1492.0 1213.6L1493.0 1208.4L1494.0 1202.3L1495.0 1193.8L1496.0 1185.1L1497.0 1176.3L1498.0 1167.0L1499.0 1156.0L1500.0 1146.2L1501.0 1136.0L1502.0 1125.5L1503.0 1117.6L1504.0 1110.4L1505.0 1104.7L1506.0 1102.2L1507.0 1102.3L1508.0 1104.6L1509.0 1109.3L1510.0 1115.4L1511.0 1124.5L1512.0 1134.3L1513.0 1144.2L1514.0 1153.3L1515.0 1164.5L1516.0 1174.3L1517.0 1182.3L1518.0 1191.8L1519.0 1199.0L1520.0 1205.8L1521.0 1212.4L1522.0 1217.5L1523.0 1220.7L1524.0 1226.7L1525.0 1229.2L1526.0 1233.0L1527.0 1236.2L1528.0 1237.7L1529.0 1239.5L1530.0 1241.5L1531.0 1243.2L1532.0 1243.4L1533.0 1244.6L1534.0 1246.4L1535.0 1248.0L1536.0 1247.5L1537.0 1248.8L1538.0 1248.2L1539.0 1249.2L1540.0 1249.8L1541.0 1249.2L1542.0 1250.5L1543.0 1250.8L1544.0 1249.3L1545.0 1251.5L1546.0 1252.0L1547.0 1252.3L1548.0 1252.6L1549.0 1251.7L1550.0 1252.2L1551.0 1252.8L1552.0 1252.5L1553.0 1252.9L1554.0 1254.3L1555.0 1252.9L1556.0 1253.4L1557.0 1255.2L1558.0 1253.8L1559.0 1253.2L1560.0 1254.3L1561.0 1254.3L1562.0 1254.3L1563.0 1253.0L1564.0 1254.5L1565.0 1254.6L1566.0 1255.8L1567.0 1254.8L1568.0 1254.0L1569.0 1254.5L1570.0 1254.7L1571.0 1254.0L1572.0 1254.0L1573.0 1255.0L1574.0 1254.3L1575.0 1254.2L1576.0 1253.0L1577.0 1253.9L1578.0 1252.1L1579.0 1254.3L1580.0 1253.0L1581.0 1253.7L1582.0 1254.2L1583.0 1252.3L1584.0 1253.9L1585.0 1253.2L1586.0 1253.9L1587.0 1252.9L1588.0 1252.7L1589.0 1254.3L1590.0 1253.8L1591.0 1253.6L1592.0 1252.9L1593.0 1254.9L1594.0 1253.9L1595.0 1254.1L1596.0 1254.0L1597.0 1254.7L1598.0 1255.3L1599.0 1255.0L1600.0 1255.2L1601.0 1255.0L1602.0 1256.6L1603.0 1256.9L1604.0 1255.6L1605.0 1255.3L1606.0 1256.3L1607.0 1255.0L1608.0 1256.5L1609.0 1256.6L1610.0 1256.6L1611.0 1257.7L1612.0 1257.9L1613.0 1257.0L1614.0 1256.5L1615.0 1257.5L1616.0 1257.7L1617.0 1256.0L1618.0 1256.4L1619.0 1256.8L1620.0 1255.8L1621.0 1256.2L1622.0 1258.3L1623.0 1256.1L1624.0 1257.7L1625.0 1256.5L1626.0 1257.9L1627.0 1257.4L1628.0 1257.9L1629.0 1256.2L1630.0 1257.4L1631.0 1256.8L1632.0 1257.8L1633.0 1257.8L1634.0 1257.4L1635.0 1257.2L1636.0 1257.3L1637.0 1257.5L1638.0 1257.0L1639.0 1257.0L1640.0 1256.9L1641.0 1256.6L1642.0 1258.2L1643.0 1256.4L1644.0 1258.4L1645.0 1257.9L1646.0 1256.2L1647.0 1256.1L1648.0 1257.5L1649.0 1256.7L1650.0 1257.6L1651.0 1258.2L1652.0 1257.7L1653.0 1257.3L1654.0 1257.3L1655.0 1258.6L1656.0 1257.2L1657.0 1258.8L1658.0 1259.0L1659.0 1257.2L1660.0 1257.7L1661.0 1258.8L1662.0 1257.0L1663.0 1257.9L1664.0 1258.3L1665.0 1256.8L1666.0 1257.8L1667.0 1257.6L1668.0 1257.2L1669.0 1258.7L1670.0 1257.5L1671.0 1259.2L1672.0 1258.1L1673.0 1257.0L1674.0 1257.7L1675.0 1257.0L1676.0 1258.2L1677.0 1258.0L1678.0 1256.7L1679.0 1257.2L1680.0 1257.9L1681.0 1257.6L1682.0 1256.8L1683.0 1258.3L1684.0 1258.5L1685.0 1256.4L1686.0 1258.6L1687.0 1255.9L1688.0 1257.3L1689.0 1256.9L1690.0 1257.0L1691.0 1257.5L1692.0 1256.5L1693.0 1257.2L1694.0 1258.5L1695.0 1257.6L1696.0 1258.3L1697.0 1257.8L1698.0 1255.9L1699.0 1258.3L1700.0 1257.6L1701.0 1257.4L1702.0 1256.5L1703.0 1256.3L1704.0 1255.9L1705.0 1256.4L1706.0 1256.5L1707.0 1256.2L1708.0 1256.1L1709.0 1254.6L1710.0 1255.4L1711.0 1255.2L1712.0 1255.9L1713.0 1255.2L1714.0 1255.1L1715.0 1255.4L1716.0 1254.9L1717.0 1255.0L1718.0 1255.9L1719.0 1254.9L1720.0 1254.4L1721.0 1255.5L1722.0 1255.7L1723.0 1255.6L1724.0 1254.2L1725.0 1255.9L1726.0 1255.4L1727.0 1255.5L1728.0 1255.6L1729.0 1256.0L1730.0 1256.1L1731.0 1257.0L1732.0 1256.2L1733.0 1256.0L1734.0 1256.7L1735.0 1256.2L1736.0 1257.2L1737.0 1256.6L1738.0 1257.1L1739.0 1256.2L1740.0 1257.4L1741.0 1257.1L1742.0 1256.1L1743.0 1256.5L1744.0 1256.9L1745.0 1255.9L1746.0 1256.0L1747.0 1257.2L1748.0 1257.2L1749.0 1257.8L1750.0 1255.9L1751.0 1256.6L1752.0 1255.4L1753.0 1258.1L1754.0 1255.8L1755.0 1256.6L1756.0 1258.1L1757.0 1257.7L1758.0 1256.0L1759.0 1258.2L1760.0 1256.9L1761.0 1255.7L1762.0 1256.6L1763.0 1256.8L1764.0 1256.7L1765.0 1254.6L1766.0 1257.4L1767.0 1254.7L1768.0 1255.6L1769.0 1256.6L1770.0 1255.7L1771.0 1255.2L1772.0 1254.6L1773.0 1255.2L1774.0 1255.5L1775.0 1253.8L1776.0 1254.1L1777.0 1253.2L1778.0 1252.7L1779.0 1251.0L1780.0 1252.2L1781.0 1252.2L1782.0 1250.8L1783.0 1251.0L1784.0 1249.7L1785.0 1249.7L1786.0 1248.2L1787.0 1247.0L1788.0 1246.1L1789.0 1245.7L1790.0 1245.0L1791.0 1243.4L1792.0 1243.1L1793.0 1241.6L1794.0 1240.9L1795.0 1241.8L1796.0 1241.2L1797.0 1241.3L1798.0 1240.7L1799.0 1240.8L1800.0 1242.1L1801.0 1240.5L1802.0 1241.7L1803.0 1243.2L1804.0 1244.1L1805.0 1243.8L1806.0 1244.1L1807.0 1244.2L1808.0 1245.6L1809.0 1246.7L1810.0 1247.4L1811.0 1248.5L1812.0 1249.3L1813.0 1249.3L1814.0 1249.7L1815.0 1250.8L1816.0 1251.9L1817.0 1253.3L1818.0 1251.5L1819.0 1253.9L1820.0 1253.3L1821.0 1254.7L1822.0 1255.6L1823.0 1254.9L1824.0 1254.0L1825.0 1254.8L1826.0 1255.6L1827.0 1255.3L1828.0 1255.7L1829.0 1255.3L1830.0 1255.8L1831.0 1255.7L1832.0 1256.9L1833.0 1256.6L1834.0 1257.0L1835.0 1255.4L1836.0 1256.3L1837.0 1256.1L1838.0 1256.4L1839.0 1256.2L1840.0 1256.3L1841.0 1258.0L1842.0 1256.8L1843.0 1256.1L1844.0 1256.8L1845.0 1258.7L1846.0 1257.6L1847.0 1256.5L1848.0 1257.0L1849.0 1257.1L1850.0 1257.2L1851.0 1255.9L1852.0 1256.6L1853.0 1257.1L1854.0 1256.1L1855.0 1257.2L1856.0 1257.4L1857.0 1257.9L1858.0 1258.1L1859.0 1257.2L1860.0 1257.5L1861.0 1257.9L1862.0 1258.1L1863.0 1257.4L1864.0 1256.9L1865.0 1257.8L1866.0 1258.0L1867.0 1257.5L1868.0 1257.8L1869.0 1258.6L1870.0 1257.1L1871.0 1256.9L1872.0 1256.6L1873.0 1257.7L1874.0 1258.1L1875.0 1257.0L1876.0 1258.7L1877.0 1257.0L1878.0 1257.6L1879.0 1257.3L1880.0 1258.4L1881.0 1256.9L1882.0 1258.5L1883.0 1257.2L1884.0 1256.3L1885.0 1256.9L1886.0 1257.1L1887.0 1258.4L1888.0 1256.9L1889.0 1257.2L1890.0 1258.6L1891.0 1257.2L1892.0 1256.6L1893.0 1256.5L1894.0 1255.8L1895.0 1257.1L1896.0 1257.7L1897.0 1256.4L1898.0 1255.9L1899.0 1256.7L1900.0 1256.4L1901.0 1256.2L1902.0 1256.4L1903.0 1256.0L1904.0 1255.5L1905.0 1256.3L1906.0 1254.0L1907.0 1254.3L1908.0 1254.6L1909.0 1253.6L1910.0 1255.3L1911.0 1252.3L1912.0 1254.0L1913.0 1253.5L1914.0 1252.9L1915.0 1252.6L1916.0 1251.4L1917.0 1250.8L1918.0 1251.9L1919.0 1250.3L1920.0 1248.9L1921.0 1248.7L1922.0 1248.0L1923.0 1249.0L1924.0 1249.3L1925.0 1248.0L1926.0 1248.2L1927.0 1247.6L1928.0 1248.6L1929.0 1248.7L1930.0 1248.9L1931.0 1249.7L1932.0 1247.8L1933.0 1249.6L1934.0 1248.3L1935.0 1250.4L1936.0 1250.9L1937.0 1251.3L1938.0 1251.8L1939.0 1251.6L1940.0 1251.7L1941.0 1253.1L1942.0 1252.5L1943.0 1253.9L1944.0 1253.2L1945.0 1254.4L1946.0 1254.7L1947.0 1254.2L1948.0 1254.8L1949.0 1256.0L1950.0 1255.6L1951.0 1256.2L1952.0 1255.6L1953.0 1256.2L1954.0 1255.3L1955.0 1255.9L1956.0 1257.5L1957.0 1257.1L1958.0 1256.8L1959.0 1257.0L1960.0 1256.0L1961.0 1257.4L1962.0 1256.3L1963.0 1256.7L1964.0 1257.7L1965.0 1256.8L1966.0 1257.0L1967.0 1257.3L1968.0 1257.5L1969.0 1258.4L1970.0 1256.2L1971.0 1257.2L1972.0 1257.9L1973.0 1257.2L1974.0 1257.2L1975.0 1256.9L1976.0 1257.3L1977.0 1258.0L1978.0 1258.4L1979.0 1257.8L1980.0 1258.5L1981.0 1257.6L1982.0 1256.3L1983.0 1258.0L1984.0 1256.0L1985.0 1257.4L1986.0 1257.4L1987.0 1256.6L1988.0 1257.2L1989.0 1256.9L1990.0 1257.4L1991.0 1257.0L1992.0 1257.6L1993.0 1256.9L1994.0 1257.5L1995.0 1257.1L1996.0 1257.2L1997.0 1257.1L1998.0 1256.7L1999.0 1257.8L2000.0 1257.4L2001.0 1255.4L2002.0 1256.2L2003.0 1258.3L2004.0 1256.9L2005.0 1259.1L2006.0 1257.5L2007.0 1257.6L2008.0 1257.0L2009.0 1257.2L2010.0 1257.5L2011.0 1258.1L2012.0 1257.6L2013.0 1257.6L2014.0 1256.9L2015.0 1257.4L2016.0 1257.4L2017.0 1257.7L2018.0 1257.3L2019.0 1257.1L2020.0 1257.7L2021.0 1256.2L2022.0 1256.9L2023.0 1257.4L2024.0 1258.3L2025.0 1257.5L2026.0 1257.2L2027.0 1258.5L2028.0 1258.0L2029.0 1259.0L2030.0 1257.9L2031.0 1257.6L2032.0 1257.8L2033.0 1259.3L2034.0 1259.2L2035.0 1258.2L2036.0 1258.9L2037.0 1257.2L2038.0 1259.0L2039.0 1258.4L2040.0 1258.1L2041.0 1258.2L2042.0 1258.3L2043.0 1257.9L2044.0 1257.9L2045.0 1257.3L2046.0 1259.3L2047.0 1257.6L2048.0 1258.1L2049.0 1258.9L2050.0 1259.0L2051.0 1259.2L2052.0 1257.8L2053.0 1257.9L2054.0 1258.1L2055.0 1256.9L2056.0 1258.8L2057.0 1257.0L2058.0 1258.1L2059.0 1258.8L2060.0 1258.8L2061.0 1257.9L2062.0 1258.8L2063.0 1259.0L2064.0 1257.0L2065.0 1258.0L2066.0 1258.7L2067.0 1258.5L2068.0 1258.1L2069.0 1258.2L2070.0 1259.9L2071.0 1258.0L2072.0 1259.0L2073.0 1257.4L2074.0 1258.6L2075.0 1259.0L2076.0 1258.0L2077.0 1257.9L2078.0 1259.6L2079.0 1258.2L2080.0 1259.1L2081.0 1257.3L2082.0 1259.6L2083.0 1257.0L2084.0 1257.7L2085.0 1258.0L2086.0 1258.4L2087.0 1258.6L2088.0 1259.6L2089.0 1259.9L2090.0 1259.8L2091.0 1259.1L2092.0 1258.6L2093.0 1257.0L2094.0 1258.4L2095.0 1258.1L2096.0 1259.0L2097.0 1257.8L2098.0 1257.9L2099.0 1258.0" fill="none" stroke="#ff0000" stroke-width="5.2" stroke-linejoin="round" shape-rendering="crispEdges"/>
<path d="M176.0 1470.4L177.0 1469.7L178.0 1471.7L179.0 1472.9L180.0 1474.3L181.0 1472.8L182.0 1472.0L183.0 1471.8L184.0 1474.5L185.0 1476.1L186.0 1474.1L187.0 1471.9L188.0 1472.5L189.0 1476.8L190.0 1474.8L191.0 1471.9L192.0 1474.7L193.0 1473.1L194.0 1474.2L195.0 1474.6L196.0 1474.4L197.0 1476.6L198.0 1475.8L199.0 1475.2L200.0 1477.0L201.0 1477.8L202.0 1474.1L203.0 1476.5L204.0 1475.5L205.0 1477.0L206.0 1475.4L207.0 1477.6L208.0 1477.7L209.0 1477.5L210.0 1476.5L211.0 1477.7L212.0 1476.8L213.0 1476.5L214.0 1479.2L215.0 1477.2L216.0 1481.0L217.0 1480.5L218.0 1476.4L219.0 1480.1L220.0 1478.1L221.0 1480.1L222.0 1480.2L223.0 1477.2L224.0 1480.1L225.0 1480.3L226.0 1482.3L227.0 1479.2L228.0 1482.3L229.0 1479.6L230.0 1481.0L231.0 1480.3L232.0 1484.0L233.0 1482.8L234.0 1485.8L235.0 1483.2L236.0 1483.7L237.0 1483.9L238.0 1481.8L239.0 1482.8L240.0 1485.1L241.0 1482.6L242.0 1483.6L243.0 1483.4L244.0 1484.5L245.0 1483.2L246.0 1483.7L247.0 1484.4L248.0 1484.4L249.0 1483.0L250.0 1485.8L251.0 1482.7L252.0 1483.0L253.0 1483.0L254.0 1486.5L255.0 1484.7L256.0 1483.9L257.0 1483.8L258.0 1486.2L259.0 1484.2L260.0 1484.0L261.0 1486.9L262.0 1484.4L263.0 1485.8L264.0 1486.4L265.0 1485.9L266.0 1486.6L267.0 1488.7L268.0 1486.1L269.0 1485.2L270.0 1484.5L271.0 1487.0L272.0 1486.9L273.0 1487.9L274.0 1487.0L275.0 1487.1L276.0 1486.8L277.0 1487.2L278.0 1488.3L279.0 1487.7L280.0 1488.5L281.0 1491.2L282.0 1489.3L283.0 1486.4L284.0 1491.3L285.0 1489.4L286.0 1487.7L287.0 1490.4L288.0 1489.3L289.0 1488.5L290.0 1488.5L291.0 1488.1L292.0 1489.7L293.0 1491.3L294.0 1489.4L295.0 1490.5L296.0 1492.7L297.0 1488.4L298.0 1490.6L299.0 1489.9L300.0 1488.9L301.0 1489.1L302.0 1490.6L303.0 1491.3L304.0 1490.1L305.0 1491.0L306.0 1492.0L307.0 1491.5L308.0 1492.4L309.0 1491.9L310.0 1492.0L311.0 1494.0L312.0 1492.4L313.0 1491.8L314.0 1492.7L315.0 1490.5L316.0 1491.4L317.0 1493.0L318.0 1492.9L319.0 1494.2L320.0 1492.1L321.0 1490.2L322.0 1494.9L323.0 1493.8L324.0 1491.0L325.0 1494.4L326.0 1492.6L327.0 1490.1L328.0 1492.1L329.0 1492.0L330.0 1495.0L331.0 1491.8L332.0 1492.6L333.0 1492.6L334.0 1492.5L335.0 1491.8L336.0 1493.4L337.0 1494.6L338.0 1494.0L339.0 1492.0L340.0 1491.7L341.0 1493.5L342.0 1492.4L343.0 1492.5L344.0 1491.2L345.0 1496.0L346.0 1494.7L347.0 1492.2L348.0 1494.7L349.0 1495.3L350.0 1490.4L351.0 1492.8L352.0 1493.0L353.0 1494.3L354.0 1493.3L355.0 1493.1L356.0 1493.3L357.0 1495.8L358.0 1496.1L359.0 1492.5L360.0 1491.9L361.0 1496.5L362.0 1491.7L363.0 1492.1L364.0 1492.7L365.0 1493.1L366.0 1493.6L367.0 1492.6L368.0 1490.7L369.0 1492.2L370.0 1491.5L371.0 1493.1L372.0 1490.1L373.0 1487.8L374.0 1487.3L375.0 1489.5L376.0 1485.9L377.0 1482.5L378.0 1482.8L379.0 1481.6L380.0 1480.8L381.0 1475.4L382.0 1474.6L383.0 1471.4L384.0 1465.9L385.0 1462.6L386.0 1460.9L387.0 1456.5L388.0 1451.3L389.0 1446.9L390.0 1444.7L391.0 1440.9L392.0 1439.9L393.0 1439.3L394.0 1441.9L395.0 1444.4L396.0 1451.4L397.0 1451.8L398.0 1457.9L399.0 1462.3L400.0 1464.7L401.0 1470.3L402.0 1469.9L403.0 1475.9L404.0 1479.8L405.0 1478.5L406.0 1482.2L407.0 1486.8L408.0 1486.9L409.0 1487.3L410.0 1489.4L411.0 1490.2L412.0 1492.6L413.0 1493.0L414.0 1492.7L415.0 1492.8L416.0 1494.0L417.0 1496.0L418.0 1495.2L419.0 1495.9L420.0 1495.2L421.0 1494.1L422.0 1495.1L423.0 1496.9L424.0 1496.5L425.0 1495.5L426.0 1494.8L427.0 1497.0L428.0 1496.6L429.0 1496.8L430.0 1496.9L431.0 1497.8L432.0 1497.9L433.0 1498.8L434.0 1498.9L435.0 1499.5L436.0 1499.0L437.0 1497.8L438.0 1498.2L439.0 1498.9L440.0 1498.1L441.0 1499.1L442.0 1499.9L443.0 1497.8L444.0 1496.7L445.0 1500.2L446.0 1498.9L447.0 1499.8L448.0 1497.5L449.0 1501.1L450.0 1500.0L451.0 1499.1L452.0 1498.9L453.0 1499.5L454.0 1499.3L455.0 1499.2L456.0 1498.3L457.0 1501.0L458.0 1499.6L459.0 1499.8L460.0 1499.9L461.0 1497.2L462.0 1500.5L463.0 1499.6L464.0 1499.7L465.0 1500.1L466.0 1499.1L467.0 1501.1L468.0 1499.5L469.0 1499.3L470.0 1499.4L471.0 1500.6L472.0 1501.2L473.0 1499.8L474.0 1498.9L475.0 1501.7L476.0 1499.5L477.0 1502.0L478.0 1500.7L479.0 1500.0L480.0 1500.1L481.0 1501.4L482.0 1501.9L483.0 1500.8L484.0 1502.0L485.0 1503.3L486.0 1500.9L487.0 1499.9L488.0 1500.1L489.0 1499.8L490.0 1500.6L491.0 1500.6L492.0 1500.0L493.0 1502.0L494.0 1498.7L495.0 1500.1L496.0 1503.7L497.0 1502.7L498.0 1502.2L499.0 1502.2L500.0 1503.6L501.0 1502.3L502.0 1501.9L503.0 1500.6L504.0 1501.8L505.0 1501.2L506.0 1501.3L507.0 1501.3L508.0 1502.0L509.0 1501.8L510.0 1503.1L511.0 1500.9L512.0 1502.1L513.0 1504.2L514.0 1502.4L515.0 1503.6L516.0 1503.6L517.0 1503.8L518.0 1503.3L519.0 1501.2L520.0 1502.3L521.0 1502.3L522.0 1501.2L523.0 1502.3L524.0 1501.5L525.0 1501.2L526.0 1503.1L527.0 1502.9L528.0 1502.3L529.0 1502.1L530.0 1502.5L531.0 1502.7L532.0 1502.7L533.0 1503.1L534.0 1502.8L535.0 1503.6L536.0 1503.8L537.0 1503.7L538.0 1502.7L539.0 1502.8L540.0 1503.8L541.0 1503.3L542.0 1503.5L543.0 1501.2L544.0 1501.0L545.0 1503.9L546.0 1504.0L547.0 1505.0L548.0 1504.4L549.0 1504.0L550.0 1503.8L551.0 1502.5L552.0 1504.7L553.0 1503.4L554.0 1504.4L555.0 1504.2L556.0 1504.3L557.0 1504.9L558.0 1503.7L559.0 1503.8L560.0 1503.4L561.0 1503.9L562.0 1505.8L563.0 1504.0L564.0 1505.4L565.0 1505.1L566.0 1505.1L567.0 1505.2L568.0 1503.6L569.0 1504.8L570.0 1506.0L571.0 1504.0L572.0 1504.6L573.0 1504.0L574.0 1505.0L575.0 1503.7L576.0 1506.2L577.0 1504.4L578.0 1503.4L579.0 1506.4L580.0 1505.7L581.0 1505.3L582.0 1505.4L583.0 1504.6L584.0 1504.8L585.0 1505.6L586.0 1505.8L587.0 1505.9L588.0 1505.3L589.0 1504.7L590.0 1505.0L591.0 1506.1L592.0 1506.4L593.0 1504.9L594.0 1504.8L595.0 1506.3L596.0 1505.9L597.0 1505.9L598.0 1504.2L599.0 1505.0L600.0 1504.9L601.0 1505.6L602.0 1504.0L603.0 1506.5L604.0 1505.7L605.0 1505.8L606.0 1504.5L607.0 1505.5L608.0 1506.6L609.0 1504.2L610.0 1505.8L611.0 1506.1L612.0 1505.0L613.0 1506.2L614.0 1505.3L615.0 1506.6L616.0 1506.0L617.0 1505.8L618.0 1507.2L619.0 1506.3L620.0 1506.7L621.0 1504.6L622.0 1505.1L623.0 1506.3L624.0 1506.3L625.0 1505.5L626.0 1506.2L627.0 1504.7L628.0 1505.7L629.0 1504.6L630.0 1505.8L631.0 1505.1L632.0 1505.0L633.0 1505.5L634.0 1506.8L635.0 1504.6L636.0 1504.9L637.0 1506.1L638.0 1504.9L639.0 1506.6L640.0 1505.3L641.0 1505.2L642.0 1505.3L643.0 1506.3L644.0 1505.4L645.0 1505.2L646.0 1504.9L647.0 1503.4L648.0 1503.8L649.0 1505.5L650.0 1504.9L651.0 1504.5L652.0 1504.5L653.0 1503.4L654.0 1503.9L655.0 1502.7L656.0 1503.5L657.0 1502.4L658.0 1502.5L659.0 1502.7L660.0 1501.7L661.0 1502.1L662.0 1501.4L663.0 1500.8L664.0 1500.9L665.0 1498.1L666.0 1497.2L667.0 1497.9L668.0 1497.0L669.0 1496.6L670.0 1494.2L671.0 1492.6L672.0 1489.4L673.0 1488.5L674.0 1486.1L675.0 1482.2L676.0 1479.4L677.0 1476.9L678.0 1473.8L679.0 1467.8L680.0 1466.3L681.0 1462.6L682.0 1458.4L683.0 1454.9L684.0 1451.5L685.0 1447.3L686.0 1445.8L687.0 1443.4L688.0 1441.9L689.0 1442.8L690.0 1444.6L691.0 1444.2L692.0 1446.6L693.0 1449.7L694.0 1455.9L695.0 1458.0L696.0 1462.1L697.0 1465.4L698.0 1469.1L699.0 1471.9L700.0 1477.0L701.0 1480.2L702.0 1481.5L703.0 1484.9L704.0 1487.5L705.0 1490.2L706.0 1492.3L707.0 1494.7L708.0 1496.4L709.0 1497.5L710.0 1498.8L711.0 1497.9L712.0 1499.3L713.0 1501.3L714.0 1501.3L715.0 1501.7L716.0 1500.7L717.0 1501.2L718.0 1503.5L719.0 1503.6L720.0 1503.4L721.0 1503.6L722.0 1502.8L723.0 1504.6L724.0 1505.3L725.0 1506.0L726.0 1504.9L727.0 1504.9L728.0 1504.4L729.0 1506.2L730.0 1506.7L731.0 1505.1L732.0 1505.9L733.0 1505.8L734.0 1505.4L735.0 1504.0L736.0 1505.7L737.0 1506.5L738.0 1505.0L739.0 1505.5L740.0 1503.7L741.0 1507.2L742.0 1506.6L743.0 1506.3L744.0 1506.1L745.0 1505.8L746.0 1506.3L747.0 1506.1L748.0 1506.2L749.0 1506.3L750.0 1506.4L751.0 1507.5L752.0 1505.2L753.0 1506.5L754.0 1505.8L755.0 1505.4L756.0 1504.4L757.0 1506.6L758.0 1505.4L759.0 1505.5L760.0 1506.3L761.0 1505.1L762.0 1505.9L763.0 1505.7L764.0 1506.3L765.0 1506.4L766.0 1504.9L767.0 1506.1L768.0 1505.2L769.0 1505.3L770.0 1504.9L771.0 1505.5L772.0 1503.8L773.0 1504.8L774.0 1505.3L775.0 1504.0L776.0 1505.5L777.0 1503.2L778.0 1503.7L779.0 1502.9L780.0 1502.5L781.0 1501.9L782.0 1502.0L783.0 1502.0L784.0 1501.1L785.0 1501.9L786.0 1502.0L787.0 1499.2L788.0 1500.5L789.0 1499.4L790.0 1498.8L791.0 1499.8L792.0 1498.1L793.0 1496.7L794.0 1495.6L795.0 1492.8L796.0 1493.9L797.0 1491.4L798.0 1490.5L799.0 1488.7L800.0 1487.3L801.0 1485.6L802.0 1482.0L803.0 1478.9L804.0 1473.9L805.0 1469.9L806.0 1464.9L807.0 1457.1L808.0 1452.7L809.0 1442.7L810.0 1433.2L811.0 1425.3L812.0 1414.6L813.0 1400.3L814.0 1387.3L815.0 1376.3L816.0 1359.8L817.0 1344.1L818.0 1331.4L819.0 1320.9L820.0 1309.4L821.0 1301.8L822.0 1297.7L823.0 1296.7L824.0 1299.2L825.0 1304.9L826.0 1316.1L827.0 1326.8L828.0 1340.9L829.0 1356.3L830.0 1369.6L831.0 1383.2L832.0 1396.6L833.0 1409.5L834.0 1421.2L835.0 1430.0L836.0 1440.5L837.0 1450.0L838.0 1456.6L839.0 1461.9L840.0 1467.5L841.0 1471.2L842.0 1476.3L843.0 1481.6L844.0 1483.3L845.0 1485.2L846.0 1487.6L847.0 1489.8L848.0 1491.3L849.0 1492.4L850.0 1493.2L851.0 1495.1L852.0 1496.5L853.0 1495.4L854.0 1495.8L855.0 1497.2L856.0 1495.2L857.0 1495.7L858.0 1495.6L859.0 1495.7L860.0 1495.1L861.0 1494.6L862.0 1495.7L863.0 1495.2L864.0 1495.6L865.0 1496.4L866.0 1499.6L867.0 1498.9L868.0 1501.6L869.0 1502.7L870.0 1503.6L871.0 1503.6L872.0 1503.9L873.0 1504.9L874.0 1504.9L875.0 1504.7L876.0 1506.9L877.0 1505.6L878.0 1507.9L879.0 1507.1L880.0 1506.6L881.0 1507.5L882.0 1508.2L883.0 1506.4L884.0 1506.9L885.0 1506.9L886.0 1508.0L887.0 1508.3L888.0 1508.1L889.0 1507.7L890.0 1507.9L891.0 1509.3L892.0 1509.3L893.0 1508.7L894.0 1507.7L895.0 1509.2L896.0 1509.0L897.0 1509.1L898.0 1510.3L899.0 1509.6L900.0 1508.4L901.0 1508.4L902.0 1510.2L903.0 1509.4L904.0 1510.0L905.0 1509.3L906.0 1508.7L907.0 1509.7L908.0 1510.7L909.0 1509.8L910.0 1508.8L911.0 1509.4L912.0 1509.3L913.0 1509.8L914.0 1510.5L915.0 1511.2L916.0 1510.0L917.0 1509.5L918.0 1509.9L919.0 1509.9L920.0 1509.6L921.0 1509.9L922.0 1509.9L923.0 1509.0L924.0 1510.3L925.0 1509.7L926.0 1509.2L927.0 1510.3L928.0 1509.6L929.0 1511.3L930.0 1510.3L931.0 1510.0L932.0 1509.4L933.0 1509.6L934.0 1510.6L935.0 1509.4L936.0 1510.5L937.0 1508.3L938.0 1510.0L939.0 1510.5L940.0 1510.1L941.0 1509.8L942.0 1510.6L943.0 1509.1L944.0 1509.0L945.0 1509.8L946.0 1510.6L947.0 1510.0L948.0 1509.4L949.0 1509.8L950.0 1509.8L951.0 1508.5L952.0 1507.3L953.0 1508.6L954.0 1508.1L955.0 1508.8L956.0 1508.2L957.0 1508.4L958.0 1509.3L959.0 1508.9L960.0 1508.8L961.0 1509.9L962.0 1508.2L963.0 1508.2L964.0 1509.3L965.0 1507.4L966.0 1506.8L967.0 1508.9L968.0 1508.0L969.0 1508.0L970.0 1507.9L971.0 1507.9L972.0 1506.6L973.0 1506.7L974.0 1505.7L975.0 1506.3L976.0 1506.1L977.0 1505.3L978.0 1505.8L979.0 1507.2L980.0 1503.7L981.0 1504.7L982.0 1504.3L983.0 1503.9L984.0 1501.9L985.0 1502.8L986.0 1501.6L987.0 1500.2L988.0 1499.1L989.0 1498.5L990.0 1497.8L991.0 1496.3L992.0 1495.7L993.0 1491.8L994.0 1490.2L995.0 1486.8L996.0 1484.7L997.0 1480.7L998.0 1476.1L999.0 1470.9L1000.0 1466.1L1001.0 1460.9L1002.0 1455.2L1003.0 1447.4L1004.0 1438.0L1005.0 1429.9L1006.0 1421.2L1007.0 1411.6L1008.0 1402.1L1009.0 1393.2L1010.0 1383.8L1011.0 1375.2L1012.0 1367.8L1013.0 1364.4L1014.0 1361.0L1015.0 1362.3L1016.0 1365.1L1017.0 1368.6L1018.0 1376.0L1019.0 1383.8L1020.0 1394.4L1021.0 1402.7L1022.0 1410.6L1023.0 1421.8L1024.0 1430.8L1025.0 1438.9L1026.0 1446.8L1027.0 1454.8L1028.0 1461.5L1029.0 1467.2L1030.0 1471.4L1031.0 1476.6L1032.0 1479.7L1033.0 1483.2L1034.0 1487.0L1035.0 1489.3L1036.0 1492.0L1037.0 1496.2L1038.0 1496.3L1039.0 1496.8L1040.0 1497.1L1041.0 1499.2L1042.0 1499.7L1043.0 1500.0L1044.0 1502.9L1045.0 1502.7L1046.0 1504.0L1047.0 1506.5L1048.0 1504.9L1049.0 1505.2L1050.0 1505.8L1051.0 1505.8L1052.0 1505.7L1053.0 1506.5L1054.0 1507.8L1055.0 1507.1L1056.0 1506.5L1057.0 1506.9L1058.0 1507.3L1059.0 1508.3L1060.0 1508.8L1061.0 1509.0L1062.0 1509.8L1063.0 1508.9L1064.0 1509.9L1065.0 1509.6L1066.0 1510.1L1067.0 1508.3L1068.0 1510.8L1069.0 1508.8L1070.0 1509.3L1071.0 1510.8L1072.0 1510.0L1073.0 1511.8L1074.0 1510.7L1075.0 1509.9L1076.0 1510.9L1077.0 1510.5L1078.0 1512.1L1079.0 1512.2L1080.0 1511.6L1081.0 1510.8L1082.0 1511.3L1083.0 1512.1L1084.0 1510.8L1085.0 1510.8L1086.0 1512.1L1087.0 1512.1L1088.0 1511.4L1089.0 1511.4L1090.0 1510.2L1091.0 1512.6L1092.0 1511.7L1093.0 1510.8L1094.0 1511.0L1095.0 1511.3L1096.0 1513.3L1097.0 1512.5L1098.0 1511.1L1099.0 1513.5L1100.0 1513.1L1101.0 1511.4L1102.0 1510.2L1103.0 1513.0L1104.0 1511.8L1105.0 1512.2L1106.0 1511.9L1107.0 1513.3L1108.0 1513.5L1109.0 1513.0L1110.0 1512.3L1111.0 1512.7L1112.0 1513.0L1113.0 1511.3L1114.0 1513.5L1115.0 1512.3L1116.0 1512.8L1117.0 1512.7L1118.0 1513.3L1119.0 1513.5L1120.0 1514.3L1121.0 1512.4L1122.0 1512.0L1123.0 1512.8L1124.0 1512.3L1125.0 1513.4L1126.0 1512.2L1127.0 1512.9L1128.0 1513.5L1129.0 1513.6L1130.0 1513.0L1131.0 1513.9L1132.0 1513.9L1133.0 1511.6L1134.0 1513.2L1135.0 1513.1L1136.0 1512.7L1137.0 1512.5L1138.0 1513.0L1139.0 1513.3L1140.0 1513.2L1141.0 1514.0L1142.0 1513.8L1143.0 1512.6L1144.0 1512.5L1145.0 1513.7L1146.0 1512.5L1147.0 1513.2L1148.0 1513.4L1149.0 1513.9L1150.0 1513.5L1151.0 1514.2L1152.0 1512.8L1153.0 1513.6L1154.0 1512.6L1155.0 1513.3L1156.0 1513.2L1157.0 1512.4L1158.0 1511.2L1159.0 1513.9L1160.0 1513.4L1161.0 1513.3L1162.0 1512.6L1163.0 1512.9L1164.0 1513.5L1165.0 1513.2L1166.0 1514.1L1167.0 1513.3L1168.0 1512.6L1169.0 1513.6L1170.0 1512.7L1171.0 1513.4L1172.0 1511.8L1173.0 1512.9L1174.0 1513.6L1175.0 1512.7L1176.0 1513.2L1177.0 1513.6L1178.0 1513.2L1179.0 1514.5L1180.0 1513.0L1181.0 1513.1L1182.0 1513.1L1183.0 1511.7L1184.0 1512.0L1185.0 1513.6L1186.0 1512.9L1187.0 1514.2L1188.0 1513.1L1189.0 1513.0L1190.0 1513.9L1191.0 1513.4L1192.0 1514.4L1193.0 1512.4L1194.0 1513.5L1195.0 1513.7L1196.0 1513.6L1197.0 1514.0L1198.0 1513.9L1199.0 1513.2L1200.0 1512.7L1201.0 1513.9L1202.0 1513.2L1203.0 1513.8L1204.0 1514.1L1205.0 1513.3L1206.0 1512.4L1207.0 1512.9L1208.0 1513.7L1209.0 1512.9L1210.0 1514.0L1211.0 1513.1L1212.0 1513.2L1213.0 1512.6L1214.0 1513.0L1215.0 1513.8L1216.0 1512.8L1217.0 1512.7L1218.0 1512.4L1219.0 1513.5L1220.0 1511.8L1221.0 1512.4L1222.0 1513.6L1223.0 1513.9L1224.0 1512.7L1225.0 1513.5L1226.0 1511.3L1227.0 1513.3L1228.0 1513.0L1229.0 1511.8L1230.0 1511.4L1231.0 1512.3L1232.0 1512.8L1233.0 1512.9L1234.0 1512.6L1235.0 1513.1L1236.0 1513.0L1237.0 1511.4L1238.0 1512.1L1239.0 1511.9L1240.0 1513.0L1241.0 1511.9L1242.0 1512.9L1243.0 1512.2L1244.0 1513.8L1245.0 1511.9L1246.0 1511.9L1247.0 1511.7L1248.0 1511.8L1249.0 1513.4L1250.0 1511.0L1251.0 1510.6L1252.0 1510.9L1253.0 1511.4L1254.0 1509.9L1255.0 1511.0L1256.0 1510.7L1257.0 1509.6L1258.0 1509.2L1259.0 1508.3L1260.0 1508.2L1261.0 1507.2L1262.0 1508.1L1263.0 1507.7L1264.0 1505.5L1265.0 1504.8L1266.0 1502.5L1267.0 1502.6L1268.0 1502.2L1269.0 1501.1L1270.0 1499.9L1271.0 1499.4L1272.0 1497.8L1273.0 1496.5L1274.0 1497.3L1275.0 1494.0L1276.0 1494.3L1277.0 1494.5L1278.0 1494.6L1279.0 1494.9L1280.0 1495.9L1281.0 1496.3L1282.0 1497.6L1283.0 1499.1L1284.0 1499.7L1285.0 1500.8L1286.0 1501.0L1287.0 1501.8L1288.0 1503.3L1289.0 1505.1L1290.0 1505.5L1291.0 1506.7L1292.0 1507.3L1293.0 1508.0L1294.0 1507.0L1295.0 1509.0L1296.0 1509.0L1297.0 1510.3L1298.0 1509.5L1299.0 1509.5L1300.0 1509.3L1301.0 1509.7L1302.0 1508.5L1303.0 1509.6L1304.0 1509.9L1305.0 1510.7L1306.0 1509.5L1307.0 1510.1L1308.0 1511.4L1309.0 1509.6L1310.0 1510.7L1311.0 1509.6L1312.0 1509.9L1313.0 1510.3L1314.0 1510.5L1315.0 1509.5L1316.0 1509.0L1317.0 1510.8L1318.0 1509.7L1319.0 1510.1L1320.0 1510.1L1321.0 1509.8L1322.0 1509.0L1323.0 1508.9L1324.0 1507.7L1325.0 1508.8L1326.0 1508.2L1327.0 1508.3L1328.0 1509.5L1329.0 1508.4L1330.0 1507.6L1331.0 1506.3L1332.0 1507.5L1333.0 1507.8L1334.0 1505.7L1335.0 1506.1L1336.0 1505.0L1337.0 1504.7L1338.0 1503.9L1339.0 1502.2L1340.0 1502.2L1341.0 1500.5L1342.0 1501.7L1343.0 1500.2L1344.0 1498.1L1345.0 1496.7L1346.0 1494.8L1347.0 1492.9L1348.0 1490.7L1349.0 1487.9L1350.0 1485.2L1351.0 1481.3L1352.0 1478.3L1353.0 1475.0L1354.0 1471.8L1355.0 1467.3L1356.0 1464.6L1357.0 1458.7L1358.0 1454.0L1359.0 1450.1L1360.0 1446.2L1361.0 1442.8L1362.0 1438.6L1363.0 1434.5L1364.0 1432.6L1365.0 1432.2L1366.0 1431.2L1367.0 1432.2L1368.0 1433.1L1369.0 1436.7L1370.0 1439.6L1371.0 1443.0L1372.0 1446.4L1373.0 1449.4L1374.0 1454.0L1375.0 1459.7L1376.0 1464.3L1377.0 1465.9L1378.0 1471.7L1379.0 1476.7L1380.0 1480.1L1381.0 1482.3L1382.0 1486.1L1383.0 1488.3L1384.0 1490.6L1385.0 1493.7L1386.0 1495.7L1387.0 1496.2L1388.0 1497.4L1389.0 1498.4L1390.0 1499.5L1391.0 1502.6L1392.0 1503.9L1393.0 1503.4L1394.0 1504.8L1395.0 1504.1L1396.0 1505.1L1397.0 1506.3L1398.0 1506.3L1399.0 1506.4L1400.0 1505.5L1401.0 1506.0L1402.0 1507.0L1403.0 1507.2L1404.0 1507.8L1405.0 1507.6L1406.0 1508.1L1407.0 1508.4L1408.0 1508.9L1409.0 1508.7L1410.0 1508.4L1411.0 1508.8L1412.0 1509.7L1413.0 1509.0L1414.0 1508.6L1415.0 1508.6L1416.0 1509.7L1417.0 1509.9L1418.0 1510.5L1419.0 1509.4L1420.0 1510.7L1421.0 1509.5L1422.0 1509.6L1423.0 1509.4L1424.0 1510.3L1425.0 1510.7L1426.0 1509.9L1427.0 1509.6L1428.0 1508.8L1429.0 1510.1L1430.0 1509.7L1431.0 1509.8L1432.0 1509.5L1433.0 1509.3L1434.0 1509.6L1435.0 1510.3L1436.0 1510.6L1437.0 1509.9L1438.0 1510.1L1439.0 1509.7L1440.0 1509.7L1441.0 1508.8L1442.0 1510.4L1443.0 1510.1L1444.0 1510.7L1445.0 1509.1L1446.0 1509.6L1447.0 1508.7L1448.0 1509.5L1449.0 1509.2L1450.0 1509.6L1451.0 1508.9L1452.0 1509.4L1453.0 1508.5L1454.0 1509.1L1455.0 1508.4L1456.0 1508.1L1457.0 1508.4L1458.0 1508.4L1459.0 1506.9L1460.0 1506.7L1461.0 1507.7L1462.0 1507.3L1463.0 1505.7L1464.0 1505.7L1465.0 1506.1L1466.0 1506.6L1467.0 1506.2L1468.0 1506.4L1469.0 1506.2L1470.0 1506.7L1471.0 1503.5L1472.0 1504.1L1473.0 1504.4L1474.0 1502.1L1475.0 1501.4L1476.0 1501.9L1477.0 1501.8L1478.0 1501.1L1479.0 1498.0L1480.0 1497.3L1481.0 1496.9L1482.0 1495.2L1483.0 1494.2L1484.0 1492.2L1485.0 1491.2L1486.0 1487.4L1487.0 1484.6L1488.0 1481.1L1489.0 1477.9L1490.0 1471.8L1491.0 1467.7L1492.0 1460.9L1493.0 1453.8L1494.0 1448.2L1495.0 1439.5L1496.0 1431.1L1497.0 1420.6L1498.0 1410.5L1499.0 1399.4L1500.0 1388.7L1501.0 1377.2L1502.0 1368.5L1503.0 1357.4L1504.0 1351.7L1505.0 1344.8L1506.0 1342.4L1507.0 1341.2L1508.0 1343.4L1509.0 1348.5L1510.0 1354.0L1511.0 1361.3L1512.0 1371.6L1513.0 1382.2L1514.0 1390.7L1515.0 1403.9L1516.0 1414.5L1517.0 1422.5L1518.0 1433.1L1519.0 1442.5L1520.0 1449.0L1521.0 1456.7L1522.0 1463.2L1523.0 1469.5L1524.0 1474.9L1525.0 1478.4L1526.0 1482.3L1527.0 1486.2L1528.0 1488.7L1529.0 1490.7L1530.0 1493.8L1531.0 1493.6L1532.0 1496.3L1533.0 1497.3L1534.0 1498.4L1535.0 1499.9L1536.0 1500.7L1537.0 1503.3L1538.0 1502.7L1539.0 1503.2L1540.0 1504.7L1541.0 1504.8L1542.0 1503.2L1543.0 1505.1L1544.0 1505.9L1545.0 1505.3L1546.0 1506.3L1547.0 1506.1L1548.0 1507.0L1549.0 1505.8L1550.0 1505.8L1551.0 1507.1L1552.0 1507.9L1553.0 1508.9L1554.0 1507.9L1555.0 1507.7L1556.0 1509.0L1557.0 1508.5L1558.0 1509.9L1559.0 1508.6L1560.0 1507.3L1561.0 1508.2L1562.0 1508.2L1563.0 1507.9L1564.0 1508.3L1565.0 1508.4L1566.0 1508.7L1567.0 1508.5L1568.0 1509.1L1569.0 1509.1L1570.0 1508.8L1571.0 1508.7L1572.0 1507.1L1573.0 1507.1L1574.0 1507.6L1575.0 1508.3L1576.0 1506.9L1577.0 1507.5L1578.0 1507.8L1579.0 1509.0L1580.0 1507.6L1581.0 1506.9L1582.0 1508.0L1583.0 1507.2L1584.0 1506.8L1585.0 1507.9L1586.0 1506.4L1587.0 1507.3L1588.0 1507.3L1589.0 1508.0L1590.0 1506.7L1591.0 1506.7L1592.0 1507.6L1593.0 1507.9L1594.0 1508.4L1595.0 1508.3L1596.0 1509.2L1597.0 1509.6L1598.0 1509.5L1599.0 1508.8L1600.0 1510.7L1601.0 1508.9L1602.0 1510.1L1603.0 1511.1L1604.0 1510.2L1605.0 1511.8L1606.0 1512.5L1607.0 1512.4L1608.0 1511.7L1609.0 1512.2L1610.0 1511.2L1611.0 1512.0L1612.0 1512.2L1613.0 1512.0L1614.0 1512.1L1615.0 1511.9L1616.0 1510.7L1617.0 1512.5L1618.0 1512.5L1619.0 1513.9L1620.0 1513.0L1621.0 1512.5L1622.0 1513.2L1623.0 1513.0L1624.0 1512.6L1625.0 1512.4L1626.0 1511.6L1627.0 1512.8L1628.0 1514.0L1629.0 1511.4L1630.0 1512.1L1631.0 1513.4L1632.0 1513.0L1633.0 1513.2L1634.0 1511.5L1635.0 1512.5L1636.0 1513.3L1637.0 1513.4L1638.0 1513.2L1639.0 1512.4L1640.0 1513.4L1641.0 1512.2L1642.0 1512.4L1643.0 1512.2L1644.0 1514.2L1645.0 1512.8L1646.0 1513.2L1647.0 1511.5L1648.0 1514.0L1649.0 1513.5L1650.0 1512.0L1651.0 1512.0L1652.0 1514.5L1653.0 1512.5L1654.0 1514.6L1655.0 1512.9L1656.0 1511.4L1657.0 1514.1L1658.0 1513.7L1659.0 1513.8L1660.0 1512.9L1661.0 1513.1L1662.0 1514.0L1663.0 1512.7L1664.0 1511.8L1665.0 1514.0L1666.0 1512.9L1667.0 1514.3L1668.0 1513.0L1669.0 1513.0L1670.0 1513.2L1671.0 1511.6L1672.0 1514.2L1673.0 1512.9L1674.0 1513.2L1675.0 1514.5L1676.0 1513.4L1677.0 1514.0L1678.0 1513.6L1679.0 1513.9L1680.0 1513.6L1681.0 1514.2L1682.0 1513.2L1683.0 1513.7L1684.0 1512.8L1685.0 1514.2L1686.0 1511.7L1687.0 1513.4L1688.0 1513.6L1689.0 1513.5L1690.0 1513.2L1691.0 1514.2L1692.0 1514.8L1693.0 1512.7L1694.0 1511.7L1695.0 1512.3L1696.0 1512.5L1697.0 1512.9L1698.0 1513.0L1699.0 1513.8L1700.0 1512.6L1701.0 1512.8L1702.0 1512.8L1703.0 1512.0L1704.0 1512.4L1705.0 1514.6L1706.0 1512.4L1707.0 1511.6L1708.0 1510.6L1709.0 1512.9L1710.0 1511.8L1711.0 1511.4L1712.0 1513.6L1713.0 1512.7L1714.0 1510.3L1715.0 1511.2L1716.0 1512.1L1717.0 1511.9L1718.0 1510.3L1719.0 1512.4L1720.0 1512.4L1721.0 1510.2L1722.0 1509.7L1723.0 1509.9L1724.0 1511.5L1725.0 1511.9L1726.0 1511.2L1727.0 1510.7L1728.0 1511.2L1729.0 1511.8L1730.0 1510.5L1731.0 1510.3L1732.0 1511.6L1733.0 1512.7L1734.0 1512.0L1735.0 1512.1L1736.0 1511.5L1737.0 1512.8L1738.0 1510.9L1739.0 1512.2L1740.0 1511.9L1741.0 1512.3L1742.0 1511.8L1743.0 1513.1L1744.0 1512.5L1745.0 1512.2L1746.0 1513.0L1747.0 1512.6L1748.0 1512.3L1749.0 1512.2L1750.0 1513.3L1751.0 1512.0L1752.0 1512.5L1753.0 1512.5L1754.0 1512.9L1755.0 1512.5L1756.0 1514.2L1757.0 1511.3L1758.0 1513.0L1759.0 1512.5L1760.0 1513.3L1761.0 1511.2L1762.0 1513.2L1763.0 1511.2L1764.0 1512.7L1765.0 1512.5L1766.0 1512.0L1767.0 1511.3L1768.0 1511.1L1769.0 1511.7L1770.0 1510.9L1771.0 1509.8L1772.0 1509.7L1773.0 1511.4L1774.0 1511.2L1775.0 1510.6L1776.0 1510.0L1777.0 1509.9L1778.0 1509.6L1779.0 1509.0L1780.0 1507.7L1781.0 1507.3L1782.0 1506.4L1783.0 1506.8L1784.0 1505.4L1785.0 1505.3L1786.0 1505.8L1787.0 1503.8L1788.0 1504.0L1789.0 1503.7L1790.0 1500.3L1791.0 1499.8L1792.0 1500.5L1793.0 1498.8L1794.0 1499.0L1795.0 1498.5L1796.0 1497.0L1797.0 1497.5L1798.0 1497.7L1799.0 1496.9L1800.0 1495.4L1801.0 1495.9L1802.0 1495.7L1803.0 1497.6L1804.0 1496.6L1805.0 1496.7L1806.0 1497.9L1807.0 1498.9L1808.0 1498.9L1809.0 1500.0L1810.0 1500.7L1811.0 1502.1L1812.0 1503.1L1813.0 1503.3L1814.0 1503.5L1815.0 1504.9L1816.0 1504.7L1817.0 1506.8L1818.0 1506.9L1819.0 1507.4L1820.0 1506.0L1821.0 1510.1L1822.0 1509.9L1823.0 1510.2L1824.0 1509.7L1825.0 1510.5L1826.0 1512.4L1827.0 1510.1L1828.0 1511.4L1829.0 1511.6L1830.0 1511.5L1831.0 1511.8L1832.0 1511.0L1833.0 1512.4L1834.0 1511.1L1835.0 1513.6L1836.0 1512.9L1837.0 1511.8L1838.0 1510.9L1839.0 1512.7L1840.0 1513.1L1841.0 1512.0L1842.0 1514.1L1843.0 1513.1L1844.0 1512.6L1845.0 1511.9L1846.0 1512.9L1847.0 1512.9L1848.0 1513.6L1849.0 1513.9L1850.0 1513.2L1851.0 1513.6L1852.0 1514.3L1853.0 1513.7L1854.0 1513.1L1855.0 1513.8L1856.0 1512.9L1857.0 1513.7L1858.0 1513.4L1859.0 1512.5L1860.0 1513.8L1861.0 1513.5L1862.0 1514.0L1863.0 1512.4L1864.0 1514.2L1865.0 1514.3L1866.0 1513.2L1867.0 1513.3L1868.0 1513.5L1869.0 1513.4L1870.0 1514.0L1871.0 1512.9L1872.0 1512.5L1873.0 1513.2L1874.0 1514.8L1875.0 1513.1L1876.0 1512.6L1877.0 1512.6L1878.0 1513.4L1879.0 1514.2L1880.0 1512.7L1881.0 1513.4L1882.0 1513.4L1883.0 1513.5L1884.0 1513.2L1885.0 1513.9L1886.0 1513.6L1887.0 1512.5L1888.0 1514.8L1889.0 1511.8L1890.0 1511.8L1891.0 1513.5L1892.0 1512.8L1893.0 1512.3L1894.0 1512.6L1895.0 1512.8L1896.0 1511.8L1897.0 1511.5L1898.0 1511.1L1899.0 1511.0L1900.0 1510.8L1901.0 1512.1L1902.0 1511.2L1903.0 1511.1L1904.0 1510.0L1905.0 1510.8L1906.0 1508.5L1907.0 1509.6L1908.0 1509.4L1909.0 1508.0L1910.0 1507.2L1911.0 1507.8L1912.0 1506.3L1913.0 1505.6L1914.0 1505.7L1915.0 1504.3L1916.0 1504.4L1917.0 1505.4L1918.0 1503.0L1919.0 1503.4L1920.0 1501.3L1921.0 1501.7L1922.0 1500.9L1923.0 1500.6L1924.0 1501.0L1925.0 1501.8L1926.0 1500.0L1927.0 1501.0L1928.0 1500.3L1929.0 1500.8L1930.0 1500.1L1931.0 1500.3L1932.0 1501.1L1933.0 1501.1L1934.0 1502.2L1935.0 1502.0L1936.0 1503.4L1937.0 1504.1L1938.0 1506.0L1939.0 1506.5L1940.0 1506.2L1941.0 1506.0L1942.0 1507.4L1943.0 1508.1L1944.0 1507.9L1945.0 1507.9L1946.0 1507.6L1947.0 1509.4L1948.0 1511.2L1949.0 1510.0L1950.0 1510.8L1951.0 1511.1L1952.0 1511.5L1953.0 1511.9L1954.0 1510.1L1955.0 1511.7L1956.0 1512.3L1957.0 1512.1L1958.0 1513.3L1959.0 1512.2L1960.0 1513.3L1961.0 1514.1L1962.0 1512.7L1963.0 1513.0L1964.0 1512.8L1965.0 1513.7L1966.0 1511.6L1967.0 1512.1L1968.0 1513.1L1969.0 1514.0L1970.0 1513.8L1971.0 1512.8L1972.0 1514.6L1973.0 1513.6L1974.0 1513.0L1975.0 1513.9L1976.0 1514.5L1977.0 1513.5L1978.0 1512.4L1979.0 1513.1L1980.0 1513.6L1981.0 1514.2L1982.0 1512.8L1983.0 1513.7L1984.0 1512.6L1985.0 1513.5L1986.0 1512.4L1987.0 1513.0L1988.0 1512.2L1989.0 1512.5L1990.0 1512.0L1991.0 1511.7L1992.0 1514.0L1993.0 1513.9L1994.0 1513.3L1995.0 1512.6L1996.0 1513.9L1997.0 1512.5L1998.0 1513.0L1999.0 1513.5L2000.0 1512.8L2001.0 1513.7L2002.0 1512.4L2003.0 1512.4L2004.0 1512.6L2005.0 1511.7L2006.0 1511.8L2007.0 1513.2L2008.0 1511.4L2009.0 1513.6L2010.0 1513.0L2011.0 1513.8L2012.0 1513.6L2013.0 1513.5L2014.0 1514.5L2015.0 1513.2L2016.0 1513.3L2017.0 1514.3L2018.0 1513.0L2019.0 1514.5L2020.0 1514.2L2021.0 1513.4L2022.0 1512.9L2023.0 1512.4L2024.0 1515.4L2025.0 1512.9L2026.0 1513.2L2027.0 1514.8L2028.0 1514.5L2029.0 1514.4L2030.0 1514.3L2031.0 1513.9L2032.0 1513.6L2033.0 1513.8L2034.0 1514.8L2035.0 1515.2L2036.0 1515.3L2037.0 1514.4L2038.0 1512.7L2039.0 1514.8L2040.0 1514.4L2041.0 1512.5L2042.0 1515.5L2043.0 1514.7L2044.0 1514.5L2045.0 1514.7L2046.0 1514.6L2047.0 1514.7L2048.0 1514.7L2049.0 1514.6L2050.0 1515.0L2051.0 1514.9L2052.0 1516.4L2053.0 1514.7L2054.0 1514.2L2055.0 1514.2L2056.0 1514.9L2057.0 1514.8L2058.0 1514.9L2059.0 1514.5L2060.0 1514.5L2061.0 1515.3L2062.0 1515.7L2063.0 1515.0L2064.0 1514.6L2065.0 1513.8L2066.0 1513.8L2067.0 1514.8L2068.0 1514.5L2069.0 1514.7L2070.0 1513.9L2071.0 1514.6L2072.0 1513.3L2073.0 1513.8L2074.0 1514.1L2075.0 1515.2L2076.0 1514.3L2077.0 1514.0L2078.0 1515.0L2079.0 1514.7L2080.0 1515.5L2081.0 1515.0L2082.0 1514.9L2083.0 1514.6L2084.0 1515.3L2085.0 1514.2L2086.0 1513.6L2087.0 1515.4L2088.0 1514.4L2089.0 1514.8L2090.0 1515.2L2091.0 1515.5L2092.0 1512.6L2093.0 1514.0L2094.0 1515.7L2095.0 1513.5L2096.0 1515.2L2097.0 1514.5L2098.0 1514.1L2099.0 1514.7" fill="none" stroke="#000000" stroke-width="5.2" stroke-linejoin="round" shape-rendering="crispEdges"/>
<rect x="384" y="254" width="23" height="23" fill="#000"/>
<rect x="679" y="256" width="23" height="23" fill="#000"/>
<rect x="812" y="74" width="23" height="23" fill="#000"/>
<rect x="1002" y="166" width="23" height="23" fill="#000"/>
<rect x="1265" y="325" width="23" height="23" fill="#000"/>
<rect x="1355" y="236" width="23" height="23" fill="#000"/>
<rect x="1498" y="156" width="23" height="23" fill="#000"/>
<rect x="1786" y="320" width="23" height="23" fill="#000"/>
<rect x="383" y="564" width="23" height="23" fill="#000"/>
<rect x="676" y="560" width="23" height="23" fill="#000"/>
<rect x="812" y="378" width="23" height="23" fill="#000"/>
<rect x="1004" y="474" width="23" height="23" fill="#000"/>
<rect x="1264" y="636" width="23" height="23" fill="#000"/>
<rect x="1353" y="551" width="23" height="23" fill="#000"/>
<rect x="1495" y="454" width="23" height="23" fill="#000"/>
<rect x="1789" y="635" width="23" height="23" fill="#000"/>
<rect x="384" y="871" width="23" height="23" fill="#000"/>
<rect x="678" y="877" width="23" height="23" fill="#000"/>
<rect x="812" y="683" width="23" height="23" fill="#000"/>
<rect x="1002" y="793" width="23" height="23" fill="#000"/>
<rect x="1267" y="944" width="23" height="23" fill="#000"/>
<rect x="1352" y="863" width="23" height="23" fill="#000"/>
<rect x="1495" y="765" width="23" height="23" fill="#000"/>
<rect x="1791" y="950" width="23" height="23" fill="#000"/>
<rect x="386" y="1152" width="23" height="23" fill="#000"/>
<rect x="677" y="1157" width="23" height="23" fill="#000"/>
<rect x="814" y="1004" width="23" height="23" fill="#000"/>
<rect x="1002" y="1079" width="23" height="23" fill="#000"/>
<rect x="1267" y="1205" width="23" height="23" fill="#000"/>
<rect x="1356" y="1145" width="23" height="23" fill="#000"/>
<rect x="1493" y="1070" width="23" height="23" fill="#000"/>
<rect x="1784" y="1206" width="23" height="23" fill="#000"/>
<rect x="380" y="1406" width="23" height="23" fill="#000"/>
<rect x="679" y="1412" width="23" height="23" fill="#000"/>
<rect x="809" y="1271" width="23" height="23" fill="#000"/>
<rect x="998" y="1335" width="23" height="23" fill="#000"/>
<rect x="1269" y="1461" width="23" height="23" fill="#000"/>
<rect x="1358" y="1400" width="23" height="23" fill="#000"/>
<rect x="1495" y="1300" width="23" height="23" fill="#000"/>
<rect x="1790" y="1459" width="23" height="23" fill="#000"/>
<rect x="1598" y="135" width="23" height="23" fill="#000"/>
<text class="tn" x="1828.5" y="332.2" font-size="49">Calcined 10h</text>
<text class="tn" x="1843.1" y="651.1" font-size="49">Calcined 7h</text>
<text class="tn" x="1866.2" y="959.4" font-size="49">Calcined 5h</text>
<text class="tn" x="1859.1" y="1220.2" font-size="49">Calcined 3h</text>
<text class="tn" x="1868.4" y="1490.2" font-size="49">Calcined 1h</text>
<text class="tn" x="1666" y="146" font-size="56.5">Spinel (MgAl<tspan font-size="34" dy="20">2</tspan><tspan dy="-20">O</tspan><tspan font-size="34" dy="20">4</tspan><tspan dy="-20">)</tspan></text>
<g fill="#000">
<rect x="173" y="41" width="6" height="1562"/>
<rect x="2096" y="41" width="6" height="1562"/>
<rect x="176" y="38" width="1924" height="7"/>
<rect x="176" y="1600" width="1924" height="6"/>
<rect x="292.94" y="1588" width="6.5" height="12"/>
<rect x="413.12" y="1573" width="6.5" height="27"/>
<rect x="533.31" y="1588" width="6.5" height="12"/>
<rect x="653.50" y="1573" width="6.5" height="27"/>
<rect x="773.69" y="1588" width="6.5" height="12"/>
<rect x="893.88" y="1573" width="6.5" height="27"/>
<rect x="1014.06" y="1588" width="6.5" height="12"/>
<rect x="1134.25" y="1573" width="6.5" height="27"/>
<rect x="1254.44" y="1588" width="6.5" height="12"/>
<rect x="1374.62" y="1573" width="6.5" height="27"/>
<rect x="1494.81" y="1588" width="6.5" height="12"/>
<rect x="1615.00" y="1573" width="6.5" height="27"/>
<rect x="1735.19" y="1588" width="6.5" height="12"/>
<rect x="1855.38" y="1573" width="6.5" height="27"/>
<rect x="1975.56" y="1588" width="6.5" height="12"/>
</g>
<text class="ar" x="176.0" y="1685" font-size="64" text-anchor="middle">10</text>
<text class="ar" x="416.4" y="1685" font-size="64" text-anchor="middle">20</text>
<text class="ar" x="656.8" y="1685" font-size="64" text-anchor="middle">30</text>
<text class="ar" x="897.1" y="1685" font-size="64" text-anchor="middle">40</text>
<text class="ar" x="1137.5" y="1685" font-size="64" text-anchor="middle">50</text>
<text class="ar" x="1377.9" y="1685" font-size="64" text-anchor="middle">60</text>
<text class="ar" x="1618.2" y="1685" font-size="64" text-anchor="middle">70</text>
<text class="ar" x="1858.6" y="1685" font-size="64" text-anchor="middle">80</text>
<text class="ar" x="2099.0" y="1685" font-size="64" text-anchor="middle">90</text>
<text class="tn" x="1138" y="1800.5" font-size="71" text-anchor="middle">2 theta</text>
<text class="tn" transform="translate(68.3,873.3) rotate(-90)" font-size="70.8" text-anchor="middle">Indensity (counts)</text>
</svg></body></html>
